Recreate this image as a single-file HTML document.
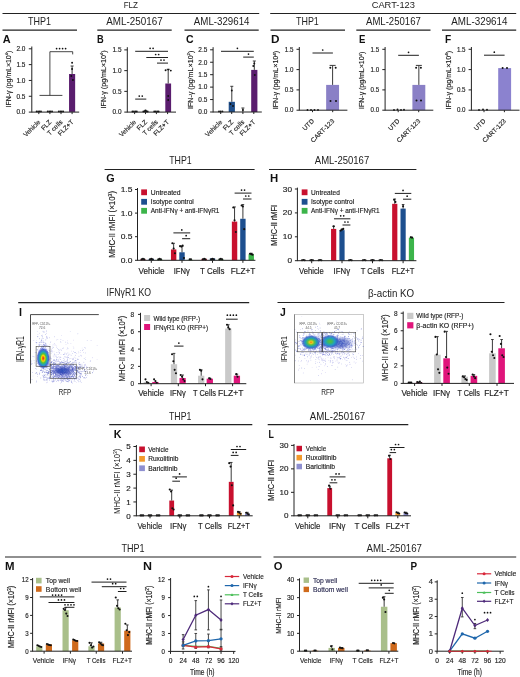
<!DOCTYPE html>
<html><head><meta charset="utf-8"><style>
html,body{margin:0;padding:0;background:#fff;width:520px;height:677px;overflow:hidden}
svg{display:block;will-change:transform}
svg{font-family:"Liberation Sans", sans-serif}
</style></head><body>
<svg width="520" height="677" viewBox="0 0 520 677">
<defs><radialGradient id="hotI" cx="50%" cy="50%" r="50%">
<stop offset="0" stop-color="#e8201a"/><stop offset="0.14" stop-color="#f07a10"/><stop offset="0.26" stop-color="#f5d800"/>
<stop offset="0.42" stop-color="#50c040"/><stop offset="0.6" stop-color="#20a0c0"/><stop offset="0.8" stop-color="#3050c8" stop-opacity="0.85"/>
<stop offset="1" stop-color="#5060d0" stop-opacity="0"/></radialGradient>
<radialGradient id="hotJL" cx="50%" cy="50%" r="50%">
<stop offset="0" stop-color="#f08010"/><stop offset="0.16" stop-color="#e8c820"/><stop offset="0.34" stop-color="#60c040"/>
<stop offset="0.55" stop-color="#20a0b0"/><stop offset="0.78" stop-color="#3060c8" stop-opacity="0.85"/>
<stop offset="1" stop-color="#5060d0" stop-opacity="0"/></radialGradient>
<radialGradient id="hotJR" cx="50%" cy="50%" r="50%">
<stop offset="0" stop-color="#50c040"/><stop offset="0.22" stop-color="#40b860"/>
<stop offset="0.5" stop-color="#20a0c0"/><stop offset="0.78" stop-color="#3060c8" stop-opacity="0.8"/>
<stop offset="1" stop-color="#5060d0" stop-opacity="0"/></radialGradient>
<radialGradient id="blueC" cx="50%" cy="50%" r="50%">
<stop offset="0" stop-color="#2248b8"/><stop offset="0.5" stop-color="#2c44b4" stop-opacity="0.8"/>
<stop offset="1" stop-color="#6070d0" stop-opacity="0"/></radialGradient></defs>
<rect width="520" height="677" fill="#fff"/>
<g fill="#222">
<text x="123.7" y="8" font-size="9.4" textLength="14.3" lengthAdjust="spacingAndGlyphs">FLZ</text>
<line x1="2.5" y1="13.5" x2="259.2" y2="13.5" stroke="#222" stroke-width="1.2"/>
<text x="371.7" y="8" font-size="9.4" textLength="43.3" lengthAdjust="spacingAndGlyphs">CART-123</text>
<line x1="270.2" y1="13.5" x2="516.2" y2="13.5" stroke="#222" stroke-width="1.2"/>
<text x="28" y="25" font-size="10.3" textLength="23" lengthAdjust="spacingAndGlyphs">THP1</text>
<line x1="2.5" y1="30.1" x2="77" y2="30.1" stroke="#222" stroke-width="1.2"/>
<text x="106.3" y="25" font-size="10.3" textLength="56.4" lengthAdjust="spacingAndGlyphs">AML-250167</text>
<line x1="97.3" y1="30.1" x2="171.7" y2="30.1" stroke="#222" stroke-width="1.2"/>
<text x="193.8" y="25" font-size="10.3" textLength="55.7" lengthAdjust="spacingAndGlyphs">AML-329614</text>
<line x1="184.5" y1="30.1" x2="258.7" y2="30.1" stroke="#222" stroke-width="1.2"/>
<text x="296" y="25" font-size="10.3" textLength="22.8" lengthAdjust="spacingAndGlyphs">THP1</text>
<line x1="270.5" y1="30.1" x2="345" y2="30.1" stroke="#222" stroke-width="1.2"/>
<text x="366" y="25" font-size="10.3" textLength="54.8" lengthAdjust="spacingAndGlyphs">AML-250167</text>
<line x1="356.3" y1="30.1" x2="430.5" y2="30.1" stroke="#222" stroke-width="1.2"/>
<text x="451.3" y="25" font-size="10.3" textLength="56.2" lengthAdjust="spacingAndGlyphs">AML-329614</text>
<line x1="442" y1="30.1" x2="516.2" y2="30.1" stroke="#222" stroke-width="1.2"/>
<text x="2.7" y="43.2" font-size="10.5" textLength="7.9" lengthAdjust="spacingAndGlyphs" font-weight="bold" fill="#111">A</text>
<text x="97.1" y="43.2" font-size="10.5" textLength="6.7" lengthAdjust="spacingAndGlyphs" font-weight="bold" fill="#111">B</text>
<text x="186" y="43.2" font-size="10.5" textLength="7.6" lengthAdjust="spacingAndGlyphs" font-weight="bold" fill="#111">C</text>
<text x="271" y="43.2" font-size="10.5" textLength="8.5" lengthAdjust="spacingAndGlyphs" font-weight="bold" fill="#111">D</text>
<text x="358.9" y="43.2" font-size="10.5" textLength="6.4" lengthAdjust="spacingAndGlyphs" font-weight="bold" fill="#111">E</text>
<text x="445" y="43.2" font-size="10.5" textLength="6.2" lengthAdjust="spacingAndGlyphs" font-weight="bold" fill="#111">F</text>
<line x1="31.8" y1="46.5" x2="31.8" y2="112.5" stroke="#222" stroke-width="1"/>
<line x1="28.8" y1="112.1" x2="31.8" y2="112.1" stroke="#222" stroke-width="1"/>
<text x="25.4" y="114.37" font-size="6.3" text-anchor="end" textLength="9" lengthAdjust="spacingAndGlyphs" stroke="#222" stroke-width="0.15">0.0</text>
<line x1="28.8" y1="96.27" x2="31.8" y2="96.27" stroke="#222" stroke-width="1"/>
<text x="25.4" y="98.54" font-size="6.3" text-anchor="end" textLength="9" lengthAdjust="spacingAndGlyphs" stroke="#222" stroke-width="0.15">0.5</text>
<line x1="28.8" y1="80.45" x2="31.8" y2="80.45" stroke="#222" stroke-width="1"/>
<text x="25.4" y="82.72" font-size="6.3" text-anchor="end" textLength="9" lengthAdjust="spacingAndGlyphs" stroke="#222" stroke-width="0.15">1.0</text>
<line x1="28.8" y1="64.62" x2="31.8" y2="64.62" stroke="#222" stroke-width="1"/>
<text x="25.4" y="66.89" font-size="6.3" text-anchor="end" textLength="9" lengthAdjust="spacingAndGlyphs" stroke="#222" stroke-width="0.15">1.5</text>
<line x1="28.8" y1="48.8" x2="31.8" y2="48.8" stroke="#222" stroke-width="1"/>
<text x="25.4" y="51.07" font-size="6.3" text-anchor="end" textLength="9" lengthAdjust="spacingAndGlyphs" stroke="#222" stroke-width="0.15">2.0</text>
<rect x="69.05" y="74" width="6.1" height="37.9" fill="#5a1d6e"/>
<line x1="72.1" y1="66" x2="72.1" y2="74" stroke="#3a3a3a" stroke-width="1"/>
<line x1="70.6" y1="66" x2="73.6" y2="66" stroke="#3a3a3a" stroke-width="1"/>
<circle cx="72.1" cy="62.7" r="0.95" fill="#111"/>
<circle cx="72.1" cy="69" r="0.95" fill="#111"/>
<circle cx="71.3" cy="76" r="0.95" fill="#111"/>
<circle cx="72.9" cy="80" r="0.95" fill="#111"/>
<circle cx="36.6" cy="111.4" r="0.9" fill="#111"/>
<circle cx="38.1" cy="111.4" r="0.9" fill="#111"/>
<circle cx="39.6" cy="111.4" r="0.9" fill="#111"/>
<circle cx="41" cy="111.4" r="0.9" fill="#111"/>
<circle cx="47.7" cy="111.4" r="0.9" fill="#111"/>
<circle cx="49.2" cy="111.4" r="0.9" fill="#111"/>
<circle cx="50.7" cy="111.4" r="0.9" fill="#111"/>
<circle cx="52.1" cy="111.4" r="0.9" fill="#111"/>
<circle cx="58.8" cy="111.4" r="0.9" fill="#111"/>
<circle cx="60.3" cy="111.4" r="0.9" fill="#111"/>
<circle cx="61.8" cy="111.4" r="0.9" fill="#111"/>
<circle cx="63.2" cy="111.4" r="0.9" fill="#111"/>
<line x1="31.8" y1="112.1" x2="79.2" y2="112.1" stroke="#222" stroke-width="1"/>
<line x1="38.8" y1="112.1" x2="38.8" y2="114.1" stroke="#222" stroke-width="1"/>
<line x1="49.9" y1="112.1" x2="49.9" y2="114.1" stroke="#222" stroke-width="1"/>
<line x1="61" y1="112.1" x2="61" y2="114.1" stroke="#222" stroke-width="1"/>
<line x1="72.1" y1="112.1" x2="72.1" y2="114.1" stroke="#222" stroke-width="1"/>
<line x1="39.5" y1="95.4" x2="62.4" y2="95.4" stroke="#262626" stroke-width="0.85"/>
<line x1="49.9" y1="95.4" x2="49.9" y2="51.7" stroke="#262626" stroke-width="0.85"/>
<line x1="49.9" y1="51.7" x2="72.7" y2="51.7" stroke="#262626" stroke-width="0.85"/>
<line x1="72.7" y1="51.7" x2="72.7" y2="54.4" stroke="#262626" stroke-width="0.85"/>
<circle cx="56.6" cy="48.6" r="0.85" fill="#111"/>
<circle cx="59.6" cy="48.6" r="0.85" fill="#111"/>
<circle cx="62.6" cy="48.6" r="0.85" fill="#111"/>
<circle cx="65.6" cy="48.6" r="0.85" fill="#111"/>
<text x="10.6" y="79" font-size="7" text-anchor="middle" textLength="56.7" lengthAdjust="spacingAndGlyphs" stroke="#222" stroke-width="0.15" transform="rotate(-90 10.6 79)">IFN-γ (pg/mL×10<tspan dy="-2.2" font-size="4.2">4</tspan><tspan dy="2.2">)</tspan></text>
<text x="40.8" y="122.5" font-size="6.5" text-anchor="end" stroke="#222" stroke-width="0.15" transform="rotate(-45 40.8 122.5)">Vehicle</text>
<text x="51.9" y="122.5" font-size="6.5" text-anchor="end" stroke="#222" stroke-width="0.15" transform="rotate(-45 51.9 122.5)">FLZ</text>
<text x="63" y="122.5" font-size="6.5" text-anchor="end" stroke="#222" stroke-width="0.15" transform="rotate(-45 63 122.5)">T cells</text>
<text x="74.1" y="122.5" font-size="6.5" text-anchor="end" stroke="#222" stroke-width="0.15" transform="rotate(-45 74.1 122.5)">FLZ+T</text>
<line x1="127.3" y1="47.2" x2="127.3" y2="112.5" stroke="#222" stroke-width="1"/>
<line x1="124.3" y1="112.1" x2="127.3" y2="112.1" stroke="#222" stroke-width="1"/>
<text x="121.5" y="114.37" font-size="6.3" text-anchor="end" textLength="9" lengthAdjust="spacingAndGlyphs" stroke="#222" stroke-width="0.15">0.0</text>
<line x1="124.3" y1="91.37" x2="127.3" y2="91.37" stroke="#222" stroke-width="1"/>
<text x="121.5" y="93.63" font-size="6.3" text-anchor="end" textLength="9" lengthAdjust="spacingAndGlyphs" stroke="#222" stroke-width="0.15">0.5</text>
<line x1="124.3" y1="70.63" x2="127.3" y2="70.63" stroke="#222" stroke-width="1"/>
<text x="121.5" y="72.9" font-size="6.3" text-anchor="end" textLength="9" lengthAdjust="spacingAndGlyphs" stroke="#222" stroke-width="0.15">1.0</text>
<line x1="124.3" y1="49.9" x2="127.3" y2="49.9" stroke="#222" stroke-width="1"/>
<text x="121.5" y="52.17" font-size="6.3" text-anchor="end" textLength="9" lengthAdjust="spacingAndGlyphs" stroke="#222" stroke-width="0.15">1.5</text>
<rect x="165.3" y="83.5" width="5.8" height="28.5" fill="#5a1d6e"/>
<line x1="168.2" y1="69.3" x2="168.2" y2="83.5" stroke="#3a3a3a" stroke-width="1"/>
<line x1="166.7" y1="69.3" x2="169.7" y2="69.3" stroke="#3a3a3a" stroke-width="1"/>
<circle cx="165.6" cy="70.2" r="0.95" fill="#111"/>
<circle cx="168.2" cy="69.6" r="0.95" fill="#111"/>
<circle cx="170.8" cy="70.6" r="0.95" fill="#111"/>
<circle cx="168.2" cy="96" r="0.95" fill="#111"/>
<circle cx="168.2" cy="100" r="0.95" fill="#111"/>
<circle cx="132.4" cy="111.5" r="0.9" fill="#111"/>
<circle cx="133.9" cy="111.5" r="0.9" fill="#111"/>
<circle cx="135.4" cy="111.5" r="0.9" fill="#111"/>
<circle cx="136.8" cy="111.5" r="0.9" fill="#111"/>
<circle cx="143.3" cy="111.5" r="0.9" fill="#111"/>
<circle cx="144.8" cy="111.5" r="0.9" fill="#111"/>
<circle cx="146.3" cy="111.5" r="0.9" fill="#111"/>
<circle cx="147.7" cy="111.5" r="0.9" fill="#111"/>
<circle cx="154.2" cy="111.5" r="0.9" fill="#111"/>
<circle cx="155.7" cy="111.5" r="0.9" fill="#111"/>
<circle cx="157.2" cy="111.5" r="0.9" fill="#111"/>
<circle cx="158.6" cy="111.5" r="0.9" fill="#111"/>
<circle cx="145.5" cy="110.6" r="1.2" fill="#111"/>
<line x1="127.3" y1="112.1" x2="176" y2="112.1" stroke="#222" stroke-width="1"/>
<line x1="134.6" y1="112.1" x2="134.6" y2="114.1" stroke="#222" stroke-width="1"/>
<line x1="145.5" y1="112.1" x2="145.5" y2="114.1" stroke="#222" stroke-width="1"/>
<line x1="156.4" y1="112.1" x2="156.4" y2="114.1" stroke="#222" stroke-width="1"/>
<line x1="167.6" y1="112.1" x2="167.6" y2="114.1" stroke="#222" stroke-width="1"/>
<line x1="135.2" y1="51.3" x2="168" y2="51.3" stroke="#1e1e1e" stroke-width="1"/>
<circle cx="150.1" cy="48.3" r="0.85" fill="#111"/>
<circle cx="153.1" cy="48.3" r="0.85" fill="#111"/>
<line x1="146.3" y1="57.5" x2="168" y2="57.5" stroke="#1e1e1e" stroke-width="1"/>
<circle cx="155.65" cy="54.5" r="0.85" fill="#111"/>
<circle cx="158.65" cy="54.5" r="0.85" fill="#111"/>
<line x1="157" y1="63.1" x2="168" y2="63.1" stroke="#1e1e1e" stroke-width="1"/>
<circle cx="161" cy="60.1" r="0.85" fill="#111"/>
<circle cx="164" cy="60.1" r="0.85" fill="#111"/>
<line x1="135.2" y1="99.1" x2="146.3" y2="99.1" stroke="#1e1e1e" stroke-width="1"/>
<circle cx="139.25" cy="96.1" r="0.85" fill="#111"/>
<circle cx="142.25" cy="96.1" r="0.85" fill="#111"/>
<text x="105.6" y="79.4" font-size="7" text-anchor="middle" textLength="58" lengthAdjust="spacingAndGlyphs" stroke="#222" stroke-width="0.15" transform="rotate(-90 105.6 79.4)">IFN-γ (pg/mL×10<tspan dy="-2.2" font-size="4.2">4</tspan><tspan dy="2.2">)</tspan></text>
<text x="136.6" y="122.5" font-size="6.5" text-anchor="end" stroke="#222" stroke-width="0.15" transform="rotate(-45 136.6 122.5)">Vehicle</text>
<text x="147.5" y="122.5" font-size="6.5" text-anchor="end" stroke="#222" stroke-width="0.15" transform="rotate(-45 147.5 122.5)">FLZ</text>
<text x="158.4" y="122.5" font-size="6.5" text-anchor="end" stroke="#222" stroke-width="0.15" transform="rotate(-45 158.4 122.5)">T cells</text>
<text x="169.6" y="122.5" font-size="6.5" text-anchor="end" stroke="#222" stroke-width="0.15" transform="rotate(-45 169.6 122.5)">FLZ+T</text>
<line x1="213.1" y1="47.2" x2="213.1" y2="112.4" stroke="#222" stroke-width="1"/>
<line x1="210.1" y1="112" x2="213.1" y2="112" stroke="#222" stroke-width="1"/>
<text x="207.3" y="114.27" font-size="6.3" text-anchor="end" textLength="9" lengthAdjust="spacingAndGlyphs" stroke="#222" stroke-width="0.15">0.0</text>
<line x1="210.1" y1="99.56" x2="213.1" y2="99.56" stroke="#222" stroke-width="1"/>
<text x="207.3" y="101.83" font-size="6.3" text-anchor="end" textLength="9" lengthAdjust="spacingAndGlyphs" stroke="#222" stroke-width="0.15">0.5</text>
<line x1="210.1" y1="87.12" x2="213.1" y2="87.12" stroke="#222" stroke-width="1"/>
<text x="207.3" y="89.39" font-size="6.3" text-anchor="end" textLength="9" lengthAdjust="spacingAndGlyphs" stroke="#222" stroke-width="0.15">1.0</text>
<line x1="210.1" y1="74.68" x2="213.1" y2="74.68" stroke="#222" stroke-width="1"/>
<text x="207.3" y="76.95" font-size="6.3" text-anchor="end" textLength="9" lengthAdjust="spacingAndGlyphs" stroke="#222" stroke-width="0.15">1.5</text>
<line x1="210.1" y1="62.24" x2="213.1" y2="62.24" stroke="#222" stroke-width="1"/>
<text x="207.3" y="64.51" font-size="6.3" text-anchor="end" textLength="9" lengthAdjust="spacingAndGlyphs" stroke="#222" stroke-width="0.15">2.0</text>
<line x1="210.1" y1="49.8" x2="213.1" y2="49.8" stroke="#222" stroke-width="1"/>
<text x="207.3" y="52.07" font-size="6.3" text-anchor="end" textLength="9" lengthAdjust="spacingAndGlyphs" stroke="#222" stroke-width="0.15">2.5</text>
<rect x="228.7" y="101.8" width="6.2" height="10.2" fill="#1f4f8c"/>
<line x1="231.8" y1="86.3" x2="231.8" y2="101.8" stroke="#3a3a3a" stroke-width="1"/>
<line x1="230.3" y1="86.3" x2="233.3" y2="86.3" stroke="#3a3a3a" stroke-width="1"/>
<circle cx="231.8" cy="90.5" r="0.95" fill="#111"/>
<circle cx="230.5" cy="104" r="0.95" fill="#111"/>
<circle cx="233" cy="106" r="0.95" fill="#111"/>
<rect x="251.2" y="69.9" width="6.2" height="42.1" fill="#5a1d6e"/>
<line x1="254.3" y1="61" x2="254.3" y2="69.9" stroke="#3a3a3a" stroke-width="1"/>
<line x1="252.8" y1="61" x2="255.8" y2="61" stroke="#3a3a3a" stroke-width="1"/>
<circle cx="254.3" cy="63.5" r="0.95" fill="#111"/>
<circle cx="253.3" cy="66" r="0.95" fill="#111"/>
<circle cx="254.8" cy="75" r="0.95" fill="#111"/>
<line x1="242.9" y1="108" x2="242.9" y2="112" stroke="#3a3a3a" stroke-width="1"/>
<line x1="241.4" y1="108" x2="244.4" y2="108" stroke="#3a3a3a" stroke-width="1"/>
<circle cx="242.9" cy="110" r="0.95" fill="#111"/>
<circle cx="219" cy="111.4" r="0.95" fill="#111"/>
<circle cx="220.7" cy="111.4" r="0.95" fill="#111"/>
<circle cx="222.4" cy="111.4" r="0.95" fill="#111"/>
<line x1="213.1" y1="112" x2="261.8" y2="112" stroke="#222" stroke-width="1"/>
<line x1="220.7" y1="112" x2="220.7" y2="114" stroke="#222" stroke-width="1"/>
<line x1="231.7" y1="112" x2="231.7" y2="114" stroke="#222" stroke-width="1"/>
<line x1="242.9" y1="112" x2="242.9" y2="114" stroke="#222" stroke-width="1"/>
<line x1="253.8" y1="112" x2="253.8" y2="114" stroke="#222" stroke-width="1"/>
<line x1="221" y1="51.3" x2="253.8" y2="51.3" stroke="#1e1e1e" stroke-width="1"/>
<circle cx="237.4" cy="48.3" r="0.85" fill="#111"/>
<line x1="243.2" y1="57.1" x2="253.8" y2="57.1" stroke="#1e1e1e" stroke-width="1"/>
<circle cx="248.5" cy="54.1" r="0.85" fill="#111"/>
<text x="192.6" y="79.85" font-size="7" text-anchor="middle" textLength="58.5" lengthAdjust="spacingAndGlyphs" stroke="#222" stroke-width="0.15" transform="rotate(-90 192.6 79.85)">IFN-γ (pg/mL×10<tspan dy="-2.2" font-size="4.2">2</tspan><tspan dy="2.2">)</tspan></text>
<text x="222.7" y="122.5" font-size="6.5" text-anchor="end" stroke="#222" stroke-width="0.15" transform="rotate(-45 222.7 122.5)">Vehicle</text>
<text x="233.7" y="122.5" font-size="6.5" text-anchor="end" stroke="#222" stroke-width="0.15" transform="rotate(-45 233.7 122.5)">FLZ</text>
<text x="244.9" y="122.5" font-size="6.5" text-anchor="end" stroke="#222" stroke-width="0.15" transform="rotate(-45 244.9 122.5)">T cells</text>
<text x="255.8" y="122.5" font-size="6.5" text-anchor="end" stroke="#222" stroke-width="0.15" transform="rotate(-45 255.8 122.5)">FLZ+T</text>
<line x1="299.3" y1="47" x2="299.3" y2="110.6" stroke="#222" stroke-width="1"/>
<line x1="296.5" y1="110.2" x2="299.3" y2="110.2" stroke="#222" stroke-width="1"/>
<text x="293.4" y="112.47" font-size="6.3" text-anchor="end" textLength="8.62" lengthAdjust="spacingAndGlyphs" stroke="#222" stroke-width="0.15">0.0</text>
<line x1="296.5" y1="89.9" x2="299.3" y2="89.9" stroke="#222" stroke-width="1"/>
<text x="293.4" y="92.17" font-size="6.3" text-anchor="end" textLength="8.62" lengthAdjust="spacingAndGlyphs" stroke="#222" stroke-width="0.15">0.5</text>
<line x1="296.5" y1="69.6" x2="299.3" y2="69.6" stroke="#222" stroke-width="1"/>
<text x="293.4" y="71.87" font-size="6.3" text-anchor="end" textLength="8.62" lengthAdjust="spacingAndGlyphs" stroke="#222" stroke-width="0.15">1.0</text>
<line x1="296.5" y1="49.3" x2="299.3" y2="49.3" stroke="#222" stroke-width="1"/>
<text x="293.4" y="51.57" font-size="6.3" text-anchor="end" textLength="8.62" lengthAdjust="spacingAndGlyphs" stroke="#222" stroke-width="0.15">1.5</text>
<rect x="326.15" y="84.9" width="12.9" height="25.3" fill="#8a80c6"/>
<line x1="332.6" y1="65.4" x2="332.6" y2="84.9" stroke="#3a3a3a" stroke-width="1"/>
<line x1="329.6" y1="65.4" x2="335.6" y2="65.4" stroke="#3a3a3a" stroke-width="1"/>
<circle cx="330.3" cy="67.7" r="1" fill="#111"/>
<circle cx="335.7" cy="67.7" r="1" fill="#111"/>
<circle cx="330.5" cy="100.9" r="1" fill="#111"/>
<circle cx="336" cy="100.9" r="1" fill="#111"/>
<circle cx="307.5" cy="110" r="0.95" fill="#111"/>
<circle cx="311" cy="110" r="0.95" fill="#111"/>
<circle cx="314.5" cy="110" r="0.95" fill="#111"/>
<circle cx="318" cy="110" r="0.95" fill="#111"/>
<line x1="299.3" y1="110.2" x2="347.4" y2="110.2" stroke="#222" stroke-width="1"/>
<line x1="312.5" y1="110.2" x2="312.5" y2="112.2" stroke="#222" stroke-width="1"/>
<line x1="332.7" y1="110.2" x2="332.7" y2="112.2" stroke="#222" stroke-width="1"/>
<line x1="312.5" y1="53" x2="332.9" y2="53" stroke="#1e1e1e" stroke-width="1"/>
<circle cx="322.7" cy="50" r="0.85" fill="#111"/>
<text x="278.5" y="80.1" font-size="6.8" text-anchor="middle" textLength="58.5" lengthAdjust="spacingAndGlyphs" stroke="#222" stroke-width="0.15" transform="rotate(-90 278.5 80.1)">IFN-γ (pg/mL×10<tspan dy="-2.2" font-size="4.2">4</tspan><tspan dy="2.2">)</tspan></text>
<text x="314.5" y="121.5" font-size="6.5" text-anchor="end" stroke="#222" stroke-width="0.15" transform="rotate(-45 314.5 121.5)">UTD</text>
<text x="334.7" y="121.5" font-size="6.5" text-anchor="end" stroke="#222" stroke-width="0.15" transform="rotate(-45 334.7 121.5)">CART-123</text>
<line x1="385.1" y1="47" x2="385.1" y2="110.6" stroke="#222" stroke-width="1"/>
<line x1="382.3" y1="110.2" x2="385.1" y2="110.2" stroke="#222" stroke-width="1"/>
<text x="379.2" y="112.47" font-size="6.3" text-anchor="end" textLength="8.62" lengthAdjust="spacingAndGlyphs" stroke="#222" stroke-width="0.15">0.0</text>
<line x1="382.3" y1="89.9" x2="385.1" y2="89.9" stroke="#222" stroke-width="1"/>
<text x="379.2" y="92.17" font-size="6.3" text-anchor="end" textLength="8.62" lengthAdjust="spacingAndGlyphs" stroke="#222" stroke-width="0.15">0.5</text>
<line x1="382.3" y1="69.6" x2="385.1" y2="69.6" stroke="#222" stroke-width="1"/>
<text x="379.2" y="71.87" font-size="6.3" text-anchor="end" textLength="8.62" lengthAdjust="spacingAndGlyphs" stroke="#222" stroke-width="0.15">1.0</text>
<line x1="382.3" y1="49.3" x2="385.1" y2="49.3" stroke="#222" stroke-width="1"/>
<text x="379.2" y="51.57" font-size="6.3" text-anchor="end" textLength="8.62" lengthAdjust="spacingAndGlyphs" stroke="#222" stroke-width="0.15">1.5</text>
<rect x="412.4" y="84.9" width="12.9" height="25.3" fill="#8a80c6"/>
<line x1="418.85" y1="65.4" x2="418.85" y2="84.9" stroke="#3a3a3a" stroke-width="1"/>
<line x1="415.85" y1="65.4" x2="421.85" y2="65.4" stroke="#3a3a3a" stroke-width="1"/>
<circle cx="416.1" cy="67.7" r="1" fill="#111"/>
<circle cx="420.9" cy="67.7" r="1" fill="#111"/>
<circle cx="416.5" cy="100.5" r="1" fill="#111"/>
<circle cx="421" cy="100.5" r="1" fill="#111"/>
<circle cx="394" cy="110" r="0.95" fill="#111"/>
<circle cx="397.5" cy="109.5" r="0.95" fill="#111"/>
<circle cx="401" cy="110" r="0.95" fill="#111"/>
<circle cx="404" cy="109.8" r="0.95" fill="#111"/>
<line x1="385.1" y1="110.2" x2="433.3" y2="110.2" stroke="#222" stroke-width="1"/>
<line x1="398.2" y1="110.2" x2="398.2" y2="112.2" stroke="#222" stroke-width="1"/>
<line x1="418.7" y1="110.2" x2="418.7" y2="112.2" stroke="#222" stroke-width="1"/>
<line x1="398.2" y1="55.3" x2="418.9" y2="55.3" stroke="#1e1e1e" stroke-width="1"/>
<circle cx="408.55" cy="52.3" r="0.85" fill="#111"/>
<text x="364" y="80.3" font-size="6.8" text-anchor="middle" textLength="57.2" lengthAdjust="spacingAndGlyphs" stroke="#222" stroke-width="0.15" transform="rotate(-90 364 80.3)">IFN-γ (pg/mL×10<tspan dy="-2.2" font-size="4.2">4</tspan><tspan dy="2.2">)</tspan></text>
<text x="400.2" y="121.5" font-size="6.5" text-anchor="end" stroke="#222" stroke-width="0.15" transform="rotate(-45 400.2 121.5)">UTD</text>
<text x="420.7" y="121.5" font-size="6.5" text-anchor="end" stroke="#222" stroke-width="0.15" transform="rotate(-45 420.7 121.5)">CART-123</text>
<line x1="471.4" y1="47" x2="471.4" y2="110.6" stroke="#222" stroke-width="1"/>
<line x1="468.6" y1="110.2" x2="471.4" y2="110.2" stroke="#222" stroke-width="1"/>
<text x="465.5" y="112.47" font-size="6.3" text-anchor="end" textLength="8.62" lengthAdjust="spacingAndGlyphs" stroke="#222" stroke-width="0.15">0.0</text>
<line x1="468.6" y1="89.9" x2="471.4" y2="89.9" stroke="#222" stroke-width="1"/>
<text x="465.5" y="92.17" font-size="6.3" text-anchor="end" textLength="8.62" lengthAdjust="spacingAndGlyphs" stroke="#222" stroke-width="0.15">0.5</text>
<line x1="468.6" y1="69.6" x2="471.4" y2="69.6" stroke="#222" stroke-width="1"/>
<text x="465.5" y="71.87" font-size="6.3" text-anchor="end" textLength="8.62" lengthAdjust="spacingAndGlyphs" stroke="#222" stroke-width="0.15">1.0</text>
<line x1="468.6" y1="49.3" x2="471.4" y2="49.3" stroke="#222" stroke-width="1"/>
<text x="465.5" y="51.57" font-size="6.3" text-anchor="end" textLength="8.62" lengthAdjust="spacingAndGlyphs" stroke="#222" stroke-width="0.15">1.5</text>
<rect x="498.2" y="68.1" width="12.9" height="42.1" fill="#8b82cf"/>
<circle cx="502.6" cy="68" r="1" fill="#111"/>
<circle cx="507" cy="68" r="1" fill="#111"/>
<circle cx="479" cy="110" r="0.95" fill="#111"/>
<circle cx="483" cy="109.4" r="0.95" fill="#111"/>
<circle cx="487" cy="109.8" r="0.95" fill="#111"/>
<line x1="471.4" y1="110.2" x2="519.5" y2="110.2" stroke="#222" stroke-width="1"/>
<line x1="484" y1="110.2" x2="484" y2="112.2" stroke="#222" stroke-width="1"/>
<line x1="504.4" y1="110.2" x2="504.4" y2="112.2" stroke="#222" stroke-width="1"/>
<line x1="484" y1="55.2" x2="504.6" y2="55.2" stroke="#1e1e1e" stroke-width="1"/>
<circle cx="494.3" cy="52.2" r="0.85" fill="#111"/>
<text x="450.6" y="80.15" font-size="6.8" text-anchor="middle" textLength="58.5" lengthAdjust="spacingAndGlyphs" stroke="#222" stroke-width="0.15" transform="rotate(-90 450.6 80.15)">IFN-γ (pg/mL×10<tspan dy="-2.2" font-size="4.2">4</tspan><tspan dy="2.2">)</tspan></text>
<text x="486" y="121.5" font-size="6.5" text-anchor="end" stroke="#222" stroke-width="0.15" transform="rotate(-45 486 121.5)">UTD</text>
<text x="506.4" y="121.5" font-size="6.5" text-anchor="end" stroke="#222" stroke-width="0.15" transform="rotate(-45 506.4 121.5)">CART-123</text>
<text x="169.2" y="164.1" font-size="10.2" textLength="22.5" lengthAdjust="spacingAndGlyphs">THP1</text>
<line x1="104.6" y1="169.5" x2="254.6" y2="169.5" stroke="#222" stroke-width="1.2"/>
<text x="106.2" y="182.3" font-size="10.5" textLength="8.4" lengthAdjust="spacingAndGlyphs" font-weight="bold" fill="#111">G</text>
<line x1="137.5" y1="188" x2="137.5" y2="260.7" stroke="#222" stroke-width="1"/>
<line x1="135" y1="260.3" x2="137.5" y2="260.3" stroke="#222" stroke-width="1"/>
<text x="132.4" y="262.89" font-size="7.2" text-anchor="end" textLength="11.75" lengthAdjust="spacingAndGlyphs" stroke="#222" stroke-width="0.15">0.0</text>
<line x1="135" y1="236.7" x2="137.5" y2="236.7" stroke="#222" stroke-width="1"/>
<text x="132.4" y="239.29" font-size="7.2" text-anchor="end" textLength="11.75" lengthAdjust="spacingAndGlyphs" stroke="#222" stroke-width="0.15">0.5</text>
<line x1="135" y1="213.1" x2="137.5" y2="213.1" stroke="#222" stroke-width="1"/>
<text x="132.4" y="215.69" font-size="7.2" text-anchor="end" textLength="11.75" lengthAdjust="spacingAndGlyphs" stroke="#222" stroke-width="0.15">1.0</text>
<line x1="135" y1="189.5" x2="137.5" y2="189.5" stroke="#222" stroke-width="1"/>
<text x="132.4" y="192.09" font-size="7.2" text-anchor="end" textLength="11.75" lengthAdjust="spacingAndGlyphs" stroke="#222" stroke-width="0.15">1.5</text>
<rect x="140.25" y="259.36" width="5.4" height="0.94" fill="#c8102e"/>
<circle cx="141.65" cy="259.36" r="1.05" fill="#111"/>
<circle cx="142.95" cy="258.88" r="1.05" fill="#111"/>
<circle cx="144.25" cy="259.36" r="1.05" fill="#111"/>
<rect x="148.6" y="258.88" width="5.4" height="1.42" fill="#1d4f8f"/>
<circle cx="150" cy="259.36" r="1.05" fill="#111"/>
<circle cx="151.3" cy="258.88" r="1.05" fill="#111"/>
<circle cx="152.6" cy="259.36" r="1.05" fill="#111"/>
<rect x="156.95" y="259.36" width="5.4" height="0.94" fill="#3cb44a"/>
<circle cx="158.35" cy="259.36" r="1.05" fill="#111"/>
<circle cx="159.65" cy="258.88" r="1.05" fill="#111"/>
<circle cx="160.95" cy="259.36" r="1.05" fill="#111"/>
<rect x="170.95" y="249.44" width="5.4" height="10.86" fill="#c8102e"/>
<line x1="173.65" y1="243.31" x2="173.65" y2="249.44" stroke="#3a3a3a" stroke-width="1"/>
<line x1="172.35" y1="243.31" x2="174.95" y2="243.31" stroke="#3a3a3a" stroke-width="1"/>
<circle cx="172.35" cy="243.31" r="1.05" fill="#111"/>
<circle cx="173.65" cy="248.5" r="1.05" fill="#111"/>
<circle cx="174.95" cy="253.22" r="1.05" fill="#111"/>
<rect x="179.3" y="252.28" width="5.4" height="8.02" fill="#1d4f8f"/>
<line x1="182" y1="246.14" x2="182" y2="252.28" stroke="#3a3a3a" stroke-width="1"/>
<line x1="180.7" y1="246.14" x2="183.3" y2="246.14" stroke="#3a3a3a" stroke-width="1"/>
<circle cx="180.05" cy="246.14" r="1.05" fill="#111"/>
<circle cx="181.35" cy="246.61" r="1.05" fill="#111"/>
<circle cx="182.65" cy="245.67" r="1.05" fill="#111"/>
<circle cx="183.95" cy="257.94" r="1.05" fill="#111"/>
<rect x="187.65" y="259.83" width="5.4" height="0.47" fill="#3cb44a"/>
<circle cx="189.7" cy="259.36" r="1.05" fill="#111"/>
<circle cx="191" cy="259.36" r="1.05" fill="#111"/>
<rect x="201.45" y="258.88" width="5.4" height="1.42" fill="#c8102e"/>
<circle cx="202.85" cy="259.36" r="1.05" fill="#111"/>
<circle cx="204.15" cy="258.88" r="1.05" fill="#111"/>
<circle cx="205.45" cy="259.36" r="1.05" fill="#111"/>
<rect x="209.8" y="258.41" width="5.4" height="1.89" fill="#1d4f8f"/>
<circle cx="211.2" cy="259.36" r="1.05" fill="#111"/>
<circle cx="212.5" cy="258.88" r="1.05" fill="#111"/>
<circle cx="213.8" cy="259.36" r="1.05" fill="#111"/>
<rect x="218.15" y="259.36" width="5.4" height="0.94" fill="#3cb44a"/>
<circle cx="219.55" cy="259.36" r="1.05" fill="#111"/>
<circle cx="220.85" cy="258.88" r="1.05" fill="#111"/>
<circle cx="222.15" cy="259.36" r="1.05" fill="#111"/>
<rect x="231.85" y="221.6" width="5.4" height="38.7" fill="#c8102e"/>
<line x1="234.55" y1="206.96" x2="234.55" y2="221.6" stroke="#3a3a3a" stroke-width="1"/>
<line x1="233.25" y1="206.96" x2="235.85" y2="206.96" stroke="#3a3a3a" stroke-width="1"/>
<circle cx="233.25" cy="207.44" r="1.05" fill="#111"/>
<circle cx="234.55" cy="220.18" r="1.05" fill="#111"/>
<circle cx="235.85" cy="231.98" r="1.05" fill="#111"/>
<rect x="240.2" y="218.76" width="5.4" height="41.54" fill="#1d4f8f"/>
<line x1="242.9" y1="204.6" x2="242.9" y2="218.76" stroke="#3a3a3a" stroke-width="1"/>
<line x1="241.6" y1="204.6" x2="244.2" y2="204.6" stroke="#3a3a3a" stroke-width="1"/>
<circle cx="241.6" cy="205.55" r="1.05" fill="#111"/>
<circle cx="242.9" cy="206.49" r="1.05" fill="#111"/>
<circle cx="244.2" cy="229.15" r="1.05" fill="#111"/>
<rect x="248.55" y="254.16" width="5.4" height="6.14" fill="#3cb44a"/>
<line x1="251.25" y1="253.22" x2="251.25" y2="254.16" stroke="#3a3a3a" stroke-width="1"/>
<line x1="249.95" y1="253.22" x2="252.55" y2="253.22" stroke="#3a3a3a" stroke-width="1"/>
<circle cx="249.95" cy="253.69" r="1.05" fill="#111"/>
<circle cx="251.25" cy="254.16" r="1.05" fill="#111"/>
<circle cx="252.55" cy="254.64" r="1.05" fill="#111"/>
<line x1="137.5" y1="260.3" x2="255.4" y2="260.3" stroke="#222" stroke-width="1"/>
<line x1="151.3" y1="260.3" x2="151.3" y2="262.8" stroke="#222" stroke-width="1"/>
<line x1="182" y1="260.3" x2="182" y2="262.8" stroke="#222" stroke-width="1"/>
<line x1="212.5" y1="260.3" x2="212.5" y2="262.8" stroke="#222" stroke-width="1"/>
<line x1="242.9" y1="260.3" x2="242.9" y2="262.8" stroke="#222" stroke-width="1"/>
<line x1="173.4" y1="232.9" x2="190.2" y2="232.9" stroke="#1e1e1e" stroke-width="1"/>
<circle cx="181.8" cy="229.9" r="0.85" fill="#111"/>
<line x1="182.1" y1="238.7" x2="190.2" y2="238.7" stroke="#1e1e1e" stroke-width="1"/>
<circle cx="186.15" cy="235.7" r="0.85" fill="#111"/>
<line x1="234.6" y1="193.1" x2="251.5" y2="193.1" stroke="#1e1e1e" stroke-width="1"/>
<circle cx="241.55" cy="190.1" r="0.85" fill="#111"/>
<circle cx="244.55" cy="190.1" r="0.85" fill="#111"/>
<line x1="243" y1="199" x2="251.5" y2="199" stroke="#1e1e1e" stroke-width="1"/>
<circle cx="245.75" cy="196" r="0.85" fill="#111"/>
<circle cx="248.75" cy="196" r="0.85" fill="#111"/>
<rect x="141.2" y="189.4" width="5.8" height="5.8" fill="#c8102e"/>
<text x="150.8" y="194.82" font-size="7" textLength="29.8" lengthAdjust="spacingAndGlyphs" stroke="#222" stroke-width="0.15">Untreated</text>
<rect x="141.2" y="198.9" width="5.8" height="5.8" fill="#1d4f8f"/>
<text x="150.8" y="204.32" font-size="7" textLength="43" lengthAdjust="spacingAndGlyphs" stroke="#222" stroke-width="0.15">Isotype control</text>
<rect x="141.2" y="207.9" width="5.8" height="5.8" fill="#3cb44a"/>
<text x="150.8" y="213.32" font-size="7" textLength="68.6" lengthAdjust="spacingAndGlyphs" stroke="#222" stroke-width="0.15">Anti-IFNγ + anti-IFNγR1</text>
<text x="115.2" y="224.4" font-size="8.8" text-anchor="middle" textLength="66.9" lengthAdjust="spacingAndGlyphs" stroke="#222" stroke-width="0.15" transform="rotate(-90 115.2 224.4)">MHC-II rMFI (×10<tspan dy="-3" font-size="5.8">3</tspan><tspan dy="3">)</tspan></text>
<text x="138.5" y="273.8" font-size="8.2" textLength="26.1" lengthAdjust="spacingAndGlyphs" stroke="#222" stroke-width="0.15">Vehicle</text>
<text x="173.7" y="273.8" font-size="8.2" textLength="16.1" lengthAdjust="spacingAndGlyphs" stroke="#222" stroke-width="0.15">IFNγ</text>
<text x="200" y="273.8" font-size="8.2" textLength="24.6" lengthAdjust="spacingAndGlyphs" stroke="#222" stroke-width="0.15">T Cells</text>
<text x="230.8" y="273.8" font-size="8.2" textLength="24.6" lengthAdjust="spacingAndGlyphs" stroke="#222" stroke-width="0.15">FLZ+T</text>
<text x="314.8" y="164.1" font-size="10.2" textLength="54.4" lengthAdjust="spacingAndGlyphs">AML-250167</text>
<line x1="269" y1="169.5" x2="416.4" y2="169.5" stroke="#222" stroke-width="1.2"/>
<text x="270" y="182.3" font-size="10.5" textLength="8.2" lengthAdjust="spacingAndGlyphs" font-weight="bold" fill="#111">H</text>
<line x1="297.4" y1="187.6" x2="297.4" y2="261.1" stroke="#222" stroke-width="1"/>
<line x1="294.9" y1="260.7" x2="297.4" y2="260.7" stroke="#222" stroke-width="1"/>
<text x="292" y="263.29" font-size="7.2" text-anchor="end" textLength="4.6" lengthAdjust="spacingAndGlyphs" stroke="#222" stroke-width="0.15">0</text>
<line x1="294.9" y1="236.8" x2="297.4" y2="236.8" stroke="#222" stroke-width="1"/>
<text x="292" y="239.39" font-size="7.2" text-anchor="end" textLength="9.2" lengthAdjust="spacingAndGlyphs" stroke="#222" stroke-width="0.15">10</text>
<line x1="294.9" y1="212.9" x2="297.4" y2="212.9" stroke="#222" stroke-width="1"/>
<text x="292" y="215.49" font-size="7.2" text-anchor="end" textLength="9.2" lengthAdjust="spacingAndGlyphs" stroke="#222" stroke-width="0.15">20</text>
<line x1="294.9" y1="189" x2="297.4" y2="189" stroke="#222" stroke-width="1"/>
<text x="292" y="191.59" font-size="7.2" text-anchor="end" textLength="9.2" lengthAdjust="spacingAndGlyphs" stroke="#222" stroke-width="0.15">30</text>
<rect x="300.75" y="260.22" width="5.2" height="0.48" fill="#c8102e"/>
<circle cx="302.05" cy="260.22" r="1.05" fill="#111"/>
<circle cx="303.35" cy="259.98" r="1.05" fill="#111"/>
<circle cx="304.65" cy="260.22" r="1.05" fill="#111"/>
<rect x="309.1" y="259.98" width="5.2" height="0.72" fill="#1d4f8f"/>
<circle cx="310.4" cy="260.22" r="1.05" fill="#111"/>
<circle cx="311.7" cy="259.98" r="1.05" fill="#111"/>
<circle cx="313" cy="260.22" r="1.05" fill="#111"/>
<rect x="317.45" y="260.22" width="5.2" height="0.48" fill="#3cb44a"/>
<circle cx="318.75" cy="260.22" r="1.05" fill="#111"/>
<circle cx="320.05" cy="259.98" r="1.05" fill="#111"/>
<circle cx="321.35" cy="260.22" r="1.05" fill="#111"/>
<rect x="331.05" y="228.91" width="5.2" height="31.79" fill="#c8102e"/>
<line x1="333.65" y1="226.28" x2="333.65" y2="228.91" stroke="#3a3a3a" stroke-width="1"/>
<line x1="332.35" y1="226.28" x2="334.95" y2="226.28" stroke="#3a3a3a" stroke-width="1"/>
<circle cx="333.65" cy="226.28" r="1.05" fill="#111"/>
<rect x="339.4" y="230.11" width="5.2" height="30.59" fill="#1d4f8f"/>
<line x1="342" y1="229.15" x2="342" y2="230.11" stroke="#3a3a3a" stroke-width="1"/>
<line x1="340.7" y1="229.15" x2="343.3" y2="229.15" stroke="#3a3a3a" stroke-width="1"/>
<circle cx="340.7" cy="230.59" r="1.05" fill="#111"/>
<circle cx="342" cy="229.63" r="1.05" fill="#111"/>
<circle cx="343.3" cy="228.91" r="1.05" fill="#111"/>
<rect x="347.75" y="260.46" width="5.2" height="0.24" fill="#3cb44a"/>
<circle cx="349.05" cy="260.22" r="1.05" fill="#111"/>
<circle cx="350.35" cy="259.98" r="1.05" fill="#111"/>
<circle cx="351.65" cy="260.22" r="1.05" fill="#111"/>
<rect x="361.55" y="260.22" width="5.2" height="0.48" fill="#c8102e"/>
<circle cx="362.85" cy="260.22" r="1.05" fill="#111"/>
<circle cx="364.15" cy="259.98" r="1.05" fill="#111"/>
<circle cx="365.45" cy="260.22" r="1.05" fill="#111"/>
<rect x="369.9" y="259.98" width="5.2" height="0.72" fill="#1d4f8f"/>
<circle cx="371.2" cy="260.22" r="1.05" fill="#111"/>
<circle cx="372.5" cy="259.98" r="1.05" fill="#111"/>
<circle cx="373.8" cy="260.22" r="1.05" fill="#111"/>
<rect x="378.25" y="260.22" width="5.2" height="0.48" fill="#3cb44a"/>
<circle cx="379.55" cy="260.22" r="1.05" fill="#111"/>
<circle cx="380.85" cy="259.98" r="1.05" fill="#111"/>
<circle cx="382.15" cy="260.22" r="1.05" fill="#111"/>
<rect x="392.15" y="203.82" width="5.2" height="56.88" fill="#c8102e"/>
<line x1="394.75" y1="199.04" x2="394.75" y2="203.82" stroke="#3a3a3a" stroke-width="1"/>
<line x1="393.45" y1="199.04" x2="396.05" y2="199.04" stroke="#3a3a3a" stroke-width="1"/>
<circle cx="394.1" cy="199.75" r="1.05" fill="#111"/>
<circle cx="395.4" cy="201.91" r="1.05" fill="#111"/>
<rect x="400.5" y="208.6" width="5.2" height="52.1" fill="#1d4f8f"/>
<line x1="403.1" y1="204.53" x2="403.1" y2="208.6" stroke="#3a3a3a" stroke-width="1"/>
<line x1="401.8" y1="204.53" x2="404.4" y2="204.53" stroke="#3a3a3a" stroke-width="1"/>
<circle cx="403.1" cy="206.21" r="1.05" fill="#111"/>
<rect x="408.85" y="237.76" width="5.2" height="22.94" fill="#3cb44a"/>
<line x1="411.45" y1="237.04" x2="411.45" y2="237.76" stroke="#3a3a3a" stroke-width="1"/>
<line x1="410.15" y1="237.04" x2="412.75" y2="237.04" stroke="#3a3a3a" stroke-width="1"/>
<circle cx="410.8" cy="237.28" r="1.05" fill="#111"/>
<circle cx="412.1" cy="237.76" r="1.05" fill="#111"/>
<line x1="297.4" y1="260.7" x2="416.4" y2="260.7" stroke="#222" stroke-width="1"/>
<line x1="311.7" y1="260.7" x2="311.7" y2="263.2" stroke="#222" stroke-width="1"/>
<line x1="342" y1="260.7" x2="342" y2="263.2" stroke="#222" stroke-width="1"/>
<line x1="372.5" y1="260.7" x2="372.5" y2="263.2" stroke="#222" stroke-width="1"/>
<line x1="403.1" y1="260.7" x2="403.1" y2="263.2" stroke="#222" stroke-width="1"/>
<line x1="334" y1="218.8" x2="350.4" y2="218.8" stroke="#1e1e1e" stroke-width="1"/>
<circle cx="340.7" cy="215.8" r="0.85" fill="#111"/>
<circle cx="343.7" cy="215.8" r="0.85" fill="#111"/>
<line x1="342.5" y1="225" x2="350.4" y2="225" stroke="#1e1e1e" stroke-width="1"/>
<circle cx="344.95" cy="222" r="0.85" fill="#111"/>
<circle cx="347.95" cy="222" r="0.85" fill="#111"/>
<line x1="394.8" y1="193.4" x2="411.3" y2="193.4" stroke="#1e1e1e" stroke-width="1"/>
<circle cx="403.05" cy="190.4" r="0.85" fill="#111"/>
<line x1="403" y1="199.2" x2="411.3" y2="199.2" stroke="#1e1e1e" stroke-width="1"/>
<circle cx="407.15" cy="196.2" r="0.85" fill="#111"/>
<rect x="301.7" y="189.4" width="5.8" height="5.8" fill="#c8102e"/>
<text x="311" y="194.82" font-size="7" textLength="28.8" lengthAdjust="spacingAndGlyphs" stroke="#222" stroke-width="0.15">Untreated</text>
<rect x="301.7" y="198.9" width="5.8" height="5.8" fill="#1d4f8f"/>
<text x="311" y="204.32" font-size="7" textLength="43.2" lengthAdjust="spacingAndGlyphs" stroke="#222" stroke-width="0.15">Isotype control</text>
<rect x="301.7" y="207.9" width="5.8" height="5.8" fill="#3cb44a"/>
<text x="311" y="213.32" font-size="7" textLength="68.6" lengthAdjust="spacingAndGlyphs" stroke="#222" stroke-width="0.15">Anti-IFNγ + anti-IFNγR1</text>
<text x="277.3" y="225.3" font-size="8.8" text-anchor="middle" textLength="40.8" lengthAdjust="spacingAndGlyphs" stroke="#222" stroke-width="0.15" transform="rotate(-90 277.3 225.3)">MHC-II rMFI</text>
<text x="299" y="273.6" font-size="8.2" textLength="24.8" lengthAdjust="spacingAndGlyphs" stroke="#222" stroke-width="0.15">Vehicle</text>
<text x="333.6" y="273.6" font-size="8.2" textLength="16.5" lengthAdjust="spacingAndGlyphs" stroke="#222" stroke-width="0.15">IFNγ</text>
<text x="360.7" y="273.6" font-size="8.2" textLength="23.7" lengthAdjust="spacingAndGlyphs" stroke="#222" stroke-width="0.15">T Cells</text>
<text x="391.7" y="273.6" font-size="8.2" textLength="22.7" lengthAdjust="spacingAndGlyphs" stroke="#222" stroke-width="0.15">FLZ+T</text>
<text x="106.5" y="296.4" font-size="10.2" textLength="44.5" lengthAdjust="spacingAndGlyphs">IFNγR1 KO</text>
<line x1="18.2" y1="302.7" x2="249.2" y2="302.7" stroke="#222" stroke-width="1.2"/>
<text x="19" y="315.5" font-size="10.5" textLength="3" lengthAdjust="spacingAndGlyphs" font-weight="bold" fill="#111">I</text>
<g opacity="0.8"><circle cx="55.91" cy="365.63" r="0.31" fill="#7a80d8"/><circle cx="45.12" cy="357.65" r="0.44" fill="#7a80d8"/><circle cx="61.49" cy="364.55" r="0.31" fill="#8890dc"/><circle cx="74.16" cy="366.24" r="0.44" fill="#7a80d8"/><circle cx="45.57" cy="349.36" r="0.39" fill="#7a80d8"/><circle cx="90.29" cy="366.28" r="0.36" fill="#b0a8e8"/><circle cx="39.86" cy="356.38" r="0.32" fill="#9a98e0"/><circle cx="50.69" cy="356.93" r="0.38" fill="#7a80d8"/><circle cx="65.18" cy="361.48" r="0.37" fill="#9a98e0"/><circle cx="32.82" cy="356.23" r="0.39" fill="#8890dc"/><circle cx="47.07" cy="362.69" r="0.4" fill="#9a98e0"/><circle cx="60.78" cy="374.37" r="0.43" fill="#8890dc"/><circle cx="58.3" cy="351.01" r="0.32" fill="#7a80d8"/><circle cx="36.57" cy="369.11" r="0.44" fill="#9a98e0"/><circle cx="78.06" cy="366.59" r="0.35" fill="#b0a8e8"/><circle cx="48.96" cy="370.42" r="0.31" fill="#8890dc"/><circle cx="70.56" cy="364.84" r="0.31" fill="#7a80d8"/><circle cx="53.07" cy="344.85" r="0.34" fill="#8890dc"/><circle cx="42.08" cy="370.75" r="0.44" fill="#7a80d8"/><circle cx="46.48" cy="371.92" r="0.31" fill="#8890dc"/><circle cx="60.96" cy="354.25" r="0.36" fill="#9a98e0"/><circle cx="76.24" cy="353.57" r="0.37" fill="#9a98e0"/><circle cx="73.48" cy="340.08" r="0.41" fill="#b0a8e8"/><circle cx="84.16" cy="358.58" r="0.44" fill="#8890dc"/><circle cx="65.81" cy="365.56" r="0.4" fill="#9a98e0"/><circle cx="90.09" cy="361.57" r="0.34" fill="#9a98e0"/><circle cx="76.67" cy="360.29" r="0.39" fill="#b0a8e8"/><circle cx="56.54" cy="365.18" r="0.37" fill="#7a80d8"/><circle cx="87.16" cy="340.36" r="0.36" fill="#8890dc"/><circle cx="45.57" cy="367.78" r="0.31" fill="#8890dc"/><circle cx="69.98" cy="363.09" r="0.32" fill="#9a98e0"/><circle cx="54" cy="356.98" r="0.38" fill="#9a98e0"/><circle cx="80.94" cy="355.22" r="0.43" fill="#7a80d8"/><circle cx="53.16" cy="355.9" r="0.44" fill="#b0a8e8"/><circle cx="45.48" cy="352.53" r="0.43" fill="#7a80d8"/><circle cx="77.91" cy="359.47" r="0.35" fill="#8890dc"/><circle cx="76.44" cy="374.4" r="0.37" fill="#b0a8e8"/><circle cx="53.13" cy="347.61" r="0.44" fill="#9a98e0"/><circle cx="51.13" cy="358.91" r="0.41" fill="#7a80d8"/><circle cx="53.17" cy="375.07" r="0.4" fill="#7a80d8"/><circle cx="58.93" cy="370.49" r="0.35" fill="#9a98e0"/><circle cx="63.4" cy="373.54" r="0.4" fill="#b0a8e8"/><circle cx="38.64" cy="347.34" r="0.42" fill="#9a98e0"/><circle cx="70.93" cy="343.59" r="0.33" fill="#9a98e0"/><circle cx="34.1" cy="360.81" r="0.42" fill="#7a80d8"/><circle cx="49.66" cy="361.25" r="0.37" fill="#b0a8e8"/><circle cx="74.63" cy="357.08" r="0.32" fill="#9a98e0"/><circle cx="45.73" cy="361.87" r="0.39" fill="#8890dc"/><circle cx="84.83" cy="347.65" r="0.44" fill="#8890dc"/><circle cx="47.21" cy="373.12" r="0.44" fill="#7a80d8"/><circle cx="65.37" cy="342.06" r="0.43" fill="#8890dc"/><circle cx="39.19" cy="366.31" r="0.42" fill="#7a80d8"/><circle cx="75.81" cy="358.04" r="0.41" fill="#8890dc"/><circle cx="68.1" cy="363.29" r="0.3" fill="#9a98e0"/><circle cx="44.93" cy="353.35" r="0.39" fill="#9a98e0"/><circle cx="45.05" cy="352.93" r="0.32" fill="#b0a8e8"/><circle cx="56.82" cy="359.32" r="0.38" fill="#7a80d8"/><circle cx="75.6" cy="355.25" r="0.42" fill="#9a98e0"/><circle cx="62.95" cy="368.13" r="0.38" fill="#b0a8e8"/><circle cx="61.22" cy="350.27" r="0.43" fill="#8890dc"/><circle cx="84.36" cy="366.74" r="0.4" fill="#8890dc"/><circle cx="67.67" cy="347.83" r="0.38" fill="#9a98e0"/><circle cx="56.92" cy="359.69" r="0.42" fill="#8890dc"/><circle cx="38.51" cy="348" r="0.33" fill="#9a98e0"/><circle cx="34.64" cy="362.93" r="0.35" fill="#7a80d8"/><circle cx="39.76" cy="358.39" r="0.43" fill="#7a80d8"/><circle cx="69.77" cy="362.51" r="0.42" fill="#7a80d8"/><circle cx="39.47" cy="359.32" r="0.37" fill="#7a80d8"/><circle cx="45.56" cy="351.52" r="0.4" fill="#9a98e0"/><circle cx="41.13" cy="364.01" r="0.38" fill="#8890dc"/><circle cx="60.29" cy="373.39" r="0.44" fill="#b0a8e8"/><circle cx="68.41" cy="355.38" r="0.32" fill="#8890dc"/><circle cx="72.48" cy="368.22" r="0.4" fill="#7a80d8"/><circle cx="50.04" cy="363.31" r="0.42" fill="#b0a8e8"/><circle cx="67.39" cy="356.16" r="0.32" fill="#b0a8e8"/><circle cx="91.04" cy="340.66" r="0.41" fill="#9a98e0"/><circle cx="87.62" cy="372.75" r="0.45" fill="#9a98e0"/><circle cx="64.7" cy="354.33" r="0.45" fill="#8890dc"/><circle cx="46.23" cy="366.54" r="0.35" fill="#b0a8e8"/><circle cx="59.45" cy="357.85" r="0.37" fill="#8890dc"/><circle cx="74.27" cy="361.12" r="0.38" fill="#b0a8e8"/><circle cx="70.2" cy="331.48" r="0.31" fill="#7a80d8"/><circle cx="71.2" cy="376.79" r="0.43" fill="#8890dc"/><circle cx="42.66" cy="336.25" r="0.32" fill="#8890dc"/><circle cx="78.18" cy="353.04" r="0.31" fill="#b0a8e8"/><circle cx="82.85" cy="365.94" r="0.43" fill="#8890dc"/><circle cx="59.65" cy="362.01" r="0.42" fill="#7a80d8"/><circle cx="87.25" cy="370.88" r="0.34" fill="#7a80d8"/><circle cx="61.76" cy="361.16" r="0.44" fill="#8890dc"/><circle cx="59.06" cy="365.75" r="0.44" fill="#9a98e0"/><circle cx="72.24" cy="358.35" r="0.33" fill="#9a98e0"/><circle cx="54.82" cy="368.68" r="0.34" fill="#9a98e0"/><circle cx="49.99" cy="360" r="0.42" fill="#b0a8e8"/><circle cx="64.39" cy="359.9" r="0.41" fill="#7a80d8"/><circle cx="50.16" cy="357.75" r="0.34" fill="#8890dc"/><circle cx="37.84" cy="365.26" r="0.4" fill="#8890dc"/><circle cx="73.49" cy="358.25" r="0.45" fill="#9a98e0"/><circle cx="43.37" cy="377.36" r="0.36" fill="#9a98e0"/><circle cx="56.92" cy="363.01" r="0.3" fill="#9a98e0"/><circle cx="36.77" cy="343.94" r="0.32" fill="#8890dc"/><circle cx="86.47" cy="370.68" r="0.39" fill="#b0a8e8"/><circle cx="58.28" cy="356.87" r="0.32" fill="#9a98e0"/><circle cx="48.21" cy="362.87" r="0.45" fill="#b0a8e8"/><circle cx="48.54" cy="357.6" r="0.33" fill="#b0a8e8"/><circle cx="65.91" cy="369.07" r="0.37" fill="#7a80d8"/><circle cx="49.28" cy="359.87" r="0.31" fill="#7a80d8"/><circle cx="63.65" cy="354.4" r="0.36" fill="#7a80d8"/><circle cx="53.08" cy="374.76" r="0.39" fill="#7a80d8"/><circle cx="33.78" cy="356.66" r="0.41" fill="#8890dc"/><circle cx="56.58" cy="347.37" r="0.41" fill="#b0a8e8"/><circle cx="57.02" cy="357.42" r="0.41" fill="#8890dc"/><circle cx="63.34" cy="354.43" r="0.42" fill="#7a80d8"/><circle cx="49.93" cy="344.57" r="0.31" fill="#9a98e0"/><circle cx="82" cy="364.07" r="0.36" fill="#7a80d8"/><circle cx="55.07" cy="361.07" r="0.39" fill="#7a80d8"/><circle cx="52.17" cy="348.44" r="0.37" fill="#7a80d8"/><circle cx="93.6" cy="370.89" r="0.4" fill="#7a80d8"/><circle cx="83.92" cy="367.25" r="0.42" fill="#b0a8e8"/><circle cx="66.65" cy="353.38" r="0.33" fill="#9a98e0"/><circle cx="49.55" cy="350.12" r="0.31" fill="#8890dc"/><circle cx="71.14" cy="355.17" r="0.39" fill="#7a80d8"/><circle cx="55.99" cy="356.55" r="0.35" fill="#9a98e0"/><circle cx="45.74" cy="346.23" r="0.3" fill="#9a98e0"/><circle cx="71.75" cy="363.24" r="0.4" fill="#7a80d8"/><circle cx="54.03" cy="351.86" r="0.37" fill="#b0a8e8"/><circle cx="52.14" cy="361.16" r="0.35" fill="#9a98e0"/><circle cx="75.54" cy="366.39" r="0.37" fill="#b0a8e8"/><circle cx="77.86" cy="333.86" r="0.45" fill="#8890dc"/><circle cx="32.98" cy="376" r="0.31" fill="#9a98e0"/><circle cx="82.39" cy="369.81" r="0.44" fill="#b0a8e8"/><circle cx="79.93" cy="375.08" r="0.43" fill="#b0a8e8"/><circle cx="56.65" cy="352.36" r="0.36" fill="#8890dc"/><circle cx="81.18" cy="382.65" r="0.36" fill="#8890dc"/><circle cx="57.63" cy="348.7" r="0.35" fill="#8890dc"/><circle cx="60.51" cy="359.45" r="0.43" fill="#b0a8e8"/><circle cx="86.64" cy="377.21" r="0.44" fill="#7a80d8"/><circle cx="56.18" cy="370.28" r="0.36" fill="#8890dc"/><circle cx="64.37" cy="356.8" r="0.41" fill="#8890dc"/><circle cx="67.91" cy="352.92" r="0.43" fill="#7a80d8"/><circle cx="60.05" cy="368.65" r="0.33" fill="#b0a8e8"/><circle cx="32" cy="379.65" r="0.42" fill="#7a80d8"/><circle cx="35.92" cy="342.17" r="0.41" fill="#9a98e0"/><circle cx="84.73" cy="365.46" r="0.39" fill="#8890dc"/><circle cx="80.8" cy="376.98" r="0.31" fill="#8890dc"/><circle cx="67.48" cy="357.45" r="0.36" fill="#8890dc"/><circle cx="57.56" cy="368.29" r="0.36" fill="#b0a8e8"/><circle cx="61.31" cy="372.61" r="0.32" fill="#8890dc"/><circle cx="56.07" cy="356.59" r="0.38" fill="#8890dc"/><circle cx="46.23" cy="362.88" r="0.36" fill="#8890dc"/><circle cx="48.57" cy="357.57" r="0.35" fill="#9a98e0"/><circle cx="69.94" cy="364.4" r="0.42" fill="#b0a8e8"/><circle cx="60.95" cy="362.12" r="0.36" fill="#8890dc"/><circle cx="59.71" cy="352.45" r="0.35" fill="#b0a8e8"/><circle cx="71.93" cy="363.37" r="0.32" fill="#b0a8e8"/><circle cx="37.45" cy="359.67" r="0.31" fill="#9a98e0"/><circle cx="72.56" cy="353.45" r="0.36" fill="#8890dc"/><circle cx="48.85" cy="378.67" r="0.32" fill="#7a80d8"/><circle cx="35.77" cy="368.46" r="0.45" fill="#8890dc"/><circle cx="53.78" cy="360.27" r="0.45" fill="#8890dc"/><circle cx="60.07" cy="365.29" r="0.32" fill="#9a98e0"/><circle cx="67.56" cy="359.07" r="0.31" fill="#8890dc"/><circle cx="60.14" cy="359.43" r="0.33" fill="#9a98e0"/><circle cx="80.19" cy="352.36" r="0.44" fill="#b0a8e8"/><circle cx="46.26" cy="350.38" r="0.4" fill="#8890dc"/><circle cx="64.66" cy="362.72" r="0.36" fill="#9a98e0"/><circle cx="63.58" cy="374.71" r="0.38" fill="#7a80d8"/><circle cx="72.93" cy="359.8" r="0.4" fill="#b0a8e8"/><circle cx="73.54" cy="351.67" r="0.38" fill="#9a98e0"/><circle cx="76.21" cy="362.07" r="0.31" fill="#b0a8e8"/><circle cx="71.44" cy="381.48" r="0.31" fill="#8890dc"/><circle cx="62.33" cy="371.45" r="0.33" fill="#b0a8e8"/><circle cx="74.2" cy="362.12" r="0.35" fill="#8890dc"/><circle cx="58.52" cy="360.78" r="0.41" fill="#b0a8e8"/><circle cx="49.16" cy="359.77" r="0.35" fill="#9a98e0"/><circle cx="64.94" cy="352.79" r="0.34" fill="#9a98e0"/><circle cx="65.9" cy="356.61" r="0.39" fill="#8890dc"/><circle cx="74.67" cy="352.33" r="0.44" fill="#7a80d8"/><circle cx="69.7" cy="368.75" r="0.3" fill="#9a98e0"/><circle cx="46.35" cy="353.53" r="0.33" fill="#7a80d8"/><circle cx="36.01" cy="365.4" r="0.41" fill="#b0a8e8"/><circle cx="97.05" cy="359.6" r="0.33" fill="#b0a8e8"/><circle cx="48.77" cy="349.02" r="0.3" fill="#8890dc"/><circle cx="52.01" cy="350.78" r="0.45" fill="#b0a8e8"/><circle cx="52.81" cy="361.87" r="0.34" fill="#7a80d8"/><circle cx="36.24" cy="382.05" r="0.38" fill="#7a80d8"/><circle cx="60.87" cy="349.26" r="0.42" fill="#b0a8e8"/><circle cx="55.37" cy="361.44" r="0.33" fill="#8890dc"/><circle cx="43.19" cy="356.91" r="0.35" fill="#b0a8e8"/><circle cx="63.17" cy="358.36" r="0.34" fill="#8890dc"/><circle cx="48.51" cy="352.06" r="0.31" fill="#8890dc"/><circle cx="93.22" cy="369.47" r="0.33" fill="#b0a8e8"/><circle cx="80.15" cy="365.77" r="0.34" fill="#b0a8e8"/><circle cx="81.39" cy="356" r="0.41" fill="#b0a8e8"/><circle cx="46.53" cy="336.79" r="0.3" fill="#b0a8e8"/><circle cx="61.27" cy="335.51" r="0.3" fill="#7a80d8"/><circle cx="61.84" cy="372.43" r="0.44" fill="#8890dc"/><circle cx="50.8" cy="365.47" r="0.42" fill="#8890dc"/><circle cx="72.6" cy="369.54" r="0.42" fill="#7a80d8"/><circle cx="57.85" cy="339.59" r="0.39" fill="#9a98e0"/><circle cx="53.41" cy="368.52" r="0.42" fill="#b0a8e8"/><circle cx="44.2" cy="352.55" r="0.41" fill="#8890dc"/><circle cx="60.1" cy="364.02" r="0.37" fill="#7a80d8"/><circle cx="50.9" cy="358.2" r="0.43" fill="#8890dc"/><circle cx="72.52" cy="359.34" r="0.33" fill="#7a80d8"/><circle cx="69.72" cy="358.82" r="0.36" fill="#9a98e0"/><circle cx="42.57" cy="348.7" r="0.42" fill="#7a80d8"/><circle cx="56.47" cy="368.57" r="0.36" fill="#b0a8e8"/><circle cx="59.2" cy="352.69" r="0.33" fill="#9a98e0"/><circle cx="61.18" cy="368.9" r="0.35" fill="#9a98e0"/><circle cx="48.4" cy="359.63" r="0.4" fill="#7a80d8"/><circle cx="67.42" cy="359.71" r="0.43" fill="#8890dc"/><circle cx="62.07" cy="371.91" r="0.31" fill="#b0a8e8"/><circle cx="57.82" cy="365.34" r="0.39" fill="#9a98e0"/><circle cx="64.94" cy="353.62" r="0.36" fill="#7a80d8"/><circle cx="71.65" cy="351.05" r="0.42" fill="#b0a8e8"/><circle cx="59.08" cy="358.93" r="0.33" fill="#b0a8e8"/><circle cx="54.01" cy="364.46" r="0.45" fill="#9a98e0"/><circle cx="85.23" cy="364.25" r="0.42" fill="#9a98e0"/><circle cx="66.88" cy="349.76" r="0.33" fill="#b0a8e8"/><circle cx="55.89" cy="366.86" r="0.38" fill="#8890dc"/><circle cx="66.82" cy="361.97" r="0.4" fill="#8890dc"/><circle cx="71.16" cy="371.22" r="0.36" fill="#9a98e0"/><circle cx="51.78" cy="350.05" r="0.35" fill="#7a80d8"/><circle cx="46.25" cy="355.8" r="0.3" fill="#8890dc"/><circle cx="63.01" cy="340.3" r="0.36" fill="#9a98e0"/><circle cx="51.45" cy="362.58" r="0.42" fill="#7a80d8"/><circle cx="32.45" cy="372.66" r="0.42" fill="#8890dc"/><circle cx="63.57" cy="362.61" r="0.4" fill="#9a98e0"/><circle cx="65.83" cy="357.45" r="0.41" fill="#b0a8e8"/><circle cx="66.99" cy="368.97" r="0.38" fill="#9a98e0"/><circle cx="66.85" cy="357.62" r="0.41" fill="#8890dc"/><circle cx="67.57" cy="340.81" r="0.32" fill="#b0a8e8"/><circle cx="54.73" cy="360.39" r="0.31" fill="#8890dc"/><circle cx="54.27" cy="343.67" r="0.4" fill="#9a98e0"/><circle cx="73.84" cy="347.99" r="0.42" fill="#9a98e0"/><circle cx="64.59" cy="367.04" r="0.44" fill="#8890dc"/><circle cx="68.37" cy="368.64" r="0.34" fill="#9a98e0"/><circle cx="54.64" cy="336.82" r="0.43" fill="#7a80d8"/><circle cx="73.12" cy="346.27" r="0.32" fill="#b0a8e8"/><circle cx="43.6" cy="351.86" r="0.4" fill="#b0a8e8"/><circle cx="55.67" cy="367.78" r="0.4" fill="#8890dc"/><circle cx="43.77" cy="363.88" r="0.3" fill="#7a80d8"/><circle cx="77.83" cy="358.93" r="0.41" fill="#8890dc"/><circle cx="63.32" cy="348.04" r="0.42" fill="#9a98e0"/><circle cx="55.17" cy="362.4" r="0.36" fill="#b0a8e8"/><circle cx="74.49" cy="366.47" r="0.31" fill="#7a80d8"/><circle cx="84.7" cy="378.15" r="0.42" fill="#b0a8e8"/><circle cx="54.67" cy="359.74" r="0.4" fill="#8890dc"/><circle cx="60.78" cy="357.54" r="0.45" fill="#7a80d8"/><circle cx="56.7" cy="339.92" r="0.32" fill="#9a98e0"/><circle cx="69.93" cy="354.04" r="0.4" fill="#9a98e0"/><circle cx="57.96" cy="352.35" r="0.39" fill="#b0a8e8"/><circle cx="59.8" cy="369.73" r="0.44" fill="#b0a8e8"/><circle cx="48.2" cy="362.28" r="0.33" fill="#8890dc"/><circle cx="58.47" cy="373.02" r="0.36" fill="#b0a8e8"/><circle cx="65.13" cy="370.61" r="0.4" fill="#b0a8e8"/><circle cx="67.7" cy="355.91" r="0.32" fill="#b0a8e8"/><circle cx="37.67" cy="357" r="0.44" fill="#b0a8e8"/><circle cx="41.41" cy="363.88" r="0.34" fill="#7a80d8"/><circle cx="58.83" cy="349.43" r="0.45" fill="#8890dc"/><circle cx="46.63" cy="355.14" r="0.37" fill="#7a80d8"/><circle cx="71.72" cy="376.26" r="0.34" fill="#7a80d8"/><circle cx="46.29" cy="359.04" r="0.41" fill="#b0a8e8"/><circle cx="59.8" cy="352.21" r="0.39" fill="#b0a8e8"/><circle cx="42.53" cy="365.45" r="0.32" fill="#7a80d8"/><circle cx="63.32" cy="375.84" r="0.31" fill="#7a80d8"/><circle cx="47.58" cy="356.17" r="0.38" fill="#b0a8e8"/><circle cx="48.42" cy="364.83" r="0.33" fill="#9a98e0"/><circle cx="47.07" cy="351.23" r="0.3" fill="#9a98e0"/><circle cx="67.98" cy="343.65" r="0.31" fill="#8890dc"/><circle cx="39.07" cy="343" r="0.36" fill="#b0a8e8"/><circle cx="59.78" cy="361.67" r="0.39" fill="#b0a8e8"/><circle cx="40.87" cy="352.93" r="0.34" fill="#8890dc"/><circle cx="63.94" cy="358.12" r="0.36" fill="#7a80d8"/><circle cx="60.43" cy="363.8" r="0.3" fill="#7a80d8"/><circle cx="66.69" cy="365.72" r="0.42" fill="#8890dc"/><circle cx="66.28" cy="368.42" r="0.39" fill="#b0a8e8"/><circle cx="85.67" cy="359.34" r="0.41" fill="#8890dc"/><circle cx="90.84" cy="360.85" r="0.31" fill="#8890dc"/><circle cx="54.44" cy="354.34" r="0.34" fill="#7a80d8"/><circle cx="54.93" cy="355.56" r="0.41" fill="#b0a8e8"/><circle cx="57.96" cy="373.9" r="0.4" fill="#8890dc"/><circle cx="97.12" cy="345.4" r="0.4" fill="#b0a8e8"/><circle cx="70.92" cy="358.33" r="0.33" fill="#7a80d8"/><circle cx="85.38" cy="348.1" r="0.44" fill="#9a98e0"/><circle cx="59.66" cy="350.22" r="0.35" fill="#8890dc"/><circle cx="43.25" cy="347.63" r="0.37" fill="#8890dc"/><circle cx="58.22" cy="359.76" r="0.37" fill="#7a80d8"/><circle cx="56.7" cy="345.88" r="0.42" fill="#b0a8e8"/><circle cx="43.51" cy="369.19" r="0.32" fill="#9a98e0"/><circle cx="67.49" cy="360.88" r="0.35" fill="#9a98e0"/><circle cx="62.43" cy="362.07" r="0.32" fill="#7a80d8"/><circle cx="57.07" cy="357.45" r="0.41" fill="#7a80d8"/><circle cx="79.58" cy="365.9" r="0.33" fill="#b0a8e8"/><circle cx="78.97" cy="356.17" r="0.43" fill="#7a80d8"/><circle cx="60.91" cy="342.67" r="0.32" fill="#8890dc"/><circle cx="62.14" cy="365.15" r="0.44" fill="#7a80d8"/><circle cx="82.72" cy="350.24" r="0.42" fill="#7a80d8"/><circle cx="51.08" cy="353.34" r="0.32" fill="#7a80d8"/><circle cx="66.01" cy="344.69" r="0.35" fill="#b0a8e8"/><circle cx="57.08" cy="361.04" r="0.44" fill="#b0a8e8"/><circle cx="85.78" cy="365.56" r="0.42" fill="#b0a8e8"/><circle cx="45.42" cy="352.52" r="0.39" fill="#b0a8e8"/><circle cx="76.2" cy="362.2" r="0.38" fill="#8890dc"/><circle cx="74.68" cy="367.17" r="0.38" fill="#7a80d8"/><circle cx="66.64" cy="381.42" r="0.39" fill="#7a80d8"/><circle cx="56.04" cy="371.46" r="0.34" fill="#9a98e0"/><circle cx="60.02" cy="356.34" r="0.37" fill="#b0a8e8"/><circle cx="31.48" cy="361.05" r="0.45" fill="#9a98e0"/><circle cx="39.08" cy="358.63" r="0.34" fill="#9a98e0"/><circle cx="65.46" cy="376.64" r="0.32" fill="#8890dc"/><circle cx="85.3" cy="352.95" r="0.42" fill="#8890dc"/><circle cx="50.83" cy="341.71" r="0.35" fill="#b0a8e8"/><circle cx="46.96" cy="366.41" r="0.36" fill="#7a80d8"/><circle cx="50.61" cy="351.58" r="0.34" fill="#b0a8e8"/><circle cx="75.35" cy="352.45" r="0.45" fill="#8890dc"/><circle cx="33.84" cy="340.67" r="0.38" fill="#9a98e0"/><circle cx="60.75" cy="341.61" r="0.35" fill="#7a80d8"/><circle cx="55.69" cy="365.66" r="0.4" fill="#8890dc"/><circle cx="59.51" cy="353.3" r="0.4" fill="#8890dc"/><circle cx="59.47" cy="367.97" r="0.37" fill="#b0a8e8"/><circle cx="68.85" cy="354.64" r="0.34" fill="#9a98e0"/><circle cx="60.89" cy="339.42" r="0.41" fill="#9a98e0"/><circle cx="85.32" cy="357.22" r="0.32" fill="#b0a8e8"/><circle cx="55.12" cy="366.29" r="0.32" fill="#7a80d8"/><circle cx="54.23" cy="353.93" r="0.45" fill="#9a98e0"/><circle cx="67.24" cy="342.82" r="0.34" fill="#8890dc"/><circle cx="87.24" cy="375.35" r="0.33" fill="#b0a8e8"/><circle cx="56.79" cy="361.87" r="0.43" fill="#8890dc"/><circle cx="49.54" cy="363.03" r="0.37" fill="#b0a8e8"/><circle cx="73.68" cy="371.64" r="0.3" fill="#8890dc"/><circle cx="61.52" cy="381.51" r="0.43" fill="#8890dc"/><circle cx="48.52" cy="346.09" r="0.4" fill="#9a98e0"/><circle cx="48.91" cy="350.6" r="0.34" fill="#b0a8e8"/><circle cx="49.64" cy="337.77" r="0.42" fill="#9a98e0"/><circle cx="54.83" cy="344.91" r="0.43" fill="#b0a8e8"/><circle cx="56.83" cy="360.24" r="0.38" fill="#8890dc"/><circle cx="42.77" cy="341.05" r="0.42" fill="#b0a8e8"/><circle cx="45.79" cy="368.21" r="0.31" fill="#7a80d8"/><circle cx="50.87" cy="358.25" r="0.38" fill="#9a98e0"/><circle cx="76.84" cy="368.53" r="0.41" fill="#9a98e0"/><circle cx="37.22" cy="358.8" r="0.38" fill="#b0a8e8"/><circle cx="66.03" cy="376.18" r="0.38" fill="#8890dc"/><circle cx="83.58" cy="352.7" r="0.4" fill="#b0a8e8"/><circle cx="59.76" cy="370.79" r="0.3" fill="#7a80d8"/><circle cx="45.43" cy="365.63" r="0.39" fill="#b0a8e8"/><circle cx="70.53" cy="365.93" r="0.44" fill="#8890dc"/><circle cx="48.92" cy="358.69" r="0.37" fill="#8890dc"/><circle cx="78.85" cy="381.76" r="0.42" fill="#7a80d8"/><circle cx="48.03" cy="350.75" r="0.42" fill="#9a98e0"/><circle cx="74.37" cy="372.95" r="0.37" fill="#8890dc"/><circle cx="54.45" cy="373.33" r="0.42" fill="#9a98e0"/><circle cx="32.52" cy="363.68" r="0.34" fill="#9a98e0"/><circle cx="51.29" cy="365.91" r="0.4" fill="#8890dc"/><circle cx="31.24" cy="362.3" r="0.35" fill="#b0a8e8"/><circle cx="52.05" cy="352.03" r="0.36" fill="#8890dc"/><circle cx="44.73" cy="347.74" r="0.32" fill="#b0a8e8"/><circle cx="54.83" cy="370.25" r="0.42" fill="#7a80d8"/><circle cx="83.25" cy="349.26" r="0.38" fill="#9a98e0"/><circle cx="48.1" cy="372.02" r="0.33" fill="#7a80d8"/><circle cx="71.98" cy="364" r="0.39" fill="#7a80d8"/><circle cx="66.24" cy="354.41" r="0.35" fill="#8890dc"/><circle cx="79.89" cy="379.5" r="0.39" fill="#9a98e0"/><circle cx="43.3" cy="332.02" r="0.4" fill="#7a80d8"/><circle cx="82.15" cy="348.02" r="0.33" fill="#b0a8e8"/><circle cx="53.08" cy="347.33" r="0.4" fill="#8890dc"/><circle cx="65.96" cy="363.7" r="0.34" fill="#8890dc"/><circle cx="71.95" cy="369.85" r="0.37" fill="#7a80d8"/><circle cx="80.59" cy="350.44" r="0.37" fill="#9a98e0"/><circle cx="90.65" cy="360.88" r="0.4" fill="#8890dc"/><circle cx="46.57" cy="360.14" r="0.36" fill="#8890dc"/><circle cx="80.27" cy="367.14" r="0.3" fill="#7a80d8"/><circle cx="85.06" cy="365.11" r="0.42" fill="#b0a8e8"/><circle cx="75.29" cy="367.05" r="0.31" fill="#9a98e0"/><circle cx="55.55" cy="344.89" r="0.31" fill="#b0a8e8"/><circle cx="52.09" cy="351.55" r="0.34" fill="#9a98e0"/><circle cx="53.35" cy="367.01" r="0.42" fill="#7a80d8"/><circle cx="52.01" cy="379.89" r="0.35" fill="#8890dc"/><circle cx="92.34" cy="357.8" r="0.45" fill="#b0a8e8"/><circle cx="44" cy="343.91" r="0.33" fill="#b0a8e8"/><circle cx="58.08" cy="354.41" r="0.42" fill="#7a80d8"/><circle cx="84.82" cy="364.39" r="0.38" fill="#8890dc"/><circle cx="72.87" cy="362.86" r="0.31" fill="#7a80d8"/><circle cx="67.94" cy="348.77" r="0.42" fill="#7a80d8"/><circle cx="78.57" cy="351.88" r="0.39" fill="#9a98e0"/><circle cx="52.88" cy="346.02" r="0.33" fill="#7a80d8"/><circle cx="51.18" cy="349.45" r="0.32" fill="#9a98e0"/><circle cx="61.84" cy="362.74" r="0.44" fill="#7a80d8"/><circle cx="51.43" cy="351.24" r="0.42" fill="#9a98e0"/><circle cx="48.57" cy="356.77" r="0.33" fill="#b0a8e8"/><circle cx="63.17" cy="360.48" r="0.37" fill="#7a80d8"/><circle cx="62.49" cy="348.63" r="0.37" fill="#8890dc"/><circle cx="75.77" cy="360.97" r="0.37" fill="#9a98e0"/><circle cx="53.67" cy="362.67" r="0.33" fill="#8890dc"/><circle cx="61.64" cy="361.59" r="0.3" fill="#7a80d8"/><circle cx="37.19" cy="331.74" r="0.33" fill="#7a80d8"/><circle cx="73.08" cy="368.59" r="0.41" fill="#b0a8e8"/><circle cx="61.26" cy="377.87" r="0.44" fill="#9a98e0"/></g>
<g opacity="0.8"><circle cx="39.47" cy="363.14" r="0.45" fill="#5a68d0"/><circle cx="46.89" cy="358.4" r="0.39" fill="#9a98e0"/><circle cx="45.23" cy="349.16" r="0.44" fill="#3a48c0"/><circle cx="43.55" cy="352.11" r="0.38" fill="#3a48c0"/><circle cx="41.34" cy="363.26" r="0.42" fill="#9a98e0"/><circle cx="39.84" cy="372.06" r="0.39" fill="#9a98e0"/><circle cx="47.18" cy="372.29" r="0.37" fill="#3a48c0"/><circle cx="40.23" cy="341.98" r="0.4" fill="#9a98e0"/><circle cx="43.62" cy="342.27" r="0.46" fill="#7a80d8"/><circle cx="40.57" cy="348.95" r="0.42" fill="#3a48c0"/><circle cx="39.64" cy="338.84" r="0.47" fill="#7a80d8"/><circle cx="42.91" cy="350.43" r="0.42" fill="#5a68d0"/><circle cx="41.78" cy="360.88" r="0.38" fill="#5a68d0"/><circle cx="41.27" cy="340.8" r="0.46" fill="#5a68d0"/><circle cx="42.96" cy="352.51" r="0.35" fill="#7a80d8"/><circle cx="46.96" cy="368.92" r="0.36" fill="#3a48c0"/><circle cx="47.27" cy="366.64" r="0.35" fill="#5a68d0"/><circle cx="46.45" cy="338.86" r="0.37" fill="#9a98e0"/><circle cx="46.5" cy="357.82" r="0.34" fill="#9a98e0"/><circle cx="43.01" cy="331.15" r="0.36" fill="#5a68d0"/><circle cx="46" cy="355.2" r="0.49" fill="#5a68d0"/><circle cx="42.62" cy="351.36" r="0.39" fill="#9a98e0"/><circle cx="47.94" cy="360.54" r="0.35" fill="#3a48c0"/><circle cx="37.01" cy="342.8" r="0.4" fill="#7a80d8"/><circle cx="41.25" cy="348.9" r="0.32" fill="#5a68d0"/><circle cx="43.91" cy="345.01" r="0.38" fill="#7a80d8"/><circle cx="41.19" cy="351.45" r="0.48" fill="#3a48c0"/><circle cx="36.59" cy="352.76" r="0.43" fill="#7a80d8"/><circle cx="43.43" cy="346.9" r="0.37" fill="#3a48c0"/><circle cx="42.35" cy="351.78" r="0.34" fill="#3a48c0"/><circle cx="45.84" cy="343.57" r="0.35" fill="#5a68d0"/><circle cx="43.61" cy="342.68" r="0.45" fill="#9a98e0"/><circle cx="46.45" cy="330.98" r="0.47" fill="#7a80d8"/><circle cx="37.52" cy="376.68" r="0.32" fill="#9a98e0"/><circle cx="46.88" cy="355.62" r="0.4" fill="#9a98e0"/><circle cx="46.84" cy="336.24" r="0.48" fill="#9a98e0"/><circle cx="42.62" cy="348.24" r="0.41" fill="#7a80d8"/><circle cx="37.92" cy="334.58" r="0.34" fill="#9a98e0"/><circle cx="44.81" cy="344.98" r="0.5" fill="#5a68d0"/><circle cx="43.16" cy="354.49" r="0.49" fill="#7a80d8"/><circle cx="46.78" cy="356.16" r="0.47" fill="#3a48c0"/><circle cx="48.38" cy="356.61" r="0.31" fill="#9a98e0"/><circle cx="46.29" cy="363.91" r="0.44" fill="#5a68d0"/><circle cx="41.71" cy="363.48" r="0.39" fill="#3a48c0"/><circle cx="40.8" cy="358.46" r="0.4" fill="#7a80d8"/><circle cx="44.16" cy="357.79" r="0.48" fill="#5a68d0"/><circle cx="45.8" cy="345.66" r="0.46" fill="#5a68d0"/><circle cx="46.34" cy="366.2" r="0.49" fill="#3a48c0"/><circle cx="47.49" cy="337.99" r="0.46" fill="#5a68d0"/><circle cx="50.05" cy="346.64" r="0.47" fill="#9a98e0"/><circle cx="40.57" cy="344.87" r="0.36" fill="#7a80d8"/><circle cx="43.16" cy="356.44" r="0.33" fill="#7a80d8"/><circle cx="43.19" cy="355.03" r="0.41" fill="#9a98e0"/><circle cx="46.98" cy="366.36" r="0.38" fill="#7a80d8"/><circle cx="43.01" cy="354.04" r="0.37" fill="#7a80d8"/><circle cx="44.84" cy="361.1" r="0.39" fill="#7a80d8"/><circle cx="41.16" cy="352.57" r="0.43" fill="#3a48c0"/><circle cx="44.71" cy="332.07" r="0.47" fill="#9a98e0"/><circle cx="46.93" cy="362.27" r="0.39" fill="#7a80d8"/><circle cx="42.83" cy="358.63" r="0.32" fill="#5a68d0"/><circle cx="41.33" cy="370.57" r="0.47" fill="#3a48c0"/><circle cx="44.77" cy="351.32" r="0.39" fill="#3a48c0"/><circle cx="39.18" cy="351.47" r="0.3" fill="#9a98e0"/><circle cx="44.93" cy="342.43" r="0.37" fill="#5a68d0"/><circle cx="46.18" cy="354.33" r="0.41" fill="#7a80d8"/><circle cx="44.3" cy="356.33" r="0.44" fill="#5a68d0"/><circle cx="43.43" cy="355.45" r="0.48" fill="#3a48c0"/><circle cx="42.35" cy="336.88" r="0.34" fill="#5a68d0"/><circle cx="39.18" cy="342.84" r="0.42" fill="#5a68d0"/><circle cx="43.35" cy="355.17" r="0.47" fill="#9a98e0"/><circle cx="46.35" cy="346.54" r="0.37" fill="#7a80d8"/><circle cx="46.49" cy="336.92" r="0.32" fill="#9a98e0"/><circle cx="38.42" cy="360.22" r="0.47" fill="#5a68d0"/><circle cx="42.79" cy="357.74" r="0.31" fill="#7a80d8"/><circle cx="41.76" cy="340.75" r="0.37" fill="#3a48c0"/><circle cx="50.67" cy="342.2" r="0.32" fill="#3a48c0"/><circle cx="41.7" cy="335.83" r="0.46" fill="#7a80d8"/><circle cx="45.83" cy="343.31" r="0.36" fill="#3a48c0"/><circle cx="47.04" cy="361.13" r="0.4" fill="#9a98e0"/><circle cx="39.1" cy="349.87" r="0.35" fill="#3a48c0"/><circle cx="46.77" cy="358.61" r="0.32" fill="#5a68d0"/><circle cx="42.98" cy="368.59" r="0.3" fill="#3a48c0"/><circle cx="47.69" cy="345.41" r="0.3" fill="#7a80d8"/><circle cx="39.6" cy="345.1" r="0.44" fill="#5a68d0"/><circle cx="48.16" cy="362.94" r="0.31" fill="#5a68d0"/><circle cx="45.67" cy="359.33" r="0.32" fill="#7a80d8"/><circle cx="47.8" cy="364.93" r="0.47" fill="#5a68d0"/><circle cx="45.51" cy="361.37" r="0.33" fill="#9a98e0"/><circle cx="46.46" cy="333.17" r="0.44" fill="#9a98e0"/><circle cx="39.44" cy="345" r="0.38" fill="#3a48c0"/><circle cx="48.17" cy="346.38" r="0.38" fill="#7a80d8"/><circle cx="45.68" cy="339.88" r="0.46" fill="#7a80d8"/><circle cx="43.61" cy="349.56" r="0.49" fill="#5a68d0"/><circle cx="45.22" cy="349.27" r="0.43" fill="#9a98e0"/><circle cx="44.53" cy="352.31" r="0.31" fill="#5a68d0"/><circle cx="39.54" cy="356.36" r="0.35" fill="#3a48c0"/><circle cx="40.17" cy="356.33" r="0.43" fill="#9a98e0"/><circle cx="45.42" cy="334.59" r="0.31" fill="#3a48c0"/><circle cx="41.42" cy="346.5" r="0.43" fill="#7a80d8"/><circle cx="43.3" cy="349.72" r="0.35" fill="#3a48c0"/><circle cx="39.62" cy="350.78" r="0.36" fill="#3a48c0"/><circle cx="41.42" cy="364.22" r="0.31" fill="#3a48c0"/><circle cx="49.97" cy="346.84" r="0.32" fill="#7a80d8"/><circle cx="36.74" cy="340.79" r="0.32" fill="#9a98e0"/><circle cx="44.81" cy="357.51" r="0.42" fill="#9a98e0"/><circle cx="42.21" cy="366.52" r="0.47" fill="#7a80d8"/><circle cx="39.8" cy="344.55" r="0.34" fill="#9a98e0"/><circle cx="42.12" cy="342.3" r="0.42" fill="#7a80d8"/><circle cx="40.29" cy="353.5" r="0.37" fill="#5a68d0"/><circle cx="44.51" cy="362.48" r="0.3" fill="#9a98e0"/><circle cx="39.17" cy="366.31" r="0.36" fill="#5a68d0"/><circle cx="41.84" cy="358.35" r="0.36" fill="#5a68d0"/><circle cx="43.26" cy="346.76" r="0.42" fill="#3a48c0"/><circle cx="40.29" cy="362.76" r="0.47" fill="#9a98e0"/><circle cx="39.7" cy="364.12" r="0.5" fill="#5a68d0"/><circle cx="39.72" cy="333.15" r="0.37" fill="#9a98e0"/><circle cx="40.12" cy="362.8" r="0.46" fill="#7a80d8"/><circle cx="37.79" cy="350.36" r="0.35" fill="#9a98e0"/><circle cx="39.92" cy="342.69" r="0.38" fill="#5a68d0"/><circle cx="45.62" cy="357.59" r="0.4" fill="#3a48c0"/><circle cx="47.05" cy="349.28" r="0.47" fill="#9a98e0"/><circle cx="42.18" cy="364.33" r="0.38" fill="#3a48c0"/><circle cx="39.62" cy="354.94" r="0.36" fill="#7a80d8"/><circle cx="39.85" cy="359.27" r="0.43" fill="#9a98e0"/><circle cx="48.29" cy="352.63" r="0.38" fill="#9a98e0"/><circle cx="41.77" cy="362.62" r="0.39" fill="#5a68d0"/><circle cx="41.34" cy="356.56" r="0.36" fill="#7a80d8"/><circle cx="46.38" cy="337.7" r="0.34" fill="#7a80d8"/><circle cx="36.71" cy="360.82" r="0.31" fill="#3a48c0"/><circle cx="42.72" cy="371.13" r="0.48" fill="#7a80d8"/><circle cx="43.59" cy="340.93" r="0.4" fill="#9a98e0"/><circle cx="38.16" cy="350.52" r="0.39" fill="#9a98e0"/><circle cx="47.65" cy="355.42" r="0.49" fill="#9a98e0"/><circle cx="41.26" cy="342.17" r="0.38" fill="#3a48c0"/><circle cx="38.37" cy="351.93" r="0.48" fill="#5a68d0"/><circle cx="46.6" cy="349.7" r="0.45" fill="#9a98e0"/><circle cx="46.43" cy="344.91" r="0.33" fill="#3a48c0"/><circle cx="39.32" cy="374.68" r="0.4" fill="#7a80d8"/><circle cx="48.22" cy="364.21" r="0.46" fill="#7a80d8"/><circle cx="49.69" cy="350.85" r="0.43" fill="#9a98e0"/><circle cx="37.18" cy="349.51" r="0.4" fill="#5a68d0"/><circle cx="43.77" cy="357.29" r="0.37" fill="#3a48c0"/><circle cx="47.55" cy="351.5" r="0.44" fill="#3a48c0"/><circle cx="43.24" cy="352.05" r="0.48" fill="#3a48c0"/><circle cx="41.83" cy="354.46" r="0.43" fill="#3a48c0"/><circle cx="44.24" cy="361.98" r="0.47" fill="#7a80d8"/><circle cx="46.05" cy="345.4" r="0.41" fill="#5a68d0"/><circle cx="41.62" cy="354.43" r="0.4" fill="#5a68d0"/><circle cx="42.22" cy="351.87" r="0.33" fill="#3a48c0"/><circle cx="37.1" cy="349.64" r="0.46" fill="#9a98e0"/><circle cx="43.47" cy="352.54" r="0.33" fill="#7a80d8"/><circle cx="43.19" cy="359.21" r="0.35" fill="#3a48c0"/><circle cx="48.62" cy="363.39" r="0.37" fill="#3a48c0"/><circle cx="40" cy="354.75" r="0.34" fill="#3a48c0"/><circle cx="38.68" cy="361.3" r="0.39" fill="#3a48c0"/><circle cx="41.24" cy="347.33" r="0.33" fill="#3a48c0"/><circle cx="41.31" cy="349.11" r="0.48" fill="#3a48c0"/><circle cx="44.1" cy="344.99" r="0.49" fill="#7a80d8"/><circle cx="35.18" cy="352.62" r="0.44" fill="#5a68d0"/><circle cx="41.07" cy="341.37" r="0.36" fill="#9a98e0"/><circle cx="45.61" cy="344.69" r="0.32" fill="#5a68d0"/><circle cx="44.51" cy="359.7" r="0.49" fill="#3a48c0"/><circle cx="41.96" cy="363.18" r="0.37" fill="#3a48c0"/><circle cx="45" cy="346.12" r="0.49" fill="#3a48c0"/><circle cx="36.75" cy="361.33" r="0.38" fill="#5a68d0"/><circle cx="40.12" cy="353.7" r="0.31" fill="#9a98e0"/><circle cx="41.5" cy="344.94" r="0.35" fill="#5a68d0"/><circle cx="44.45" cy="356.33" r="0.41" fill="#5a68d0"/><circle cx="37.43" cy="355.29" r="0.33" fill="#5a68d0"/><circle cx="39.91" cy="363.5" r="0.43" fill="#9a98e0"/><circle cx="40.65" cy="348.33" r="0.4" fill="#9a98e0"/><circle cx="43.5" cy="361.78" r="0.49" fill="#5a68d0"/><circle cx="47.31" cy="351.84" r="0.42" fill="#9a98e0"/><circle cx="41.38" cy="356.99" r="0.33" fill="#5a68d0"/><circle cx="43.02" cy="338.45" r="0.41" fill="#3a48c0"/><circle cx="42.3" cy="367.34" r="0.31" fill="#9a98e0"/><circle cx="42.64" cy="347.06" r="0.38" fill="#3a48c0"/><circle cx="44.71" cy="354.89" r="0.36" fill="#5a68d0"/><circle cx="42.2" cy="348.31" r="0.46" fill="#7a80d8"/><circle cx="43.11" cy="346.12" r="0.32" fill="#7a80d8"/><circle cx="41.59" cy="368.1" r="0.36" fill="#9a98e0"/><circle cx="37.25" cy="363.24" r="0.49" fill="#5a68d0"/><circle cx="44.36" cy="359.7" r="0.48" fill="#7a80d8"/><circle cx="47.93" cy="354.22" r="0.35" fill="#9a98e0"/><circle cx="44.7" cy="345.12" r="0.34" fill="#3a48c0"/><circle cx="48.29" cy="365.16" r="0.44" fill="#5a68d0"/><circle cx="43.88" cy="352.65" r="0.39" fill="#5a68d0"/><circle cx="43.08" cy="346.76" r="0.41" fill="#3a48c0"/><circle cx="37.76" cy="336.42" r="0.41" fill="#5a68d0"/><circle cx="42.49" cy="345.25" r="0.43" fill="#9a98e0"/><circle cx="36.33" cy="342.4" r="0.47" fill="#3a48c0"/><circle cx="43.44" cy="344.71" r="0.48" fill="#3a48c0"/><circle cx="38.75" cy="344.92" r="0.44" fill="#5a68d0"/><circle cx="45.73" cy="353.82" r="0.45" fill="#7a80d8"/><circle cx="47.22" cy="359.14" r="0.5" fill="#9a98e0"/><circle cx="41.31" cy="347.79" r="0.37" fill="#3a48c0"/><circle cx="46.29" cy="348.97" r="0.44" fill="#7a80d8"/><circle cx="42.57" cy="335.1" r="0.4" fill="#9a98e0"/><circle cx="42.03" cy="346.53" r="0.4" fill="#5a68d0"/><circle cx="45.94" cy="372.61" r="0.33" fill="#7a80d8"/><circle cx="45.88" cy="365.43" r="0.41" fill="#5a68d0"/><circle cx="43" cy="355.15" r="0.37" fill="#7a80d8"/><circle cx="46.8" cy="359.03" r="0.33" fill="#5a68d0"/><circle cx="41.73" cy="339.08" r="0.44" fill="#5a68d0"/><circle cx="47.9" cy="352.51" r="0.49" fill="#5a68d0"/><circle cx="41.39" cy="358.1" r="0.42" fill="#5a68d0"/><circle cx="43.26" cy="364.66" r="0.41" fill="#3a48c0"/><circle cx="43.13" cy="346.53" r="0.42" fill="#5a68d0"/><circle cx="37.71" cy="355.71" r="0.32" fill="#5a68d0"/><circle cx="42.26" cy="360.25" r="0.31" fill="#5a68d0"/><circle cx="45.16" cy="347.34" r="0.44" fill="#3a48c0"/><circle cx="41.52" cy="353.41" r="0.39" fill="#7a80d8"/><circle cx="40.6" cy="348.87" r="0.31" fill="#3a48c0"/><circle cx="34.23" cy="356.94" r="0.32" fill="#9a98e0"/><circle cx="41.16" cy="327.33" r="0.32" fill="#7a80d8"/><circle cx="39.59" cy="352.67" r="0.46" fill="#5a68d0"/><circle cx="41.68" cy="359.64" r="0.43" fill="#3a48c0"/><circle cx="37.8" cy="336.86" r="0.43" fill="#7a80d8"/><circle cx="47.68" cy="359.04" r="0.45" fill="#3a48c0"/><circle cx="44.43" cy="345.62" r="0.49" fill="#5a68d0"/></g>
<g opacity="0.8"><circle cx="44.11" cy="369.58" r="0.32" fill="#2838b0"/><circle cx="61.49" cy="367.45" r="0.37" fill="#6a70cc"/><circle cx="69.72" cy="378.19" r="0.35" fill="#3844b8"/><circle cx="76.24" cy="378.13" r="0.35" fill="#3844b8"/><circle cx="74.25" cy="372.39" r="0.48" fill="#5058c0"/><circle cx="72.89" cy="369.34" r="0.45" fill="#5058c0"/><circle cx="75.22" cy="370.84" r="0.33" fill="#2030a8"/><circle cx="63.69" cy="373.27" r="0.32" fill="#5058c0"/><circle cx="72.38" cy="372.12" r="0.34" fill="#2838b0"/><circle cx="61.4" cy="371.77" r="0.47" fill="#6a70cc"/><circle cx="65.18" cy="366.7" r="0.31" fill="#3844b8"/><circle cx="76.33" cy="373.25" r="0.31" fill="#3844b8"/><circle cx="85.46" cy="371.58" r="0.48" fill="#2838b0"/><circle cx="66.86" cy="374.02" r="0.46" fill="#5058c0"/><circle cx="57.73" cy="366.15" r="0.32" fill="#5058c0"/><circle cx="58.53" cy="375.17" r="0.48" fill="#6a70cc"/><circle cx="79.16" cy="362.49" r="0.42" fill="#6a70cc"/><circle cx="64.19" cy="369.63" r="0.42" fill="#3844b8"/><circle cx="59.59" cy="376.23" r="0.4" fill="#3844b8"/><circle cx="58.44" cy="368.17" r="0.41" fill="#3844b8"/><circle cx="51.34" cy="364.93" r="0.44" fill="#2838b0"/><circle cx="59.41" cy="371.58" r="0.37" fill="#6a70cc"/><circle cx="54.84" cy="368.88" r="0.35" fill="#6a70cc"/><circle cx="56.47" cy="372.18" r="0.34" fill="#2838b0"/><circle cx="71.74" cy="367.63" r="0.34" fill="#2030a8"/><circle cx="69.8" cy="365.81" r="0.41" fill="#2838b0"/><circle cx="62.9" cy="375.87" r="0.39" fill="#6a70cc"/><circle cx="49.56" cy="369.34" r="0.48" fill="#6a70cc"/><circle cx="46.95" cy="367.65" r="0.46" fill="#2030a8"/><circle cx="70.08" cy="374.71" r="0.44" fill="#6a70cc"/><circle cx="63.19" cy="368.93" r="0.32" fill="#6a70cc"/><circle cx="67.34" cy="367.33" r="0.49" fill="#2838b0"/><circle cx="66.66" cy="375.45" r="0.33" fill="#2030a8"/><circle cx="63.51" cy="369.57" r="0.31" fill="#2838b0"/><circle cx="76.52" cy="372.69" r="0.39" fill="#2838b0"/><circle cx="66.53" cy="372.56" r="0.42" fill="#2030a8"/><circle cx="71.04" cy="367.11" r="0.33" fill="#3844b8"/><circle cx="62.76" cy="367.16" r="0.47" fill="#2030a8"/><circle cx="69.24" cy="373.83" r="0.49" fill="#6a70cc"/><circle cx="62.53" cy="369.77" r="0.37" fill="#6a70cc"/><circle cx="58.06" cy="373.94" r="0.32" fill="#6a70cc"/><circle cx="75.04" cy="368.15" r="0.37" fill="#3844b8"/><circle cx="62.36" cy="370.18" r="0.39" fill="#6a70cc"/><circle cx="65.66" cy="366.3" r="0.46" fill="#2030a8"/><circle cx="67.53" cy="375.9" r="0.47" fill="#3844b8"/><circle cx="54.71" cy="364.01" r="0.48" fill="#6a70cc"/><circle cx="49.63" cy="369.46" r="0.49" fill="#3844b8"/><circle cx="71.21" cy="371.33" r="0.4" fill="#2838b0"/><circle cx="60.73" cy="371.11" r="0.31" fill="#2030a8"/><circle cx="53.59" cy="366.85" r="0.38" fill="#6a70cc"/><circle cx="57.78" cy="371.37" r="0.38" fill="#5058c0"/><circle cx="71.63" cy="366.87" r="0.37" fill="#2030a8"/><circle cx="55.35" cy="370.36" r="0.42" fill="#2838b0"/><circle cx="68.28" cy="371.69" r="0.45" fill="#3844b8"/><circle cx="58.05" cy="375.12" r="0.36" fill="#3844b8"/><circle cx="57.71" cy="375.15" r="0.3" fill="#2838b0"/><circle cx="37.47" cy="374.11" r="0.43" fill="#2030a8"/><circle cx="62.28" cy="368.69" r="0.35" fill="#5058c0"/><circle cx="55.98" cy="371" r="0.41" fill="#6a70cc"/><circle cx="58.75" cy="369.84" r="0.48" fill="#2030a8"/><circle cx="66.3" cy="369.92" r="0.45" fill="#2838b0"/><circle cx="54.44" cy="366.58" r="0.46" fill="#3844b8"/><circle cx="64.77" cy="368.02" r="0.44" fill="#2838b0"/><circle cx="57.92" cy="377.72" r="0.4" fill="#3844b8"/><circle cx="57.48" cy="368.07" r="0.44" fill="#6a70cc"/><circle cx="55.89" cy="376.65" r="0.48" fill="#3844b8"/><circle cx="65.16" cy="366.13" r="0.46" fill="#2838b0"/><circle cx="68.14" cy="370.95" r="0.3" fill="#2838b0"/><circle cx="69.81" cy="367.66" r="0.38" fill="#5058c0"/><circle cx="65.9" cy="361.42" r="0.31" fill="#6a70cc"/><circle cx="60.54" cy="374.42" r="0.41" fill="#6a70cc"/><circle cx="70.59" cy="369.53" r="0.42" fill="#2838b0"/><circle cx="67.95" cy="372.27" r="0.37" fill="#6a70cc"/><circle cx="39.59" cy="373.24" r="0.44" fill="#5058c0"/><circle cx="78.16" cy="367.22" r="0.48" fill="#3844b8"/><circle cx="61.88" cy="374.2" r="0.45" fill="#2030a8"/><circle cx="58.36" cy="368.8" r="0.34" fill="#2030a8"/><circle cx="58.14" cy="372.66" r="0.36" fill="#6a70cc"/><circle cx="58.88" cy="370.98" r="0.45" fill="#2838b0"/><circle cx="74.87" cy="369.69" r="0.31" fill="#2030a8"/><circle cx="67.77" cy="365.97" r="0.3" fill="#2838b0"/><circle cx="61.33" cy="376.97" r="0.43" fill="#2030a8"/><circle cx="68.5" cy="369.65" r="0.47" fill="#3844b8"/><circle cx="73.24" cy="371.82" r="0.44" fill="#6a70cc"/><circle cx="61.38" cy="372.23" r="0.46" fill="#5058c0"/><circle cx="73.58" cy="374.01" r="0.5" fill="#5058c0"/><circle cx="45.75" cy="376.88" r="0.31" fill="#2030a8"/><circle cx="57.65" cy="376.59" r="0.31" fill="#3844b8"/><circle cx="52.1" cy="366.58" r="0.33" fill="#3844b8"/><circle cx="69.15" cy="371.34" r="0.45" fill="#6a70cc"/><circle cx="76.95" cy="375.12" r="0.37" fill="#5058c0"/><circle cx="55.33" cy="363.38" r="0.43" fill="#2838b0"/><circle cx="56.52" cy="368.76" r="0.35" fill="#6a70cc"/><circle cx="59.33" cy="364.08" r="0.43" fill="#3844b8"/><circle cx="49.59" cy="368.99" r="0.36" fill="#6a70cc"/><circle cx="41.82" cy="369.54" r="0.35" fill="#2838b0"/><circle cx="59.15" cy="370.31" r="0.33" fill="#3844b8"/><circle cx="56.72" cy="367.92" r="0.49" fill="#2030a8"/><circle cx="59.74" cy="369.49" r="0.4" fill="#6a70cc"/><circle cx="57.64" cy="370.09" r="0.37" fill="#6a70cc"/><circle cx="66.33" cy="373.12" r="0.41" fill="#2838b0"/><circle cx="54.62" cy="376.32" r="0.5" fill="#5058c0"/><circle cx="50.2" cy="371.04" r="0.48" fill="#3844b8"/><circle cx="58.24" cy="372.86" r="0.32" fill="#2030a8"/><circle cx="62.65" cy="369.46" r="0.43" fill="#5058c0"/><circle cx="59.17" cy="373.44" r="0.38" fill="#5058c0"/><circle cx="81.93" cy="366.08" r="0.31" fill="#2838b0"/><circle cx="77.03" cy="371.86" r="0.35" fill="#2838b0"/><circle cx="67.4" cy="377.78" r="0.36" fill="#3844b8"/><circle cx="69.28" cy="370.9" r="0.46" fill="#6a70cc"/><circle cx="42.23" cy="372.39" r="0.49" fill="#3844b8"/><circle cx="67.97" cy="373.68" r="0.37" fill="#2030a8"/><circle cx="44.13" cy="371.8" r="0.36" fill="#2838b0"/><circle cx="45.64" cy="364.28" r="0.42" fill="#2838b0"/><circle cx="67.58" cy="369.06" r="0.31" fill="#3844b8"/><circle cx="64.45" cy="366.53" r="0.47" fill="#5058c0"/><circle cx="70.56" cy="370.89" r="0.46" fill="#2030a8"/><circle cx="74.49" cy="378.57" r="0.48" fill="#2838b0"/><circle cx="71.57" cy="376.57" r="0.45" fill="#2030a8"/><circle cx="54.17" cy="371.94" r="0.37" fill="#5058c0"/><circle cx="75.45" cy="367.73" r="0.5" fill="#3844b8"/><circle cx="69.44" cy="371.63" r="0.31" fill="#2030a8"/><circle cx="56.47" cy="370.91" r="0.44" fill="#5058c0"/><circle cx="62.62" cy="369.69" r="0.31" fill="#3844b8"/><circle cx="80.38" cy="377.74" r="0.41" fill="#2838b0"/><circle cx="69.41" cy="371.05" r="0.33" fill="#6a70cc"/><circle cx="62.21" cy="366.06" r="0.41" fill="#2030a8"/><circle cx="75.06" cy="362.08" r="0.37" fill="#2030a8"/><circle cx="68.12" cy="381.73" r="0.45" fill="#2838b0"/><circle cx="62.19" cy="373.6" r="0.35" fill="#3844b8"/><circle cx="68.82" cy="370.42" r="0.38" fill="#2030a8"/><circle cx="54.99" cy="369.61" r="0.37" fill="#2030a8"/><circle cx="72.56" cy="372.19" r="0.41" fill="#3844b8"/><circle cx="53.63" cy="359.9" r="0.38" fill="#3844b8"/><circle cx="59.1" cy="374.98" r="0.38" fill="#2838b0"/><circle cx="56.05" cy="373.84" r="0.48" fill="#2838b0"/><circle cx="58.6" cy="368.67" r="0.49" fill="#6a70cc"/><circle cx="62.64" cy="376.77" r="0.5" fill="#5058c0"/><circle cx="69.07" cy="365.49" r="0.47" fill="#2030a8"/><circle cx="67.17" cy="362.02" r="0.38" fill="#2030a8"/><circle cx="50.24" cy="368.71" r="0.41" fill="#5058c0"/><circle cx="53.37" cy="381.27" r="0.39" fill="#2030a8"/><circle cx="56.9" cy="367.21" r="0.42" fill="#3844b8"/><circle cx="69.57" cy="370.9" r="0.37" fill="#5058c0"/><circle cx="85.6" cy="375.5" r="0.42" fill="#3844b8"/><circle cx="59.5" cy="367.68" r="0.43" fill="#6a70cc"/><circle cx="76.61" cy="367.71" r="0.48" fill="#3844b8"/><circle cx="48.81" cy="372.12" r="0.42" fill="#6a70cc"/><circle cx="31.66" cy="364.04" r="0.49" fill="#2030a8"/><circle cx="52.21" cy="370.08" r="0.33" fill="#6a70cc"/><circle cx="54.04" cy="375.69" r="0.46" fill="#2838b0"/><circle cx="50.52" cy="372.48" r="0.36" fill="#2030a8"/><circle cx="51.4" cy="377.4" r="0.32" fill="#5058c0"/><circle cx="66.89" cy="373.63" r="0.37" fill="#2030a8"/><circle cx="57.31" cy="366.64" r="0.39" fill="#3844b8"/><circle cx="70.69" cy="373.21" r="0.44" fill="#5058c0"/><circle cx="53.25" cy="372.5" r="0.45" fill="#2838b0"/><circle cx="71" cy="376.13" r="0.4" fill="#3844b8"/><circle cx="56.28" cy="366.04" r="0.37" fill="#6a70cc"/><circle cx="61.75" cy="371.54" r="0.3" fill="#2838b0"/><circle cx="62.27" cy="376.6" r="0.44" fill="#3844b8"/><circle cx="61.77" cy="374.67" r="0.35" fill="#2838b0"/><circle cx="52.84" cy="372.94" r="0.47" fill="#5058c0"/><circle cx="65.82" cy="375.2" r="0.42" fill="#3844b8"/><circle cx="61.13" cy="371.91" r="0.38" fill="#5058c0"/><circle cx="77.54" cy="372.82" r="0.39" fill="#5058c0"/><circle cx="57.59" cy="368.98" r="0.38" fill="#2838b0"/><circle cx="44.98" cy="366.47" r="0.5" fill="#2838b0"/><circle cx="70.07" cy="366.56" r="0.43" fill="#2030a8"/><circle cx="61.35" cy="372.41" r="0.38" fill="#5058c0"/><circle cx="52.59" cy="370.21" r="0.32" fill="#2030a8"/><circle cx="43.61" cy="367.19" r="0.38" fill="#5058c0"/><circle cx="44.34" cy="372.46" r="0.38" fill="#5058c0"/><circle cx="72.93" cy="376.28" r="0.43" fill="#2030a8"/><circle cx="62.45" cy="366.75" r="0.49" fill="#2030a8"/><circle cx="60.8" cy="374.62" r="0.45" fill="#5058c0"/><circle cx="67.68" cy="373" r="0.41" fill="#2030a8"/><circle cx="73.5" cy="371.48" r="0.41" fill="#2838b0"/><circle cx="75.8" cy="373.15" r="0.4" fill="#3844b8"/><circle cx="75.98" cy="373.17" r="0.47" fill="#5058c0"/><circle cx="68.85" cy="374.31" r="0.47" fill="#2030a8"/><circle cx="67.96" cy="374" r="0.5" fill="#6a70cc"/><circle cx="67.37" cy="375.81" r="0.35" fill="#6a70cc"/><circle cx="60.34" cy="373.97" r="0.41" fill="#3844b8"/><circle cx="53.63" cy="370.7" r="0.36" fill="#2030a8"/><circle cx="63.08" cy="375.11" r="0.47" fill="#5058c0"/><circle cx="62.73" cy="373.82" r="0.34" fill="#2030a8"/><circle cx="50.96" cy="363.03" r="0.44" fill="#5058c0"/><circle cx="76.12" cy="378.52" r="0.34" fill="#3844b8"/><circle cx="73.03" cy="368.4" r="0.45" fill="#2030a8"/><circle cx="66.36" cy="371.08" r="0.46" fill="#6a70cc"/><circle cx="69.18" cy="371.65" r="0.36" fill="#5058c0"/><circle cx="59.02" cy="363.67" r="0.42" fill="#6a70cc"/><circle cx="50.94" cy="374.77" r="0.48" fill="#2838b0"/><circle cx="71.97" cy="372.59" r="0.31" fill="#2030a8"/><circle cx="65.26" cy="369.77" r="0.4" fill="#6a70cc"/><circle cx="77.33" cy="371.6" r="0.4" fill="#2838b0"/><circle cx="56.79" cy="365.41" r="0.46" fill="#3844b8"/><circle cx="57.83" cy="370.47" r="0.4" fill="#2838b0"/><circle cx="57.1" cy="371.6" r="0.49" fill="#2030a8"/><circle cx="51.65" cy="374.15" r="0.44" fill="#3844b8"/><circle cx="54.15" cy="372.56" r="0.48" fill="#2030a8"/><circle cx="66.56" cy="372.84" r="0.36" fill="#5058c0"/><circle cx="64.29" cy="376.51" r="0.44" fill="#3844b8"/><circle cx="61.52" cy="367.45" r="0.36" fill="#3844b8"/><circle cx="65.8" cy="368.98" r="0.38" fill="#2838b0"/><circle cx="71.61" cy="371.84" r="0.34" fill="#3844b8"/><circle cx="59.17" cy="370.47" r="0.33" fill="#5058c0"/><circle cx="66.27" cy="374.46" r="0.32" fill="#5058c0"/><circle cx="65.17" cy="369.11" r="0.5" fill="#2838b0"/><circle cx="73.22" cy="369.09" r="0.4" fill="#3844b8"/><circle cx="78.6" cy="371.82" r="0.34" fill="#2030a8"/><circle cx="61.57" cy="374.51" r="0.41" fill="#6a70cc"/><circle cx="67.19" cy="372.22" r="0.45" fill="#3844b8"/><circle cx="64.84" cy="361.94" r="0.48" fill="#6a70cc"/><circle cx="74.91" cy="372.15" r="0.37" fill="#2030a8"/><circle cx="75.36" cy="368.9" r="0.33" fill="#2030a8"/><circle cx="56.93" cy="374.89" r="0.45" fill="#3844b8"/><circle cx="69.85" cy="377.67" r="0.46" fill="#3844b8"/><circle cx="61.37" cy="366.44" r="0.32" fill="#6a70cc"/><circle cx="67.76" cy="374.56" r="0.31" fill="#2030a8"/><circle cx="58.94" cy="370.84" r="0.38" fill="#2838b0"/><circle cx="64.87" cy="369.57" r="0.37" fill="#2838b0"/><circle cx="60.96" cy="369.44" r="0.47" fill="#2030a8"/><circle cx="70.21" cy="367.57" r="0.35" fill="#2838b0"/><circle cx="68.21" cy="372.92" r="0.4" fill="#2838b0"/><circle cx="58.61" cy="370.53" r="0.35" fill="#5058c0"/><circle cx="60.6" cy="370.49" r="0.37" fill="#3844b8"/><circle cx="65.95" cy="375.04" r="0.5" fill="#2838b0"/><circle cx="75.16" cy="367.32" r="0.4" fill="#6a70cc"/><circle cx="64.21" cy="370.53" r="0.4" fill="#2030a8"/><circle cx="65.98" cy="365.72" r="0.32" fill="#2838b0"/><circle cx="71.19" cy="378.09" r="0.38" fill="#2030a8"/><circle cx="59.92" cy="369.58" r="0.48" fill="#6a70cc"/><circle cx="73.21" cy="373.79" r="0.35" fill="#2838b0"/><circle cx="64.69" cy="366.02" r="0.46" fill="#2030a8"/><circle cx="70.32" cy="372.69" r="0.31" fill="#2030a8"/><circle cx="52.83" cy="366.64" r="0.37" fill="#3844b8"/><circle cx="66.72" cy="366.66" r="0.3" fill="#2838b0"/><circle cx="71.63" cy="369.41" r="0.31" fill="#5058c0"/><circle cx="64.22" cy="368.69" r="0.44" fill="#6a70cc"/><circle cx="67.81" cy="374.14" r="0.34" fill="#2838b0"/><circle cx="75.2" cy="368.09" r="0.5" fill="#2030a8"/><circle cx="65.66" cy="366.36" r="0.41" fill="#5058c0"/><circle cx="61.36" cy="372.39" r="0.43" fill="#6a70cc"/><circle cx="66.97" cy="376.58" r="0.46" fill="#3844b8"/><circle cx="74.97" cy="374.66" r="0.42" fill="#3844b8"/><circle cx="66.45" cy="366.38" r="0.33" fill="#5058c0"/><circle cx="73.02" cy="362.3" r="0.45" fill="#2030a8"/><circle cx="71.02" cy="364.43" r="0.33" fill="#6a70cc"/><circle cx="53.31" cy="374.95" r="0.36" fill="#6a70cc"/><circle cx="73.75" cy="369.74" r="0.31" fill="#2030a8"/><circle cx="66.35" cy="363.6" r="0.35" fill="#2838b0"/><circle cx="53.15" cy="368.18" r="0.42" fill="#5058c0"/><circle cx="80.25" cy="367.41" r="0.38" fill="#2030a8"/><circle cx="66.37" cy="363.71" r="0.47" fill="#3844b8"/><circle cx="59.81" cy="372" r="0.43" fill="#3844b8"/><circle cx="70.82" cy="368.49" r="0.3" fill="#3844b8"/><circle cx="61.37" cy="371.05" r="0.48" fill="#2030a8"/><circle cx="53.85" cy="371.67" r="0.39" fill="#3844b8"/><circle cx="59.81" cy="373.5" r="0.38" fill="#3844b8"/><circle cx="60.74" cy="371.23" r="0.32" fill="#3844b8"/><circle cx="61.16" cy="377.47" r="0.38" fill="#5058c0"/><circle cx="56.5" cy="370.26" r="0.44" fill="#2838b0"/><circle cx="79.18" cy="373.02" r="0.38" fill="#2838b0"/><circle cx="60.44" cy="373.09" r="0.34" fill="#2838b0"/><circle cx="72.51" cy="367.32" r="0.36" fill="#5058c0"/><circle cx="55.32" cy="378.8" r="0.34" fill="#6a70cc"/><circle cx="65.6" cy="368.81" r="0.3" fill="#6a70cc"/><circle cx="65.55" cy="369.44" r="0.39" fill="#2838b0"/><circle cx="65.49" cy="368.03" r="0.44" fill="#3844b8"/><circle cx="77.59" cy="370.34" r="0.43" fill="#6a70cc"/><circle cx="72.96" cy="376.27" r="0.43" fill="#3844b8"/><circle cx="74.18" cy="373.7" r="0.35" fill="#5058c0"/><circle cx="60.82" cy="374.44" r="0.49" fill="#5058c0"/><circle cx="64.14" cy="369.63" r="0.4" fill="#5058c0"/><circle cx="62.38" cy="370.25" r="0.41" fill="#2030a8"/><circle cx="48.79" cy="373.26" r="0.45" fill="#2838b0"/><circle cx="63" cy="369.88" r="0.4" fill="#3844b8"/><circle cx="84.12" cy="371.44" r="0.33" fill="#3844b8"/><circle cx="52.94" cy="368.12" r="0.5" fill="#2030a8"/><circle cx="68.55" cy="375.97" r="0.43" fill="#3844b8"/><circle cx="63.8" cy="378.22" r="0.38" fill="#2030a8"/><circle cx="75.9" cy="370.17" r="0.4" fill="#5058c0"/><circle cx="71.4" cy="370.37" r="0.36" fill="#3844b8"/><circle cx="68.28" cy="366.75" r="0.46" fill="#2030a8"/><circle cx="60.17" cy="372.89" r="0.46" fill="#6a70cc"/><circle cx="70.15" cy="372.36" r="0.33" fill="#6a70cc"/><circle cx="61.87" cy="372.29" r="0.49" fill="#3844b8"/><circle cx="64.44" cy="367.09" r="0.35" fill="#2838b0"/><circle cx="70.92" cy="367.99" r="0.36" fill="#6a70cc"/><circle cx="59.01" cy="371.76" r="0.37" fill="#3844b8"/><circle cx="56.23" cy="377.76" r="0.35" fill="#5058c0"/><circle cx="68.62" cy="379.81" r="0.4" fill="#5058c0"/><circle cx="58.55" cy="372.35" r="0.31" fill="#3844b8"/><circle cx="60.99" cy="376.12" r="0.47" fill="#6a70cc"/><circle cx="59.95" cy="371.88" r="0.37" fill="#5058c0"/><circle cx="72.6" cy="368.44" r="0.47" fill="#3844b8"/><circle cx="70.12" cy="374.17" r="0.31" fill="#2030a8"/><circle cx="68.39" cy="366.19" r="0.42" fill="#3844b8"/><circle cx="46.93" cy="380.09" r="0.48" fill="#2030a8"/><circle cx="73.05" cy="374.25" r="0.47" fill="#5058c0"/><circle cx="58.06" cy="361.59" r="0.43" fill="#2838b0"/><circle cx="75.49" cy="369.79" r="0.45" fill="#2030a8"/><circle cx="46.15" cy="377.14" r="0.38" fill="#3844b8"/><circle cx="54.84" cy="371" r="0.44" fill="#2838b0"/><circle cx="72.11" cy="376.37" r="0.43" fill="#5058c0"/><circle cx="66.93" cy="369.7" r="0.44" fill="#3844b8"/><circle cx="65.98" cy="370.29" r="0.47" fill="#2030a8"/><circle cx="57.16" cy="366.2" r="0.34" fill="#5058c0"/><circle cx="60.9" cy="363.7" r="0.33" fill="#2838b0"/><circle cx="55.87" cy="364.8" r="0.32" fill="#6a70cc"/><circle cx="62.52" cy="372.07" r="0.48" fill="#5058c0"/><circle cx="72.53" cy="375.81" r="0.42" fill="#5058c0"/><circle cx="62.47" cy="372.55" r="0.42" fill="#6a70cc"/><circle cx="50.71" cy="370.67" r="0.36" fill="#2838b0"/><circle cx="55.57" cy="375.2" r="0.37" fill="#2030a8"/><circle cx="61.91" cy="369.46" r="0.34" fill="#3844b8"/><circle cx="48.24" cy="372.87" r="0.36" fill="#5058c0"/><circle cx="72.11" cy="372.66" r="0.42" fill="#6a70cc"/><circle cx="73.95" cy="372.05" r="0.32" fill="#5058c0"/><circle cx="65.03" cy="376.84" r="0.49" fill="#3844b8"/><circle cx="56.61" cy="370.42" r="0.46" fill="#6a70cc"/><circle cx="67.39" cy="378.77" r="0.41" fill="#6a70cc"/><circle cx="78.33" cy="372.39" r="0.46" fill="#2030a8"/><circle cx="62.01" cy="375.04" r="0.44" fill="#3844b8"/><circle cx="55.17" cy="368.84" r="0.49" fill="#6a70cc"/><circle cx="51.78" cy="374.37" r="0.46" fill="#2030a8"/><circle cx="70.81" cy="370.1" r="0.31" fill="#3844b8"/><circle cx="58.22" cy="371.31" r="0.49" fill="#5058c0"/><circle cx="72.12" cy="367.02" r="0.37" fill="#2838b0"/><circle cx="66.37" cy="374.96" r="0.45" fill="#3844b8"/><circle cx="80.03" cy="375.14" r="0.39" fill="#2030a8"/><circle cx="67.53" cy="377.2" r="0.45" fill="#2838b0"/><circle cx="67.56" cy="377.72" r="0.45" fill="#3844b8"/><circle cx="82.17" cy="367.99" r="0.44" fill="#6a70cc"/><circle cx="68.64" cy="372.09" r="0.47" fill="#2030a8"/><circle cx="53.6" cy="365.59" r="0.35" fill="#6a70cc"/><circle cx="59.69" cy="372.98" r="0.5" fill="#3844b8"/><circle cx="62.07" cy="372.19" r="0.44" fill="#2838b0"/><circle cx="61.07" cy="371.49" r="0.45" fill="#5058c0"/><circle cx="53.19" cy="377.92" r="0.46" fill="#3844b8"/><circle cx="35.96" cy="373.3" r="0.46" fill="#3844b8"/><circle cx="46.47" cy="372.16" r="0.47" fill="#2838b0"/><circle cx="56.26" cy="370.43" r="0.34" fill="#5058c0"/><circle cx="62.98" cy="371.87" r="0.44" fill="#2838b0"/><circle cx="86.79" cy="367.03" r="0.45" fill="#5058c0"/><circle cx="62.19" cy="368.54" r="0.33" fill="#5058c0"/><circle cx="69.23" cy="371.24" r="0.41" fill="#6a70cc"/><circle cx="79.24" cy="372.33" r="0.39" fill="#2030a8"/><circle cx="81.18" cy="373.36" r="0.48" fill="#6a70cc"/><circle cx="68.16" cy="368.04" r="0.48" fill="#6a70cc"/><circle cx="50.21" cy="371.58" r="0.3" fill="#2838b0"/><circle cx="65.38" cy="374.77" r="0.32" fill="#2030a8"/><circle cx="78.57" cy="363.97" r="0.39" fill="#5058c0"/><circle cx="52" cy="367.94" r="0.45" fill="#5058c0"/><circle cx="50.03" cy="368.14" r="0.33" fill="#5058c0"/><circle cx="52.65" cy="364.18" r="0.44" fill="#2838b0"/><circle cx="44.78" cy="372.65" r="0.33" fill="#6a70cc"/><circle cx="73.23" cy="367.93" r="0.44" fill="#2030a8"/><circle cx="68.83" cy="362.62" r="0.38" fill="#2030a8"/><circle cx="66.97" cy="363.4" r="0.35" fill="#2030a8"/><circle cx="68.04" cy="369.47" r="0.31" fill="#2030a8"/><circle cx="69.37" cy="371.94" r="0.46" fill="#2838b0"/><circle cx="74.03" cy="372.47" r="0.48" fill="#6a70cc"/><circle cx="62.58" cy="373.42" r="0.4" fill="#2030a8"/><circle cx="77.63" cy="369.08" r="0.34" fill="#2030a8"/><circle cx="64.88" cy="368.66" r="0.36" fill="#6a70cc"/><circle cx="40.48" cy="370.35" r="0.48" fill="#5058c0"/><circle cx="80.57" cy="371.12" r="0.43" fill="#6a70cc"/><circle cx="72.93" cy="373.76" r="0.42" fill="#6a70cc"/><circle cx="64.11" cy="369.39" r="0.43" fill="#2030a8"/><circle cx="55.54" cy="367.93" r="0.41" fill="#2030a8"/><circle cx="64.49" cy="373.61" r="0.46" fill="#6a70cc"/><circle cx="58.57" cy="371.56" r="0.43" fill="#2838b0"/><circle cx="75.33" cy="370.39" r="0.41" fill="#2030a8"/><circle cx="60.6" cy="372.49" r="0.47" fill="#2838b0"/><circle cx="65.41" cy="369.42" r="0.35" fill="#3844b8"/><circle cx="60.26" cy="374.28" r="0.42" fill="#5058c0"/><circle cx="78.26" cy="370.04" r="0.32" fill="#2030a8"/><circle cx="76.13" cy="372.72" r="0.34" fill="#6a70cc"/><circle cx="43.58" cy="378.95" r="0.41" fill="#6a70cc"/><circle cx="66.7" cy="377.87" r="0.48" fill="#2030a8"/><circle cx="70.44" cy="365.31" r="0.43" fill="#2030a8"/><circle cx="76.09" cy="377.93" r="0.34" fill="#2030a8"/><circle cx="72.1" cy="369.4" r="0.35" fill="#2838b0"/><circle cx="60.4" cy="374.69" r="0.38" fill="#3844b8"/><circle cx="65.82" cy="373.13" r="0.45" fill="#5058c0"/><circle cx="78" cy="359.46" r="0.35" fill="#3844b8"/><circle cx="63.01" cy="375.33" r="0.37" fill="#2030a8"/><circle cx="54.87" cy="369.92" r="0.3" fill="#3844b8"/><circle cx="63.87" cy="367.92" r="0.46" fill="#3844b8"/><circle cx="58.85" cy="370.61" r="0.39" fill="#3844b8"/><circle cx="61.3" cy="372.31" r="0.49" fill="#2030a8"/><circle cx="68.87" cy="375.38" r="0.35" fill="#6a70cc"/><circle cx="81.08" cy="366.17" r="0.44" fill="#6a70cc"/><circle cx="66.82" cy="370.63" r="0.34" fill="#2838b0"/><circle cx="63.6" cy="362.26" r="0.39" fill="#3844b8"/><circle cx="79.09" cy="377.91" r="0.39" fill="#6a70cc"/><circle cx="57.67" cy="365.07" r="0.45" fill="#3844b8"/><circle cx="63.07" cy="374.24" r="0.32" fill="#2030a8"/><circle cx="71.6" cy="366.52" r="0.49" fill="#6a70cc"/><circle cx="55.52" cy="366.6" r="0.42" fill="#2030a8"/><circle cx="60.4" cy="367.64" r="0.45" fill="#2030a8"/><circle cx="59.57" cy="370.64" r="0.33" fill="#2030a8"/><circle cx="70.97" cy="374.19" r="0.44" fill="#6a70cc"/><circle cx="60.74" cy="378.12" r="0.48" fill="#2838b0"/><circle cx="62.72" cy="375.21" r="0.39" fill="#2838b0"/><circle cx="62.45" cy="369.14" r="0.37" fill="#5058c0"/><circle cx="64.11" cy="370.09" r="0.32" fill="#2838b0"/><circle cx="65.14" cy="374.77" r="0.36" fill="#3844b8"/><circle cx="68.83" cy="371.17" r="0.33" fill="#2030a8"/><circle cx="56.54" cy="366.3" r="0.34" fill="#3844b8"/><circle cx="65.52" cy="372.49" r="0.38" fill="#2030a8"/><circle cx="56.26" cy="366.54" r="0.31" fill="#2838b0"/><circle cx="60.98" cy="374.18" r="0.49" fill="#2838b0"/><circle cx="56.08" cy="375.14" r="0.33" fill="#2838b0"/><circle cx="64.62" cy="367.89" r="0.33" fill="#3844b8"/><circle cx="53.52" cy="363.71" r="0.36" fill="#2838b0"/><circle cx="51.79" cy="375.87" r="0.43" fill="#2838b0"/><circle cx="74.55" cy="366.34" r="0.35" fill="#3844b8"/><circle cx="68.5" cy="368.95" r="0.31" fill="#2030a8"/><circle cx="54.16" cy="364.16" r="0.36" fill="#2838b0"/><circle cx="52.75" cy="371.83" r="0.39" fill="#2030a8"/><circle cx="62.04" cy="369.19" r="0.4" fill="#2030a8"/><circle cx="80.48" cy="366.72" r="0.39" fill="#5058c0"/><circle cx="65.48" cy="372.07" r="0.39" fill="#3844b8"/><circle cx="63.56" cy="374.81" r="0.31" fill="#2030a8"/><circle cx="65.56" cy="377.83" r="0.42" fill="#6a70cc"/><circle cx="83.67" cy="370.99" r="0.32" fill="#5058c0"/><circle cx="73.3" cy="369.22" r="0.4" fill="#2838b0"/><circle cx="55.17" cy="370.76" r="0.32" fill="#2030a8"/><circle cx="61.04" cy="380.49" r="0.46" fill="#5058c0"/><circle cx="74.04" cy="376.61" r="0.32" fill="#3844b8"/><circle cx="59.96" cy="378.27" r="0.32" fill="#2030a8"/><circle cx="73.27" cy="370.52" r="0.4" fill="#2838b0"/><circle cx="51.56" cy="365.49" r="0.43" fill="#2030a8"/><circle cx="62.11" cy="370.01" r="0.45" fill="#2838b0"/><circle cx="60.48" cy="369.02" r="0.33" fill="#3844b8"/><circle cx="70.18" cy="361.44" r="0.47" fill="#2030a8"/><circle cx="49.9" cy="377.7" r="0.44" fill="#2838b0"/><circle cx="72.92" cy="371.46" r="0.39" fill="#2030a8"/><circle cx="67.34" cy="368.22" r="0.47" fill="#2838b0"/><circle cx="60.38" cy="374.44" r="0.49" fill="#2838b0"/><circle cx="51.92" cy="374.66" r="0.37" fill="#2030a8"/><circle cx="59.7" cy="371.15" r="0.4" fill="#3844b8"/><circle cx="72.93" cy="369.44" r="0.42" fill="#2838b0"/><circle cx="66.58" cy="378.78" r="0.36" fill="#2838b0"/><circle cx="64.53" cy="367.74" r="0.31" fill="#3844b8"/><circle cx="67.09" cy="374.89" r="0.41" fill="#2030a8"/><circle cx="63.83" cy="367.92" r="0.33" fill="#2030a8"/><circle cx="67.65" cy="365.69" r="0.41" fill="#5058c0"/><circle cx="61.83" cy="368.78" r="0.41" fill="#2838b0"/><circle cx="61.6" cy="375.31" r="0.5" fill="#2838b0"/><circle cx="68.23" cy="373.78" r="0.33" fill="#2030a8"/><circle cx="59.74" cy="371.8" r="0.46" fill="#5058c0"/><circle cx="62.77" cy="376.46" r="0.47" fill="#2838b0"/><circle cx="69.86" cy="370.11" r="0.32" fill="#5058c0"/><circle cx="47.69" cy="374.06" r="0.48" fill="#2030a8"/><circle cx="76.61" cy="374.01" r="0.47" fill="#2838b0"/><circle cx="53.31" cy="373.48" r="0.46" fill="#3844b8"/><circle cx="56.84" cy="366.86" r="0.39" fill="#2030a8"/><circle cx="51.93" cy="371.01" r="0.48" fill="#3844b8"/><circle cx="68.72" cy="370.36" r="0.42" fill="#2030a8"/><circle cx="62.81" cy="375.12" r="0.43" fill="#3844b8"/><circle cx="43.83" cy="376.52" r="0.44" fill="#3844b8"/><circle cx="76.25" cy="374.07" r="0.44" fill="#6a70cc"/><circle cx="64.88" cy="374.64" r="0.39" fill="#2030a8"/><circle cx="54.84" cy="377" r="0.39" fill="#2838b0"/><circle cx="52.21" cy="380.99" r="0.32" fill="#5058c0"/><circle cx="74.07" cy="370.05" r="0.49" fill="#5058c0"/><circle cx="68.3" cy="369.21" r="0.38" fill="#3844b8"/><circle cx="54.43" cy="371.14" r="0.43" fill="#2838b0"/><circle cx="66.19" cy="369.58" r="0.33" fill="#6a70cc"/><circle cx="55.18" cy="373.44" r="0.39" fill="#2030a8"/><circle cx="55.25" cy="372.07" r="0.37" fill="#6a70cc"/><circle cx="60.27" cy="366.68" r="0.46" fill="#2838b0"/><circle cx="58.27" cy="365.09" r="0.38" fill="#2838b0"/><circle cx="72.4" cy="374.97" r="0.47" fill="#3844b8"/><circle cx="54.99" cy="366.36" r="0.49" fill="#6a70cc"/><circle cx="68.08" cy="377.76" r="0.43" fill="#3844b8"/><circle cx="64.7" cy="372.31" r="0.47" fill="#5058c0"/><circle cx="71.49" cy="367.04" r="0.48" fill="#2838b0"/><circle cx="55.34" cy="368.55" r="0.35" fill="#6a70cc"/><circle cx="63.79" cy="371.17" r="0.32" fill="#2838b0"/><circle cx="63.04" cy="373.59" r="0.35" fill="#2838b0"/><circle cx="56.57" cy="358.97" r="0.3" fill="#2030a8"/><circle cx="66.37" cy="371.9" r="0.33" fill="#2838b0"/><circle cx="57.41" cy="375.39" r="0.36" fill="#3844b8"/><circle cx="62.71" cy="362.44" r="0.31" fill="#3844b8"/><circle cx="67.63" cy="372.26" r="0.31" fill="#2030a8"/><circle cx="85.96" cy="374.66" r="0.46" fill="#2838b0"/><circle cx="61.91" cy="367.19" r="0.33" fill="#5058c0"/><circle cx="41.54" cy="363.21" r="0.45" fill="#2030a8"/><circle cx="68" cy="367.27" r="0.44" fill="#3844b8"/><circle cx="65.07" cy="378.44" r="0.32" fill="#5058c0"/><circle cx="57.97" cy="369.59" r="0.46" fill="#5058c0"/><circle cx="64.67" cy="368.06" r="0.46" fill="#2030a8"/><circle cx="53.53" cy="371.79" r="0.34" fill="#2030a8"/><circle cx="59.26" cy="370.01" r="0.35" fill="#5058c0"/><circle cx="62.49" cy="375.4" r="0.37" fill="#6a70cc"/><circle cx="69.07" cy="372.06" r="0.34" fill="#2030a8"/><circle cx="59.74" cy="376.81" r="0.42" fill="#5058c0"/><circle cx="67.97" cy="369.36" r="0.5" fill="#3844b8"/><circle cx="66.84" cy="369.67" r="0.35" fill="#2030a8"/><circle cx="65.25" cy="363.2" r="0.38" fill="#3844b8"/><circle cx="55.38" cy="370.48" r="0.36" fill="#6a70cc"/><circle cx="60.85" cy="374.59" r="0.33" fill="#2838b0"/><circle cx="79.76" cy="367.42" r="0.31" fill="#5058c0"/><circle cx="56.23" cy="377.65" r="0.47" fill="#6a70cc"/><circle cx="58.98" cy="366.61" r="0.46" fill="#3844b8"/><circle cx="65.69" cy="371.99" r="0.39" fill="#5058c0"/><circle cx="77.83" cy="374.08" r="0.34" fill="#6a70cc"/><circle cx="58.74" cy="375.35" r="0.45" fill="#5058c0"/><circle cx="56.22" cy="374.3" r="0.42" fill="#3844b8"/><circle cx="70.85" cy="373.84" r="0.33" fill="#3844b8"/><circle cx="76.56" cy="363.17" r="0.33" fill="#6a70cc"/><circle cx="50.78" cy="372.24" r="0.43" fill="#3844b8"/><circle cx="70.94" cy="366.06" r="0.39" fill="#3844b8"/><circle cx="70.73" cy="373.16" r="0.44" fill="#2030a8"/><circle cx="62.8" cy="369.93" r="0.41" fill="#2838b0"/><circle cx="60.58" cy="367.52" r="0.42" fill="#6a70cc"/><circle cx="57.46" cy="372.73" r="0.45" fill="#5058c0"/><circle cx="55.7" cy="372.72" r="0.48" fill="#2030a8"/><circle cx="51.99" cy="372.39" r="0.35" fill="#2030a8"/><circle cx="61.89" cy="362.16" r="0.39" fill="#5058c0"/><circle cx="74.79" cy="369.45" r="0.45" fill="#3844b8"/><circle cx="58.27" cy="372.75" r="0.45" fill="#2838b0"/><circle cx="72.02" cy="368.53" r="0.37" fill="#6a70cc"/><circle cx="63.09" cy="374.22" r="0.46" fill="#5058c0"/><circle cx="54.71" cy="360.19" r="0.36" fill="#6a70cc"/><circle cx="69.93" cy="377.14" r="0.44" fill="#3844b8"/><circle cx="61.35" cy="369.79" r="0.47" fill="#2030a8"/><circle cx="61.84" cy="370.72" r="0.42" fill="#3844b8"/><circle cx="80.9" cy="364.88" r="0.35" fill="#3844b8"/><circle cx="55.33" cy="378.89" r="0.36" fill="#3844b8"/><circle cx="56.35" cy="368.16" r="0.32" fill="#3844b8"/><circle cx="65.82" cy="380.11" r="0.45" fill="#5058c0"/><circle cx="64.44" cy="365.61" r="0.46" fill="#2838b0"/><circle cx="61.18" cy="369.92" r="0.45" fill="#2838b0"/><circle cx="65.65" cy="368.04" r="0.38" fill="#3844b8"/><circle cx="65.57" cy="369.1" r="0.44" fill="#6a70cc"/><circle cx="61.56" cy="369.76" r="0.47" fill="#2838b0"/><circle cx="66.57" cy="369.41" r="0.43" fill="#6a70cc"/><circle cx="80.36" cy="373.52" r="0.5" fill="#6a70cc"/><circle cx="72.57" cy="369.43" r="0.46" fill="#5058c0"/><circle cx="67.27" cy="368.87" r="0.37" fill="#3844b8"/><circle cx="67.16" cy="371.83" r="0.48" fill="#2030a8"/><circle cx="71.54" cy="371.65" r="0.31" fill="#6a70cc"/><circle cx="62.67" cy="368.21" r="0.43" fill="#5058c0"/><circle cx="59.16" cy="375.43" r="0.36" fill="#5058c0"/><circle cx="50.13" cy="364.42" r="0.36" fill="#5058c0"/><circle cx="53.34" cy="377.64" r="0.41" fill="#3844b8"/><circle cx="72.42" cy="374.45" r="0.31" fill="#6a70cc"/><circle cx="61.69" cy="371.21" r="0.34" fill="#2838b0"/><circle cx="57.45" cy="374.04" r="0.43" fill="#2030a8"/><circle cx="53.9" cy="369.05" r="0.39" fill="#6a70cc"/><circle cx="61.07" cy="366.64" r="0.34" fill="#2030a8"/><circle cx="60.24" cy="375.89" r="0.32" fill="#3844b8"/><circle cx="66.34" cy="365.5" r="0.34" fill="#2030a8"/><circle cx="83.88" cy="362.2" r="0.33" fill="#5058c0"/><circle cx="60.65" cy="369.73" r="0.34" fill="#5058c0"/><circle cx="60.43" cy="374.56" r="0.4" fill="#2838b0"/><circle cx="63.02" cy="370.38" r="0.42" fill="#2838b0"/><circle cx="50.76" cy="376.5" r="0.34" fill="#2838b0"/><circle cx="72.63" cy="368.16" r="0.47" fill="#2030a8"/><circle cx="49.81" cy="378.28" r="0.4" fill="#2838b0"/><circle cx="77.3" cy="366.24" r="0.4" fill="#2838b0"/><circle cx="73.51" cy="368.79" r="0.33" fill="#2838b0"/><circle cx="60.93" cy="371.39" r="0.42" fill="#2838b0"/><circle cx="62.58" cy="374.37" r="0.34" fill="#5058c0"/><circle cx="60.92" cy="369.99" r="0.46" fill="#2030a8"/><circle cx="67.44" cy="369.56" r="0.41" fill="#2838b0"/><circle cx="64.88" cy="378.75" r="0.42" fill="#2838b0"/><circle cx="67.98" cy="369.4" r="0.44" fill="#6a70cc"/><circle cx="70.73" cy="373.98" r="0.44" fill="#6a70cc"/><circle cx="60.57" cy="378.94" r="0.31" fill="#6a70cc"/><circle cx="72.14" cy="369.44" r="0.47" fill="#2030a8"/><circle cx="72.22" cy="367.78" r="0.33" fill="#5058c0"/><circle cx="50.56" cy="372.49" r="0.37" fill="#6a70cc"/><circle cx="63.7" cy="367.87" r="0.35" fill="#2838b0"/><circle cx="68.76" cy="368.11" r="0.36" fill="#5058c0"/><circle cx="66.32" cy="373.51" r="0.33" fill="#2030a8"/><circle cx="59.08" cy="369.84" r="0.34" fill="#3844b8"/><circle cx="53.39" cy="371.57" r="0.4" fill="#6a70cc"/><circle cx="72.56" cy="369.39" r="0.39" fill="#2838b0"/><circle cx="52.42" cy="370.72" r="0.31" fill="#2838b0"/><circle cx="55.92" cy="360.54" r="0.32" fill="#5058c0"/><circle cx="62.19" cy="367.22" r="0.43" fill="#5058c0"/><circle cx="46.33" cy="372.72" r="0.3" fill="#6a70cc"/><circle cx="71.5" cy="365.5" r="0.4" fill="#3844b8"/><circle cx="59.82" cy="364.85" r="0.42" fill="#5058c0"/><circle cx="70.25" cy="376.08" r="0.49" fill="#2030a8"/><circle cx="68.25" cy="374.17" r="0.46" fill="#5058c0"/><circle cx="51.57" cy="367.61" r="0.46" fill="#3844b8"/><circle cx="69.33" cy="375.43" r="0.36" fill="#2838b0"/><circle cx="75.81" cy="377.86" r="0.42" fill="#2030a8"/><circle cx="66.38" cy="366.75" r="0.37" fill="#3844b8"/><circle cx="69.6" cy="368.61" r="0.46" fill="#6a70cc"/><circle cx="53.35" cy="379.82" r="0.37" fill="#2030a8"/><circle cx="53.64" cy="374.75" r="0.3" fill="#3844b8"/><circle cx="64.04" cy="369.51" r="0.3" fill="#6a70cc"/><circle cx="68.75" cy="368.81" r="0.33" fill="#5058c0"/><circle cx="62.3" cy="370.18" r="0.34" fill="#2838b0"/><circle cx="62.59" cy="368.7" r="0.35" fill="#3844b8"/><circle cx="69.59" cy="372.16" r="0.49" fill="#2030a8"/><circle cx="43.7" cy="368.02" r="0.45" fill="#2030a8"/><circle cx="73.21" cy="377.44" r="0.45" fill="#2030a8"/><circle cx="68.6" cy="367.78" r="0.43" fill="#2030a8"/><circle cx="61.55" cy="368.45" r="0.5" fill="#2838b0"/><circle cx="65.97" cy="371.34" r="0.31" fill="#2030a8"/><circle cx="56.49" cy="376.71" r="0.32" fill="#2838b0"/><circle cx="65.99" cy="373.26" r="0.37" fill="#6a70cc"/><circle cx="68.58" cy="369.99" r="0.5" fill="#2030a8"/><circle cx="54.79" cy="372.67" r="0.39" fill="#3844b8"/><circle cx="61.01" cy="371.1" r="0.33" fill="#2838b0"/><circle cx="75.5" cy="366.35" r="0.39" fill="#2030a8"/><circle cx="48.94" cy="364.66" r="0.41" fill="#5058c0"/><circle cx="64.12" cy="370.53" r="0.48" fill="#5058c0"/><circle cx="56.43" cy="368.74" r="0.4" fill="#5058c0"/><circle cx="64.7" cy="372.05" r="0.4" fill="#6a70cc"/><circle cx="49.26" cy="371.13" r="0.44" fill="#2838b0"/><circle cx="79.19" cy="371.22" r="0.49" fill="#6a70cc"/><circle cx="67.77" cy="367.7" r="0.41" fill="#2838b0"/><circle cx="61.75" cy="366.73" r="0.49" fill="#5058c0"/><circle cx="74.22" cy="368.49" r="0.48" fill="#3844b8"/><circle cx="66.23" cy="377.02" r="0.46" fill="#6a70cc"/><circle cx="76.71" cy="370.63" r="0.43" fill="#3844b8"/><circle cx="47.96" cy="368.23" r="0.33" fill="#3844b8"/><circle cx="69.53" cy="367.21" r="0.47" fill="#3844b8"/><circle cx="73.45" cy="370.66" r="0.33" fill="#2030a8"/><circle cx="63.81" cy="365.53" r="0.42" fill="#3844b8"/><circle cx="44.2" cy="375.31" r="0.42" fill="#2030a8"/><circle cx="68.84" cy="374.04" r="0.42" fill="#2030a8"/><circle cx="45.89" cy="374.43" r="0.32" fill="#3844b8"/><circle cx="54.81" cy="372.27" r="0.4" fill="#2030a8"/><circle cx="61.9" cy="368.13" r="0.36" fill="#3844b8"/><circle cx="49.11" cy="377.86" r="0.5" fill="#6a70cc"/><circle cx="52.5" cy="373.43" r="0.39" fill="#3844b8"/><circle cx="68.97" cy="367.78" r="0.49" fill="#5058c0"/><circle cx="79.4" cy="373.29" r="0.31" fill="#3844b8"/><circle cx="74.2" cy="370.61" r="0.37" fill="#2838b0"/><circle cx="73.57" cy="364.33" r="0.46" fill="#3844b8"/><circle cx="73.04" cy="371.99" r="0.32" fill="#2030a8"/><circle cx="67.76" cy="362.58" r="0.39" fill="#2838b0"/><circle cx="48.94" cy="372.29" r="0.37" fill="#3844b8"/><circle cx="68.26" cy="369.9" r="0.43" fill="#2838b0"/><circle cx="63.64" cy="364.96" r="0.35" fill="#6a70cc"/><circle cx="73.05" cy="378.85" r="0.39" fill="#2838b0"/><circle cx="64.53" cy="367.89" r="0.34" fill="#2030a8"/><circle cx="73.32" cy="367.79" r="0.43" fill="#2030a8"/><circle cx="45.7" cy="369.3" r="0.34" fill="#5058c0"/><circle cx="54.23" cy="373.37" r="0.44" fill="#3844b8"/><circle cx="62.78" cy="367.95" r="0.4" fill="#5058c0"/><circle cx="57.16" cy="370.48" r="0.33" fill="#3844b8"/><circle cx="58.38" cy="366.12" r="0.48" fill="#5058c0"/><circle cx="79.58" cy="366.42" r="0.4" fill="#5058c0"/><circle cx="62.04" cy="375" r="0.4" fill="#6a70cc"/><circle cx="70.93" cy="370.39" r="0.48" fill="#3844b8"/><circle cx="47.63" cy="378.87" r="0.4" fill="#2838b0"/><circle cx="61.36" cy="374.68" r="0.41" fill="#6a70cc"/><circle cx="62.15" cy="371.93" r="0.39" fill="#2838b0"/><circle cx="72.56" cy="369.76" r="0.41" fill="#3844b8"/><circle cx="75.97" cy="368.96" r="0.4" fill="#3844b8"/><circle cx="68.4" cy="369.81" r="0.37" fill="#2838b0"/><circle cx="56.98" cy="368.83" r="0.44" fill="#2838b0"/><circle cx="54.96" cy="368.73" r="0.41" fill="#2838b0"/><circle cx="65.94" cy="375.81" r="0.45" fill="#2030a8"/><circle cx="63.35" cy="373.02" r="0.49" fill="#3844b8"/><circle cx="76.54" cy="370.69" r="0.35" fill="#2030a8"/><circle cx="66.8" cy="370.72" r="0.36" fill="#3844b8"/><circle cx="61.91" cy="370.77" r="0.37" fill="#5058c0"/><circle cx="60.25" cy="365.98" r="0.3" fill="#2838b0"/><circle cx="64.66" cy="373.52" r="0.32" fill="#2838b0"/><circle cx="69.46" cy="369.63" r="0.49" fill="#6a70cc"/><circle cx="58.97" cy="367.32" r="0.31" fill="#2030a8"/><circle cx="75.28" cy="360.64" r="0.47" fill="#2030a8"/><circle cx="71.44" cy="367.84" r="0.37" fill="#5058c0"/><circle cx="51.27" cy="362.15" r="0.5" fill="#2030a8"/><circle cx="53.64" cy="366.72" r="0.37" fill="#2838b0"/><circle cx="59.8" cy="372.68" r="0.35" fill="#3844b8"/><circle cx="66.32" cy="372.92" r="0.32" fill="#2838b0"/><circle cx="64.35" cy="368.92" r="0.4" fill="#3844b8"/><circle cx="52.7" cy="368.57" r="0.39" fill="#5058c0"/><circle cx="63" cy="364.23" r="0.38" fill="#2838b0"/><circle cx="64.26" cy="378.04" r="0.48" fill="#2838b0"/><circle cx="53.31" cy="376.65" r="0.42" fill="#5058c0"/><circle cx="53.75" cy="373.05" r="0.34" fill="#2030a8"/><circle cx="54.77" cy="364.02" r="0.5" fill="#5058c0"/><circle cx="63.17" cy="372.16" r="0.34" fill="#2838b0"/><circle cx="62.04" cy="378.23" r="0.37" fill="#2030a8"/><circle cx="76.27" cy="374.35" r="0.4" fill="#2030a8"/><circle cx="69.21" cy="369.78" r="0.33" fill="#2838b0"/><circle cx="44.04" cy="375.03" r="0.44" fill="#2030a8"/><circle cx="58.11" cy="372.09" r="0.4" fill="#2030a8"/><circle cx="77.64" cy="370.56" r="0.46" fill="#2838b0"/><circle cx="64.84" cy="367.67" r="0.37" fill="#2030a8"/><circle cx="74.86" cy="375.15" r="0.4" fill="#2838b0"/><circle cx="69.59" cy="376.44" r="0.35" fill="#5058c0"/><circle cx="56.61" cy="371.89" r="0.3" fill="#5058c0"/><circle cx="64.55" cy="375.17" r="0.38" fill="#2838b0"/><circle cx="55.78" cy="370.22" r="0.37" fill="#3844b8"/><circle cx="61.64" cy="377.23" r="0.31" fill="#2838b0"/><circle cx="47.97" cy="375.06" r="0.33" fill="#2030a8"/><circle cx="73.18" cy="373.25" r="0.48" fill="#3844b8"/><circle cx="71.61" cy="373.91" r="0.35" fill="#5058c0"/><circle cx="79.63" cy="376.58" r="0.46" fill="#6a70cc"/><circle cx="57.54" cy="380.45" r="0.33" fill="#5058c0"/><circle cx="71.81" cy="372.84" r="0.44" fill="#2030a8"/><circle cx="41.29" cy="365.58" r="0.46" fill="#2030a8"/><circle cx="63.89" cy="369.4" r="0.35" fill="#3844b8"/><circle cx="66.97" cy="381.06" r="0.37" fill="#3844b8"/><circle cx="60.11" cy="367.22" r="0.33" fill="#3844b8"/><circle cx="57.76" cy="372.01" r="0.32" fill="#2838b0"/><circle cx="60.31" cy="362.69" r="0.43" fill="#2838b0"/><circle cx="62.7" cy="373.09" r="0.32" fill="#5058c0"/><circle cx="63.94" cy="373.38" r="0.32" fill="#3844b8"/><circle cx="58.85" cy="376.27" r="0.47" fill="#6a70cc"/><circle cx="42.8" cy="365.16" r="0.41" fill="#6a70cc"/><circle cx="60.72" cy="373.63" r="0.33" fill="#3844b8"/><circle cx="55.96" cy="375.25" r="0.42" fill="#2838b0"/><circle cx="60.46" cy="369.14" r="0.38" fill="#2030a8"/><circle cx="60.04" cy="368.69" r="0.36" fill="#6a70cc"/><circle cx="72.29" cy="375.02" r="0.46" fill="#5058c0"/><circle cx="56.23" cy="370.65" r="0.41" fill="#6a70cc"/><circle cx="55.79" cy="370.04" r="0.46" fill="#2030a8"/><circle cx="48.5" cy="371.74" r="0.45" fill="#2838b0"/><circle cx="72.16" cy="365.97" r="0.37" fill="#5058c0"/><circle cx="63.43" cy="364.17" r="0.47" fill="#2838b0"/><circle cx="72.52" cy="370.53" r="0.43" fill="#3844b8"/><circle cx="60.5" cy="367.86" r="0.37" fill="#2030a8"/><circle cx="54.86" cy="373.42" r="0.4" fill="#6a70cc"/><circle cx="51.73" cy="361.4" r="0.37" fill="#2838b0"/><circle cx="48.86" cy="372.16" r="0.4" fill="#2838b0"/><circle cx="58.14" cy="373.44" r="0.31" fill="#5058c0"/><circle cx="68.56" cy="373.8" r="0.47" fill="#5058c0"/><circle cx="54.27" cy="372.64" r="0.33" fill="#3844b8"/><circle cx="54.03" cy="365.85" r="0.36" fill="#3844b8"/><circle cx="78.55" cy="367.13" r="0.31" fill="#3844b8"/><circle cx="64.39" cy="372.24" r="0.34" fill="#5058c0"/><circle cx="64.24" cy="366.97" r="0.32" fill="#2030a8"/><circle cx="61.54" cy="375.97" r="0.5" fill="#6a70cc"/><circle cx="71.95" cy="370.65" r="0.38" fill="#2838b0"/><circle cx="71.66" cy="371.28" r="0.37" fill="#3844b8"/><circle cx="57.61" cy="365.69" r="0.34" fill="#2838b0"/><circle cx="52.69" cy="368.38" r="0.36" fill="#2838b0"/><circle cx="68.45" cy="378.86" r="0.35" fill="#2838b0"/><circle cx="52.91" cy="368.18" r="0.32" fill="#3844b8"/><circle cx="53.24" cy="368.8" r="0.32" fill="#6a70cc"/><circle cx="56.58" cy="371.76" r="0.36" fill="#5058c0"/><circle cx="55.6" cy="373" r="0.32" fill="#2838b0"/><circle cx="69.65" cy="370.73" r="0.35" fill="#5058c0"/><circle cx="55.52" cy="368.87" r="0.4" fill="#2030a8"/><circle cx="55.72" cy="369.89" r="0.46" fill="#5058c0"/><circle cx="36.7" cy="372.62" r="0.43" fill="#2030a8"/><circle cx="51.18" cy="372.34" r="0.46" fill="#2838b0"/><circle cx="69.21" cy="366.57" r="0.33" fill="#5058c0"/><circle cx="87.06" cy="367.83" r="0.49" fill="#5058c0"/><circle cx="68.59" cy="368.49" r="0.44" fill="#2838b0"/><circle cx="80.8" cy="374.75" r="0.37" fill="#2838b0"/><circle cx="53.23" cy="373.06" r="0.48" fill="#3844b8"/><circle cx="58.02" cy="374.29" r="0.32" fill="#2838b0"/><circle cx="58.64" cy="370.64" r="0.47" fill="#3844b8"/><circle cx="67.64" cy="379.33" r="0.47" fill="#3844b8"/><circle cx="53.76" cy="367.79" r="0.36" fill="#3844b8"/><circle cx="82.35" cy="376.3" r="0.47" fill="#3844b8"/><circle cx="45.73" cy="380.02" r="0.33" fill="#3844b8"/><circle cx="60.97" cy="369.17" r="0.38" fill="#2838b0"/><circle cx="71.21" cy="369.94" r="0.3" fill="#5058c0"/><circle cx="68.97" cy="370.97" r="0.39" fill="#6a70cc"/><circle cx="57.56" cy="372.7" r="0.33" fill="#5058c0"/><circle cx="77.33" cy="367.15" r="0.31" fill="#2030a8"/><circle cx="67.33" cy="381.49" r="0.44" fill="#5058c0"/><circle cx="52.82" cy="371.09" r="0.41" fill="#2838b0"/><circle cx="68.08" cy="372.07" r="0.35" fill="#2838b0"/><circle cx="60" cy="369.21" r="0.45" fill="#6a70cc"/><circle cx="53.14" cy="363.88" r="0.41" fill="#3844b8"/><circle cx="69.89" cy="374.6" r="0.32" fill="#6a70cc"/><circle cx="61.87" cy="374.52" r="0.41" fill="#2838b0"/><circle cx="51.36" cy="366.11" r="0.47" fill="#6a70cc"/><circle cx="56.01" cy="364.89" r="0.41" fill="#3844b8"/><circle cx="63.17" cy="367" r="0.41" fill="#5058c0"/><circle cx="64.62" cy="372.26" r="0.32" fill="#2030a8"/><circle cx="54.46" cy="367.03" r="0.45" fill="#6a70cc"/><circle cx="61.08" cy="379.07" r="0.48" fill="#2838b0"/><circle cx="64.86" cy="370.72" r="0.48" fill="#6a70cc"/><circle cx="47.24" cy="373.91" r="0.41" fill="#5058c0"/><circle cx="66.94" cy="368.85" r="0.42" fill="#3844b8"/><circle cx="68.88" cy="373.99" r="0.3" fill="#2030a8"/><circle cx="62.45" cy="369.67" r="0.43" fill="#3844b8"/><circle cx="58.41" cy="377.5" r="0.47" fill="#2030a8"/><circle cx="72.67" cy="370.71" r="0.41" fill="#3844b8"/><circle cx="66.13" cy="371.05" r="0.35" fill="#3844b8"/><circle cx="80.2" cy="376.2" r="0.4" fill="#6a70cc"/><circle cx="47.95" cy="365.85" r="0.44" fill="#5058c0"/><circle cx="47.6" cy="372.65" r="0.47" fill="#5058c0"/><circle cx="68.9" cy="369.9" r="0.45" fill="#3844b8"/><circle cx="66.32" cy="368.23" r="0.38" fill="#3844b8"/><circle cx="64.02" cy="373.9" r="0.39" fill="#3844b8"/><circle cx="57.02" cy="374.95" r="0.45" fill="#6a70cc"/><circle cx="62.44" cy="362.42" r="0.38" fill="#3844b8"/><circle cx="68.65" cy="375.15" r="0.33" fill="#5058c0"/><circle cx="63.85" cy="366.6" r="0.39" fill="#2838b0"/><circle cx="47.19" cy="370.68" r="0.43" fill="#2838b0"/><circle cx="63.09" cy="376.46" r="0.35" fill="#2030a8"/><circle cx="60.34" cy="372.74" r="0.38" fill="#3844b8"/><circle cx="57.45" cy="369.6" r="0.46" fill="#5058c0"/><circle cx="68.31" cy="368.44" r="0.41" fill="#2838b0"/><circle cx="52.86" cy="367.49" r="0.44" fill="#2838b0"/><circle cx="69.48" cy="376.5" r="0.46" fill="#2030a8"/><circle cx="55.79" cy="364.06" r="0.47" fill="#5058c0"/><circle cx="60.8" cy="366.62" r="0.33" fill="#2030a8"/><circle cx="72" cy="378.91" r="0.34" fill="#3844b8"/><circle cx="68.96" cy="367.91" r="0.32" fill="#2838b0"/><circle cx="59.97" cy="363.07" r="0.4" fill="#2838b0"/><circle cx="53.58" cy="369.94" r="0.4" fill="#6a70cc"/><circle cx="83.49" cy="377.87" r="0.39" fill="#2838b0"/><circle cx="72.97" cy="367.13" r="0.41" fill="#2030a8"/><circle cx="66.17" cy="378.17" r="0.43" fill="#3844b8"/><circle cx="45.33" cy="365.43" r="0.43" fill="#2838b0"/><circle cx="55.88" cy="374.47" r="0.5" fill="#2030a8"/><circle cx="67.23" cy="374.01" r="0.41" fill="#3844b8"/><circle cx="62.56" cy="369.07" r="0.47" fill="#6a70cc"/><circle cx="69.46" cy="371.99" r="0.35" fill="#2030a8"/><circle cx="66.52" cy="368.16" r="0.35" fill="#2838b0"/><circle cx="59.9" cy="375.44" r="0.35" fill="#3844b8"/><circle cx="69.71" cy="368" r="0.47" fill="#2838b0"/><circle cx="74.27" cy="375.6" r="0.44" fill="#5058c0"/><circle cx="68.64" cy="357.36" r="0.37" fill="#2838b0"/><circle cx="59.54" cy="374.84" r="0.38" fill="#6a70cc"/><circle cx="61.66" cy="372.51" r="0.45" fill="#6a70cc"/><circle cx="57.7" cy="366.01" r="0.47" fill="#6a70cc"/><circle cx="57.43" cy="371.4" r="0.48" fill="#5058c0"/><circle cx="65.67" cy="368.39" r="0.41" fill="#2030a8"/><circle cx="51.57" cy="372.32" r="0.5" fill="#2838b0"/><circle cx="58.49" cy="370.89" r="0.48" fill="#3844b8"/><circle cx="61.91" cy="371.24" r="0.43" fill="#3844b8"/><circle cx="51.31" cy="365.04" r="0.46" fill="#5058c0"/><circle cx="69.78" cy="367.83" r="0.33" fill="#2838b0"/><circle cx="62.5" cy="371.19" r="0.3" fill="#3844b8"/><circle cx="55.55" cy="372.34" r="0.35" fill="#6a70cc"/><circle cx="65.58" cy="371.55" r="0.36" fill="#2030a8"/><circle cx="64.94" cy="367.53" r="0.44" fill="#6a70cc"/><circle cx="65.06" cy="372.57" r="0.5" fill="#2030a8"/><circle cx="58.26" cy="377.96" r="0.44" fill="#3844b8"/><circle cx="53.46" cy="367.01" r="0.48" fill="#5058c0"/><circle cx="70.42" cy="374.16" r="0.49" fill="#5058c0"/><circle cx="55.86" cy="374.01" r="0.38" fill="#2838b0"/><circle cx="66.19" cy="375.57" r="0.38" fill="#5058c0"/><circle cx="63.24" cy="367.61" r="0.42" fill="#2030a8"/><circle cx="58.93" cy="368.33" r="0.33" fill="#2838b0"/><circle cx="53.5" cy="374.68" r="0.33" fill="#3844b8"/><circle cx="53.6" cy="370.47" r="0.48" fill="#3844b8"/><circle cx="63.87" cy="376.37" r="0.32" fill="#5058c0"/><circle cx="52.98" cy="366.93" r="0.48" fill="#3844b8"/><circle cx="48.81" cy="373.63" r="0.48" fill="#2030a8"/><circle cx="68.9" cy="373.25" r="0.46" fill="#2030a8"/><circle cx="52.42" cy="376.67" r="0.3" fill="#2030a8"/><circle cx="66.72" cy="373.42" r="0.46" fill="#2030a8"/><circle cx="51.41" cy="369.14" r="0.33" fill="#2030a8"/><circle cx="67.04" cy="367.07" r="0.42" fill="#3844b8"/><circle cx="54.07" cy="381.01" r="0.45" fill="#6a70cc"/><circle cx="80.7" cy="376.81" r="0.36" fill="#5058c0"/><circle cx="67.09" cy="371.73" r="0.31" fill="#5058c0"/><circle cx="58.84" cy="365.76" r="0.44" fill="#3844b8"/><circle cx="60.12" cy="376.32" r="0.36" fill="#2030a8"/><circle cx="56.49" cy="369.18" r="0.43" fill="#3844b8"/><circle cx="59" cy="370.89" r="0.4" fill="#6a70cc"/><circle cx="63.59" cy="373.06" r="0.47" fill="#6a70cc"/><circle cx="61.02" cy="374.48" r="0.38" fill="#2838b0"/><circle cx="68.62" cy="368.9" r="0.48" fill="#6a70cc"/><circle cx="84.52" cy="370.38" r="0.49" fill="#3844b8"/><circle cx="73.03" cy="365.07" r="0.5" fill="#2838b0"/><circle cx="53.17" cy="364.88" r="0.3" fill="#6a70cc"/><circle cx="62.35" cy="377.54" r="0.35" fill="#3844b8"/><circle cx="58.6" cy="369.16" r="0.33" fill="#5058c0"/><circle cx="58.55" cy="368.12" r="0.34" fill="#2030a8"/><circle cx="56.07" cy="366.99" r="0.31" fill="#5058c0"/><circle cx="71.26" cy="380.94" r="0.44" fill="#5058c0"/><circle cx="67.46" cy="376.87" r="0.45" fill="#6a70cc"/><circle cx="57.64" cy="367.55" r="0.38" fill="#6a70cc"/><circle cx="55.9" cy="373.55" r="0.49" fill="#2838b0"/><circle cx="67.83" cy="358.04" r="0.31" fill="#5058c0"/><circle cx="74.89" cy="374.12" r="0.44" fill="#2030a8"/><circle cx="78.79" cy="368.01" r="0.48" fill="#3844b8"/><circle cx="55.17" cy="371.96" r="0.37" fill="#6a70cc"/><circle cx="68.23" cy="363.3" r="0.43" fill="#6a70cc"/><circle cx="65.51" cy="373.14" r="0.41" fill="#6a70cc"/><circle cx="45.16" cy="372.14" r="0.33" fill="#6a70cc"/><circle cx="61.68" cy="368.08" r="0.49" fill="#3844b8"/><circle cx="62.11" cy="372.69" r="0.38" fill="#2838b0"/><circle cx="72.6" cy="371.34" r="0.39" fill="#5058c0"/><circle cx="51.16" cy="373.16" r="0.32" fill="#2030a8"/><circle cx="71.61" cy="369.56" r="0.3" fill="#2838b0"/><circle cx="74.48" cy="374.87" r="0.43" fill="#6a70cc"/><circle cx="71.28" cy="373.46" r="0.49" fill="#2838b0"/><circle cx="44.14" cy="380.11" r="0.45" fill="#2030a8"/><circle cx="52.34" cy="367.8" r="0.46" fill="#6a70cc"/><circle cx="59.18" cy="366" r="0.33" fill="#5058c0"/><circle cx="56.14" cy="370.18" r="0.33" fill="#5058c0"/><circle cx="84.82" cy="377.46" r="0.42" fill="#3844b8"/><circle cx="77.52" cy="367.38" r="0.44" fill="#6a70cc"/><circle cx="73.14" cy="372.45" r="0.32" fill="#6a70cc"/><circle cx="55.96" cy="376.7" r="0.43" fill="#3844b8"/><circle cx="77.42" cy="368.2" r="0.39" fill="#5058c0"/><circle cx="51.61" cy="372.12" r="0.44" fill="#2030a8"/><circle cx="65" cy="372.84" r="0.34" fill="#2838b0"/><circle cx="66.4" cy="377.03" r="0.49" fill="#2838b0"/><circle cx="72.77" cy="370.91" r="0.43" fill="#2030a8"/><circle cx="74.13" cy="380.95" r="0.39" fill="#2838b0"/><circle cx="65.06" cy="371.43" r="0.45" fill="#5058c0"/><circle cx="59.18" cy="370.95" r="0.47" fill="#2838b0"/><circle cx="65.22" cy="365.52" r="0.37" fill="#2838b0"/><circle cx="56.63" cy="367.82" r="0.43" fill="#2030a8"/><circle cx="55.05" cy="370.88" r="0.46" fill="#6a70cc"/><circle cx="57.22" cy="372.25" r="0.31" fill="#2030a8"/><circle cx="72.66" cy="364.12" r="0.44" fill="#5058c0"/><circle cx="79.75" cy="369.31" r="0.38" fill="#6a70cc"/><circle cx="53.9" cy="380.71" r="0.38" fill="#3844b8"/><circle cx="73.24" cy="369.73" r="0.38" fill="#6a70cc"/><circle cx="53.85" cy="371.22" r="0.4" fill="#2030a8"/><circle cx="53.28" cy="373.06" r="0.32" fill="#2030a8"/><circle cx="48.21" cy="366.04" r="0.31" fill="#3844b8"/><circle cx="72.62" cy="366.71" r="0.43" fill="#3844b8"/><circle cx="73.21" cy="371.08" r="0.37" fill="#2838b0"/><circle cx="58.87" cy="371.39" r="0.42" fill="#6a70cc"/><circle cx="57.46" cy="375.58" r="0.38" fill="#6a70cc"/><circle cx="75.23" cy="366.1" r="0.39" fill="#2030a8"/><circle cx="72.46" cy="367" r="0.49" fill="#6a70cc"/><circle cx="55.67" cy="367.65" r="0.31" fill="#6a70cc"/><circle cx="59.72" cy="377.03" r="0.36" fill="#2838b0"/><circle cx="65.25" cy="369.97" r="0.31" fill="#2838b0"/><circle cx="53.36" cy="364.95" r="0.45" fill="#2838b0"/><circle cx="70.76" cy="365.07" r="0.5" fill="#6a70cc"/><circle cx="64.53" cy="365.24" r="0.49" fill="#2838b0"/><circle cx="67.04" cy="360.83" r="0.39" fill="#2838b0"/><circle cx="79.74" cy="364.23" r="0.46" fill="#2838b0"/><circle cx="68.23" cy="375.79" r="0.49" fill="#3844b8"/><circle cx="70.1" cy="371.39" r="0.31" fill="#5058c0"/><circle cx="75.36" cy="376.57" r="0.38" fill="#2030a8"/><circle cx="43.28" cy="368.15" r="0.37" fill="#2030a8"/><circle cx="70.93" cy="372.77" r="0.41" fill="#3844b8"/><circle cx="80.87" cy="373.17" r="0.4" fill="#5058c0"/><circle cx="73.37" cy="377.09" r="0.34" fill="#2030a8"/><circle cx="78.24" cy="368.16" r="0.48" fill="#2838b0"/><circle cx="81.73" cy="374.1" r="0.32" fill="#3844b8"/><circle cx="64.6" cy="363.8" r="0.47" fill="#6a70cc"/><circle cx="70.98" cy="370.64" r="0.48" fill="#2838b0"/><circle cx="57.69" cy="376.87" r="0.47" fill="#2838b0"/><circle cx="56.4" cy="369.62" r="0.42" fill="#3844b8"/><circle cx="68.05" cy="376.3" r="0.48" fill="#3844b8"/><circle cx="63.67" cy="377.48" r="0.34" fill="#2030a8"/><circle cx="62.65" cy="371.44" r="0.32" fill="#3844b8"/><circle cx="59.93" cy="378.07" r="0.46" fill="#5058c0"/><circle cx="53.58" cy="369.86" r="0.37" fill="#2030a8"/><circle cx="66.9" cy="369.29" r="0.49" fill="#2030a8"/><circle cx="82.68" cy="371.39" r="0.32" fill="#5058c0"/><circle cx="63.26" cy="377.2" r="0.43" fill="#5058c0"/><circle cx="69.72" cy="373.83" r="0.35" fill="#2838b0"/><circle cx="66.43" cy="364.55" r="0.41" fill="#5058c0"/><circle cx="61.53" cy="368.92" r="0.31" fill="#5058c0"/><circle cx="56.48" cy="372.71" r="0.34" fill="#2030a8"/><circle cx="59.66" cy="374.05" r="0.36" fill="#5058c0"/><circle cx="60.2" cy="369.73" r="0.39" fill="#2030a8"/><circle cx="46.63" cy="367.59" r="0.4" fill="#3844b8"/><circle cx="57.84" cy="372.87" r="0.4" fill="#2838b0"/><circle cx="63.36" cy="371.43" r="0.47" fill="#5058c0"/><circle cx="71.04" cy="370.14" r="0.41" fill="#2030a8"/><circle cx="62.37" cy="369.26" r="0.43" fill="#5058c0"/><circle cx="59.16" cy="375.72" r="0.36" fill="#3844b8"/><circle cx="66.59" cy="367.97" r="0.4" fill="#6a70cc"/><circle cx="67.8" cy="370.49" r="0.43" fill="#3844b8"/><circle cx="69.47" cy="367.88" r="0.35" fill="#2030a8"/><circle cx="52.72" cy="369.89" r="0.39" fill="#2838b0"/><circle cx="92.41" cy="372.75" r="0.44" fill="#2838b0"/><circle cx="61.36" cy="369.31" r="0.36" fill="#2838b0"/><circle cx="65.54" cy="374.87" r="0.43" fill="#5058c0"/><circle cx="60.15" cy="372.5" r="0.36" fill="#2030a8"/><circle cx="74.24" cy="375.62" r="0.43" fill="#5058c0"/><circle cx="51.49" cy="368.46" r="0.49" fill="#2838b0"/><circle cx="53.53" cy="368.16" r="0.37" fill="#5058c0"/><circle cx="36.72" cy="381.74" r="0.31" fill="#5058c0"/><circle cx="52.23" cy="371.01" r="0.46" fill="#2030a8"/><circle cx="70.1" cy="372.22" r="0.48" fill="#2030a8"/><circle cx="64.34" cy="378.29" r="0.48" fill="#5058c0"/><circle cx="59.97" cy="371.91" r="0.33" fill="#2030a8"/><circle cx="64.05" cy="372.78" r="0.48" fill="#2838b0"/><circle cx="66.25" cy="367.78" r="0.33" fill="#2030a8"/><circle cx="58.7" cy="374.96" r="0.31" fill="#2030a8"/><circle cx="60.63" cy="371.09" r="0.43" fill="#5058c0"/><circle cx="61.22" cy="375.49" r="0.35" fill="#2838b0"/><circle cx="57.81" cy="371.5" r="0.49" fill="#5058c0"/><circle cx="75.34" cy="366.87" r="0.42" fill="#2838b0"/><circle cx="57.9" cy="367.54" r="0.31" fill="#6a70cc"/><circle cx="60.17" cy="374.76" r="0.41" fill="#3844b8"/><circle cx="60.34" cy="369.52" r="0.38" fill="#3844b8"/><circle cx="57.23" cy="368.49" r="0.39" fill="#2030a8"/><circle cx="73.66" cy="365.61" r="0.36" fill="#3844b8"/><circle cx="64.56" cy="377.52" r="0.34" fill="#3844b8"/><circle cx="55.29" cy="366.99" r="0.41" fill="#5058c0"/><circle cx="73.48" cy="359.78" r="0.32" fill="#5058c0"/><circle cx="70.81" cy="366.89" r="0.42" fill="#2030a8"/><circle cx="58.51" cy="365.46" r="0.4" fill="#3844b8"/><circle cx="51.04" cy="373.4" r="0.45" fill="#6a70cc"/><circle cx="60.55" cy="371.08" r="0.37" fill="#2838b0"/><circle cx="65.38" cy="364.62" r="0.43" fill="#3844b8"/><circle cx="64.14" cy="365.05" r="0.46" fill="#5058c0"/><circle cx="50.62" cy="365.29" r="0.41" fill="#3844b8"/><circle cx="51.12" cy="367.09" r="0.5" fill="#2838b0"/><circle cx="61.46" cy="371.53" r="0.37" fill="#3844b8"/><circle cx="61.49" cy="365.53" r="0.38" fill="#2838b0"/><circle cx="61.08" cy="374.96" r="0.33" fill="#6a70cc"/><circle cx="68.63" cy="372.82" r="0.38" fill="#6a70cc"/><circle cx="56.8" cy="367.39" r="0.45" fill="#3844b8"/><circle cx="54.22" cy="362.48" r="0.35" fill="#3844b8"/><circle cx="84.41" cy="367.72" r="0.34" fill="#2030a8"/><circle cx="65.02" cy="378.24" r="0.35" fill="#5058c0"/><circle cx="55.03" cy="376.68" r="0.36" fill="#3844b8"/><circle cx="40.75" cy="370.16" r="0.34" fill="#2838b0"/><circle cx="69.4" cy="373.69" r="0.4" fill="#2030a8"/><circle cx="59.56" cy="371.79" r="0.4" fill="#5058c0"/><circle cx="55.76" cy="374.78" r="0.37" fill="#2030a8"/><circle cx="76.86" cy="367.34" r="0.34" fill="#6a70cc"/><circle cx="43.15" cy="371.07" r="0.48" fill="#2838b0"/><circle cx="59.81" cy="369.8" r="0.48" fill="#2838b0"/><circle cx="76.67" cy="372.37" r="0.33" fill="#2838b0"/><circle cx="58.57" cy="366.55" r="0.37" fill="#5058c0"/><circle cx="75.44" cy="373.21" r="0.39" fill="#2838b0"/><circle cx="68.77" cy="370.7" r="0.31" fill="#3844b8"/><circle cx="62.32" cy="373.08" r="0.4" fill="#2838b0"/><circle cx="80" cy="364.26" r="0.4" fill="#2030a8"/><circle cx="68.2" cy="374.28" r="0.34" fill="#3844b8"/><circle cx="63.95" cy="366.29" r="0.37" fill="#5058c0"/><circle cx="44.87" cy="377.31" r="0.3" fill="#3844b8"/><circle cx="52.6" cy="371.26" r="0.41" fill="#2838b0"/><circle cx="67.19" cy="370.24" r="0.45" fill="#5058c0"/><circle cx="62.95" cy="365.31" r="0.37" fill="#2030a8"/><circle cx="66.45" cy="373.2" r="0.44" fill="#6a70cc"/><circle cx="57.38" cy="376.82" r="0.32" fill="#5058c0"/><circle cx="55.69" cy="370.11" r="0.46" fill="#5058c0"/><circle cx="56.05" cy="371.77" r="0.36" fill="#3844b8"/><circle cx="61.05" cy="370.73" r="0.34" fill="#5058c0"/><circle cx="65.34" cy="374.7" r="0.39" fill="#6a70cc"/><circle cx="84.51" cy="369.36" r="0.41" fill="#2030a8"/><circle cx="64.53" cy="369.96" r="0.3" fill="#2838b0"/><circle cx="71.58" cy="368.92" r="0.43" fill="#6a70cc"/><circle cx="62.61" cy="380.35" r="0.48" fill="#5058c0"/><circle cx="62.66" cy="372.21" r="0.39" fill="#2838b0"/><circle cx="67.76" cy="379.06" r="0.33" fill="#2838b0"/><circle cx="73.65" cy="367.28" r="0.35" fill="#6a70cc"/><circle cx="54.5" cy="371.33" r="0.39" fill="#2030a8"/><circle cx="59.53" cy="366.28" r="0.4" fill="#2030a8"/><circle cx="47.93" cy="366.87" r="0.38" fill="#2030a8"/><circle cx="73.15" cy="376.44" r="0.33" fill="#2838b0"/><circle cx="46.85" cy="370.42" r="0.4" fill="#2838b0"/><circle cx="69.6" cy="369.58" r="0.35" fill="#2030a8"/><circle cx="50.42" cy="372.52" r="0.32" fill="#6a70cc"/><circle cx="69.6" cy="366.81" r="0.5" fill="#2838b0"/><circle cx="63.36" cy="371.75" r="0.35" fill="#3844b8"/><circle cx="63.38" cy="372.29" r="0.31" fill="#2838b0"/><circle cx="72.1" cy="368.69" r="0.45" fill="#2838b0"/><circle cx="58.36" cy="377.43" r="0.33" fill="#2838b0"/><circle cx="58.8" cy="366.74" r="0.33" fill="#5058c0"/><circle cx="53.65" cy="377.5" r="0.5" fill="#3844b8"/><circle cx="67.55" cy="372.95" r="0.32" fill="#2030a8"/><circle cx="62.88" cy="367.21" r="0.46" fill="#6a70cc"/><circle cx="51.49" cy="370.46" r="0.43" fill="#2030a8"/><circle cx="54.09" cy="368.41" r="0.41" fill="#5058c0"/><circle cx="69.53" cy="374.21" r="0.31" fill="#5058c0"/><circle cx="63.67" cy="376.07" r="0.38" fill="#6a70cc"/><circle cx="55.23" cy="372.8" r="0.32" fill="#6a70cc"/><circle cx="77.31" cy="371.71" r="0.4" fill="#5058c0"/><circle cx="65.07" cy="372.89" r="0.35" fill="#2030a8"/><circle cx="81.23" cy="371.82" r="0.47" fill="#3844b8"/><circle cx="53.88" cy="362.83" r="0.47" fill="#2838b0"/><circle cx="63.39" cy="374.22" r="0.39" fill="#5058c0"/><circle cx="67.29" cy="372.8" r="0.32" fill="#3844b8"/><circle cx="41.28" cy="364.23" r="0.48" fill="#5058c0"/><circle cx="72.27" cy="370.12" r="0.31" fill="#2838b0"/><circle cx="67.82" cy="365.2" r="0.46" fill="#5058c0"/><circle cx="77.11" cy="368.23" r="0.32" fill="#2838b0"/><circle cx="55.01" cy="368.68" r="0.4" fill="#2838b0"/><circle cx="56.02" cy="354.96" r="0.35" fill="#6a70cc"/><circle cx="56.55" cy="375.58" r="0.32" fill="#3844b8"/><circle cx="49.74" cy="365.75" r="0.37" fill="#6a70cc"/><circle cx="83.83" cy="367.47" r="0.47" fill="#3844b8"/><circle cx="69.79" cy="371.38" r="0.34" fill="#6a70cc"/><circle cx="45.68" cy="370.99" r="0.32" fill="#5058c0"/><circle cx="57.88" cy="370.05" r="0.41" fill="#3844b8"/><circle cx="77.98" cy="380.47" r="0.35" fill="#3844b8"/><circle cx="56.8" cy="369.27" r="0.36" fill="#2838b0"/><circle cx="61.12" cy="368.23" r="0.33" fill="#6a70cc"/><circle cx="64.69" cy="373.09" r="0.45" fill="#2838b0"/><circle cx="70.7" cy="377.88" r="0.38" fill="#3844b8"/><circle cx="54.07" cy="371.66" r="0.48" fill="#3844b8"/><circle cx="44.89" cy="375.27" r="0.34" fill="#3844b8"/><circle cx="70.01" cy="369.1" r="0.38" fill="#2838b0"/><circle cx="62.35" cy="373.24" r="0.5" fill="#3844b8"/><circle cx="67.53" cy="366.43" r="0.34" fill="#6a70cc"/></g>
<g opacity="0.8"><circle cx="66" cy="381.44" r="0.3" fill="#b0a8e8"/><circle cx="59.4" cy="375.9" r="0.49" fill="#7a80d8"/><circle cx="66.03" cy="379.78" r="0.41" fill="#b0a8e8"/><circle cx="58.49" cy="381.01" r="0.46" fill="#b0a8e8"/><circle cx="65.49" cy="374.61" r="0.44" fill="#7a80d8"/><circle cx="72.92" cy="376.11" r="0.41" fill="#7a80d8"/><circle cx="74.79" cy="379.55" r="0.46" fill="#7a80d8"/><circle cx="52.9" cy="377.37" r="0.4" fill="#9a98e0"/><circle cx="44.57" cy="377.51" r="0.31" fill="#8890dc"/><circle cx="69.64" cy="378.74" r="0.38" fill="#7a80d8"/><circle cx="65.25" cy="373.85" r="0.44" fill="#b0a8e8"/><circle cx="61.45" cy="371.61" r="0.36" fill="#b0a8e8"/><circle cx="61.4" cy="380.27" r="0.32" fill="#7a80d8"/><circle cx="52.37" cy="381.65" r="0.37" fill="#8890dc"/><circle cx="60.32" cy="383.17" r="0.34" fill="#b0a8e8"/><circle cx="65.41" cy="377.97" r="0.31" fill="#9a98e0"/><circle cx="53.9" cy="381.66" r="0.41" fill="#9a98e0"/><circle cx="58.95" cy="372.71" r="0.33" fill="#8890dc"/><circle cx="59.05" cy="379.92" r="0.47" fill="#b0a8e8"/><circle cx="65.47" cy="379.17" r="0.33" fill="#9a98e0"/><circle cx="60.21" cy="377.67" r="0.46" fill="#9a98e0"/><circle cx="57.12" cy="379.95" r="0.36" fill="#b0a8e8"/><circle cx="66" cy="380.34" r="0.34" fill="#8890dc"/><circle cx="60.24" cy="380.53" r="0.41" fill="#b0a8e8"/><circle cx="47.24" cy="382.06" r="0.41" fill="#7a80d8"/><circle cx="53.32" cy="376.95" r="0.45" fill="#7a80d8"/><circle cx="44.84" cy="377.82" r="0.41" fill="#7a80d8"/><circle cx="57.56" cy="377.91" r="0.36" fill="#b0a8e8"/><circle cx="51.61" cy="381.05" r="0.34" fill="#7a80d8"/><circle cx="71.66" cy="377.79" r="0.36" fill="#b0a8e8"/><circle cx="72.34" cy="383.02" r="0.37" fill="#7a80d8"/><circle cx="58.8" cy="380.44" r="0.39" fill="#8890dc"/><circle cx="65.46" cy="376.47" r="0.44" fill="#b0a8e8"/><circle cx="68.99" cy="380.55" r="0.37" fill="#7a80d8"/><circle cx="58.46" cy="376.14" r="0.45" fill="#b0a8e8"/><circle cx="53.08" cy="378.03" r="0.33" fill="#b0a8e8"/><circle cx="80.19" cy="381.58" r="0.44" fill="#7a80d8"/><circle cx="56.14" cy="376.35" r="0.46" fill="#7a80d8"/><circle cx="49.5" cy="378.31" r="0.38" fill="#9a98e0"/><circle cx="57.94" cy="378.54" r="0.32" fill="#9a98e0"/><circle cx="71.61" cy="382.43" r="0.49" fill="#7a80d8"/><circle cx="63.39" cy="379.14" r="0.45" fill="#9a98e0"/><circle cx="70.77" cy="377.73" r="0.33" fill="#9a98e0"/><circle cx="40.82" cy="377.89" r="0.49" fill="#8890dc"/><circle cx="62.35" cy="378.73" r="0.44" fill="#9a98e0"/><circle cx="44.17" cy="379.45" r="0.39" fill="#b0a8e8"/><circle cx="71.8" cy="381.99" r="0.41" fill="#9a98e0"/><circle cx="66.15" cy="375.53" r="0.44" fill="#7a80d8"/><circle cx="77.36" cy="378.13" r="0.3" fill="#9a98e0"/><circle cx="43.41" cy="379.77" r="0.37" fill="#8890dc"/><circle cx="76.45" cy="378.84" r="0.48" fill="#7a80d8"/><circle cx="57.78" cy="379.25" r="0.36" fill="#8890dc"/><circle cx="61.24" cy="382.26" r="0.39" fill="#7a80d8"/><circle cx="43.27" cy="377.59" r="0.42" fill="#8890dc"/><circle cx="49.77" cy="378.29" r="0.5" fill="#8890dc"/><circle cx="77.5" cy="377.69" r="0.32" fill="#8890dc"/><circle cx="68.57" cy="380.94" r="0.41" fill="#9a98e0"/><circle cx="74.96" cy="376.85" r="0.49" fill="#9a98e0"/><circle cx="63.26" cy="381.09" r="0.38" fill="#7a80d8"/><circle cx="61.6" cy="379.51" r="0.36" fill="#8890dc"/><circle cx="56.09" cy="375.58" r="0.45" fill="#b0a8e8"/><circle cx="49.37" cy="377.1" r="0.39" fill="#9a98e0"/><circle cx="54" cy="379.55" r="0.32" fill="#7a80d8"/><circle cx="70.35" cy="378.14" r="0.47" fill="#7a80d8"/><circle cx="66.67" cy="375.82" r="0.35" fill="#9a98e0"/><circle cx="52.64" cy="382.02" r="0.37" fill="#7a80d8"/><circle cx="42.68" cy="375.72" r="0.42" fill="#8890dc"/><circle cx="76.67" cy="382.75" r="0.37" fill="#b0a8e8"/><circle cx="58.28" cy="373.59" r="0.34" fill="#9a98e0"/><circle cx="75.03" cy="378.14" r="0.39" fill="#7a80d8"/><circle cx="70.63" cy="378.72" r="0.49" fill="#9a98e0"/><circle cx="69.68" cy="380.76" r="0.41" fill="#8890dc"/><circle cx="69.37" cy="378.39" r="0.32" fill="#7a80d8"/><circle cx="46.9" cy="378.04" r="0.31" fill="#b0a8e8"/><circle cx="47.22" cy="377.38" r="0.48" fill="#8890dc"/><circle cx="72.31" cy="379.36" r="0.35" fill="#b0a8e8"/><circle cx="53.13" cy="381.93" r="0.41" fill="#9a98e0"/><circle cx="51.11" cy="378.4" r="0.31" fill="#b0a8e8"/><circle cx="58.95" cy="376.38" r="0.49" fill="#9a98e0"/><circle cx="61.14" cy="373.76" r="0.39" fill="#8890dc"/><circle cx="62.55" cy="380.87" r="0.49" fill="#b0a8e8"/><circle cx="44.82" cy="379.84" r="0.38" fill="#b0a8e8"/><circle cx="43.88" cy="376.89" r="0.32" fill="#9a98e0"/><circle cx="74.4" cy="378.52" r="0.33" fill="#7a80d8"/><circle cx="71.49" cy="377.48" r="0.38" fill="#9a98e0"/><circle cx="66.78" cy="376.94" r="0.3" fill="#9a98e0"/><circle cx="75.22" cy="381.6" r="0.33" fill="#9a98e0"/><circle cx="49.46" cy="380.41" r="0.44" fill="#9a98e0"/><circle cx="64.34" cy="378.93" r="0.36" fill="#b0a8e8"/><circle cx="69.27" cy="379.87" r="0.42" fill="#9a98e0"/><circle cx="68.8" cy="378.75" r="0.43" fill="#7a80d8"/><circle cx="62.93" cy="381.15" r="0.39" fill="#7a80d8"/><circle cx="70.82" cy="378.77" r="0.5" fill="#b0a8e8"/><circle cx="78.32" cy="376.86" r="0.44" fill="#8890dc"/><circle cx="63.85" cy="380.27" r="0.39" fill="#7a80d8"/><circle cx="66.1" cy="378.3" r="0.43" fill="#9a98e0"/><circle cx="58.4" cy="380.14" r="0.39" fill="#8890dc"/><circle cx="47.01" cy="379.78" r="0.4" fill="#8890dc"/><circle cx="69.45" cy="377.94" r="0.48" fill="#7a80d8"/><circle cx="74.75" cy="378.88" r="0.37" fill="#b0a8e8"/><circle cx="46.88" cy="375.87" r="0.35" fill="#9a98e0"/><circle cx="48.15" cy="368.44" r="0.4" fill="#8890dc"/><circle cx="49.56" cy="379.13" r="0.34" fill="#9a98e0"/><circle cx="69.84" cy="380.02" r="0.34" fill="#8890dc"/><circle cx="36.54" cy="380.84" r="0.3" fill="#8890dc"/><circle cx="64.46" cy="379.35" r="0.34" fill="#8890dc"/><circle cx="85.57" cy="378.3" r="0.34" fill="#9a98e0"/><circle cx="68.39" cy="376.56" r="0.37" fill="#9a98e0"/><circle cx="52.89" cy="376.43" r="0.34" fill="#b0a8e8"/><circle cx="81.5" cy="374.9" r="0.45" fill="#b0a8e8"/><circle cx="63.95" cy="378.14" r="0.3" fill="#b0a8e8"/><circle cx="55.49" cy="371.9" r="0.46" fill="#7a80d8"/><circle cx="52.58" cy="381.32" r="0.45" fill="#8890dc"/><circle cx="76.12" cy="379.44" r="0.33" fill="#8890dc"/><circle cx="80.39" cy="380.24" r="0.36" fill="#8890dc"/><circle cx="60.04" cy="378.88" r="0.48" fill="#b0a8e8"/><circle cx="79.06" cy="379.58" r="0.48" fill="#7a80d8"/><circle cx="62.36" cy="378.75" r="0.47" fill="#8890dc"/><circle cx="64.77" cy="375.67" r="0.46" fill="#7a80d8"/><circle cx="63.19" cy="379.34" r="0.48" fill="#7a80d8"/><circle cx="48.19" cy="378.17" r="0.38" fill="#9a98e0"/><circle cx="50.09" cy="376.13" r="0.44" fill="#8890dc"/><circle cx="74.68" cy="378.2" r="0.5" fill="#9a98e0"/><circle cx="65.51" cy="372.22" r="0.32" fill="#7a80d8"/><circle cx="62.03" cy="376.85" r="0.5" fill="#b0a8e8"/><circle cx="46.6" cy="382.75" r="0.39" fill="#b0a8e8"/><circle cx="46.45" cy="379.11" r="0.45" fill="#7a80d8"/><circle cx="56.65" cy="381.65" r="0.44" fill="#8890dc"/><circle cx="68.55" cy="377.33" r="0.45" fill="#b0a8e8"/><circle cx="52.82" cy="377.64" r="0.32" fill="#8890dc"/><circle cx="69.08" cy="380.48" r="0.4" fill="#7a80d8"/><circle cx="64.81" cy="378.03" r="0.34" fill="#7a80d8"/><circle cx="58.73" cy="373.48" r="0.42" fill="#9a98e0"/><circle cx="55.5" cy="380.06" r="0.33" fill="#b0a8e8"/><circle cx="71.34" cy="375.81" r="0.39" fill="#9a98e0"/><circle cx="72.9" cy="378.21" r="0.34" fill="#b0a8e8"/><circle cx="63.2" cy="381.52" r="0.43" fill="#b0a8e8"/><circle cx="60.73" cy="375.27" r="0.31" fill="#9a98e0"/><circle cx="78.27" cy="378.77" r="0.47" fill="#9a98e0"/><circle cx="65.14" cy="380.5" r="0.37" fill="#b0a8e8"/></g>
<ellipse cx="62.5" cy="370.8" rx="10.5" ry="5" fill="url(#blueC)" opacity="0.85"/>
<ellipse cx="43.2" cy="358.3" rx="6.8" ry="11" fill="url(#hotI)"/>
<line x1="30.5" y1="314.6" x2="30.5" y2="383.5" stroke="#333" stroke-width="0.9"/>
<line x1="30.5" y1="314.6" x2="98.8" y2="314.6" stroke="#333" stroke-width="0.9"/>
<rect x="36.1" y="346.3" width="13.9" height="20.2" fill="none" stroke="#444" stroke-width="0.6"/>
<rect x="50.2" y="364.2" width="26.3" height="14.2" fill="none" stroke="#444" stroke-width="0.6"/>
<text x="32.2" y="325.4" font-size="2.6" textLength="18.2" lengthAdjust="spacingAndGlyphs" fill="#555">RFP- CD119+</text>
<text x="38.9" y="329.3" font-size="2.6" textLength="6.4" lengthAdjust="spacingAndGlyphs" fill="#555">72.6</text>
<text x="78" y="369.8" font-size="2.6" textLength="19.3" lengthAdjust="spacingAndGlyphs" fill="#555">RFP+ CD119+</text>
<text x="84.5" y="373.9" font-size="2.6" textLength="6.4" lengthAdjust="spacingAndGlyphs" fill="#555">21.6</text>
<text x="23.9" y="349.1" font-size="10.4" text-anchor="middle" textLength="26" lengthAdjust="spacingAndGlyphs" transform="rotate(-90 23.9 349.1)">IFN-γR1</text>
<text x="58.7" y="394.7" font-size="9.4" textLength="12.5" lengthAdjust="spacingAndGlyphs">RFP</text>
<line x1="140.5" y1="312.8" x2="140.5" y2="384.1" stroke="#222" stroke-width="1"/>
<line x1="138" y1="383.7" x2="140.5" y2="383.7" stroke="#222" stroke-width="1"/>
<text x="134.1" y="386.29" font-size="7.2" text-anchor="end" textLength="3.6" lengthAdjust="spacingAndGlyphs" stroke="#222" stroke-width="0.15">0</text>
<line x1="138" y1="366.38" x2="140.5" y2="366.38" stroke="#222" stroke-width="1"/>
<text x="134.1" y="368.97" font-size="7.2" text-anchor="end" textLength="3.6" lengthAdjust="spacingAndGlyphs" stroke="#222" stroke-width="0.15">2</text>
<line x1="138" y1="349.05" x2="140.5" y2="349.05" stroke="#222" stroke-width="1"/>
<text x="134.1" y="351.64" font-size="7.2" text-anchor="end" textLength="3.6" lengthAdjust="spacingAndGlyphs" stroke="#222" stroke-width="0.15">4</text>
<line x1="138" y1="331.72" x2="140.5" y2="331.72" stroke="#222" stroke-width="1"/>
<text x="134.1" y="334.32" font-size="7.2" text-anchor="end" textLength="3.6" lengthAdjust="spacingAndGlyphs" stroke="#222" stroke-width="0.15">6</text>
<line x1="138" y1="314.4" x2="140.5" y2="314.4" stroke="#222" stroke-width="1"/>
<text x="134.1" y="316.99" font-size="7.2" text-anchor="end" textLength="3.6" lengthAdjust="spacingAndGlyphs" stroke="#222" stroke-width="0.15">8</text>
<rect x="143.65" y="381.97" width="6.3" height="1.73" fill="#c9c9c9"/>
<circle cx="145.5" cy="379.37" r="1.05" fill="#111"/>
<circle cx="146.8" cy="381.97" r="1.05" fill="#111"/>
<circle cx="148.1" cy="382.83" r="1.05" fill="#111"/>
<rect x="152.25" y="381.97" width="6.3" height="1.73" fill="#e0157b"/>
<circle cx="154.1" cy="379.37" r="1.05" fill="#111"/>
<circle cx="155.4" cy="381.1" r="1.05" fill="#111"/>
<circle cx="156.7" cy="382.83" r="1.05" fill="#111"/>
<rect x="170.85" y="364.21" width="6.3" height="19.49" fill="#c9c9c9"/>
<line x1="174" y1="353.38" x2="174" y2="364.21" stroke="#3a3a3a" stroke-width="1"/>
<line x1="172.7" y1="353.38" x2="175.3" y2="353.38" stroke="#3a3a3a" stroke-width="1"/>
<circle cx="172.05" cy="354.25" r="1.05" fill="#111"/>
<circle cx="173.35" cy="361.18" r="1.05" fill="#111"/>
<circle cx="174.65" cy="369.84" r="1.05" fill="#111"/>
<circle cx="175.95" cy="373.31" r="1.05" fill="#111"/>
<rect x="179.45" y="378.07" width="6.3" height="5.63" fill="#e0157b"/>
<line x1="182.6" y1="375.04" x2="182.6" y2="378.07" stroke="#3a3a3a" stroke-width="1"/>
<line x1="181.3" y1="375.04" x2="183.9" y2="375.04" stroke="#3a3a3a" stroke-width="1"/>
<circle cx="180.65" cy="375.04" r="1.05" fill="#111"/>
<circle cx="181.95" cy="376.77" r="1.05" fill="#111"/>
<circle cx="183.25" cy="379.37" r="1.05" fill="#111"/>
<circle cx="184.55" cy="381.1" r="1.05" fill="#111"/>
<rect x="198.05" y="375.73" width="6.3" height="7.97" fill="#c9c9c9"/>
<line x1="201.2" y1="369.84" x2="201.2" y2="375.73" stroke="#3a3a3a" stroke-width="1"/>
<line x1="199.9" y1="369.84" x2="202.5" y2="369.84" stroke="#3a3a3a" stroke-width="1"/>
<circle cx="199.9" cy="369.84" r="1.05" fill="#111"/>
<circle cx="201.2" cy="370.71" r="1.05" fill="#111"/>
<circle cx="202.5" cy="379.37" r="1.05" fill="#111"/>
<rect x="206.65" y="378.68" width="6.3" height="5.02" fill="#e0157b"/>
<line x1="209.8" y1="378.07" x2="209.8" y2="378.68" stroke="#3a3a3a" stroke-width="1"/>
<line x1="208.5" y1="378.07" x2="211.1" y2="378.07" stroke="#3a3a3a" stroke-width="1"/>
<circle cx="209.15" cy="378.33" r="1.05" fill="#111"/>
<circle cx="210.45" cy="378.94" r="1.05" fill="#111"/>
<rect x="225.15" y="328.52" width="6.3" height="55.18" fill="#c9c9c9"/>
<line x1="228.3" y1="324.79" x2="228.3" y2="328.52" stroke="#3a3a3a" stroke-width="1"/>
<line x1="227" y1="324.79" x2="229.6" y2="324.79" stroke="#3a3a3a" stroke-width="1"/>
<circle cx="227" cy="324.79" r="1.05" fill="#111"/>
<circle cx="228.3" cy="327.39" r="1.05" fill="#111"/>
<circle cx="229.6" cy="329.13" r="1.05" fill="#111"/>
<rect x="233.75" y="375.73" width="6.3" height="7.97" fill="#e0157b"/>
<line x1="236.9" y1="374.17" x2="236.9" y2="375.73" stroke="#3a3a3a" stroke-width="1"/>
<line x1="235.6" y1="374.17" x2="238.2" y2="374.17" stroke="#3a3a3a" stroke-width="1"/>
<circle cx="236.25" cy="374.17" r="1.05" fill="#111"/>
<circle cx="237.55" cy="376.77" r="1.05" fill="#111"/>
<line x1="140.5" y1="383.7" x2="246.3" y2="383.7" stroke="#222" stroke-width="1"/>
<line x1="151.1" y1="383.7" x2="151.1" y2="386.2" stroke="#222" stroke-width="1"/>
<line x1="178.3" y1="383.7" x2="178.3" y2="386.2" stroke="#222" stroke-width="1"/>
<line x1="205.5" y1="383.7" x2="205.5" y2="386.2" stroke="#222" stroke-width="1"/>
<line x1="232.6" y1="383.7" x2="232.6" y2="386.2" stroke="#222" stroke-width="1"/>
<line x1="174.2" y1="346.1" x2="183.5" y2="346.1" stroke="#1e1e1e" stroke-width="1"/>
<circle cx="178.85" cy="343.1" r="0.85" fill="#111"/>
<line x1="226" y1="319.2" x2="237.7" y2="319.2" stroke="#1e1e1e" stroke-width="1"/>
<circle cx="227.35" cy="315.2" r="0.85" fill="#111"/>
<circle cx="230.35" cy="315.2" r="0.85" fill="#111"/>
<circle cx="233.35" cy="315.2" r="0.85" fill="#111"/>
<circle cx="236.35" cy="315.2" r="0.85" fill="#111"/>
<rect x="144.1" y="315" width="6" height="6" fill="#c9c9c9"/>
<text x="153.5" y="320.52" font-size="7" textLength="46.7" lengthAdjust="spacingAndGlyphs" stroke="#222" stroke-width="0.15">Wild type (RFP-)</text>
<rect x="144.1" y="324" width="6" height="6" fill="#e0157b"/>
<text x="153.5" y="329.52" font-size="7" textLength="54.5" lengthAdjust="spacingAndGlyphs" stroke="#222" stroke-width="0.15">IFNγR1 KO (RFP+)</text>
<text x="124.8" y="348.6" font-size="8.8" text-anchor="middle" textLength="65.8" lengthAdjust="spacingAndGlyphs" stroke="#222" stroke-width="0.15" transform="rotate(-90 124.8 348.6)">MHC-II rMFI (×10<tspan dy="-3" font-size="5.8">2</tspan><tspan dy="3">)</tspan></text>
<text x="138.2" y="396.4" font-size="8.2" textLength="25.9" lengthAdjust="spacingAndGlyphs" stroke="#222" stroke-width="0.15">Vehicle</text>
<text x="169.9" y="396.4" font-size="8.2" textLength="15.9" lengthAdjust="spacingAndGlyphs" stroke="#222" stroke-width="0.15">IFNγ</text>
<text x="193" y="396.4" font-size="8.2" textLength="23" lengthAdjust="spacingAndGlyphs" stroke="#222" stroke-width="0.15">T Cells</text>
<text x="218" y="396.4" font-size="8.2" textLength="25.4" lengthAdjust="spacingAndGlyphs" stroke="#222" stroke-width="0.15">FLZ+T</text>
<text x="368" y="297.2" font-size="10.2" textLength="46.2" lengthAdjust="spacingAndGlyphs">β-actin KO</text>
<line x1="277.5" y1="302.5" x2="504.5" y2="302.5" stroke="#222" stroke-width="1.2"/>
<text x="280" y="315.5" font-size="10.5" textLength="5.8" lengthAdjust="spacingAndGlyphs" font-weight="bold" fill="#111">J</text>
<rect x="294.5" y="314.6" width="68.9" height="68.4" fill="none" stroke="#aaa" stroke-width="0.6"/>
<g opacity="0.8"><circle cx="336.72" cy="340.62" r="0.4" fill="#b0a8e8"/><circle cx="334" cy="346.2" r="0.35" fill="#b0a8e8"/><circle cx="326.41" cy="351.58" r="0.41" fill="#b0a8e8"/><circle cx="326.65" cy="350.03" r="0.31" fill="#9a98e0"/><circle cx="302.08" cy="352.32" r="0.43" fill="#8890dc"/><circle cx="343.27" cy="357.37" r="0.3" fill="#7a80d8"/><circle cx="337.03" cy="360.29" r="0.39" fill="#9a98e0"/><circle cx="315.23" cy="343.99" r="0.4" fill="#7a80d8"/><circle cx="335.87" cy="361.08" r="0.31" fill="#b0a8e8"/><circle cx="329.34" cy="344.51" r="0.32" fill="#b0a8e8"/><circle cx="325.89" cy="355.87" r="0.39" fill="#8890dc"/><circle cx="321.92" cy="344.18" r="0.36" fill="#8890dc"/><circle cx="308.3" cy="355.04" r="0.32" fill="#9a98e0"/><circle cx="323.5" cy="362.67" r="0.38" fill="#9a98e0"/><circle cx="346.22" cy="338.03" r="0.37" fill="#9a98e0"/><circle cx="339.72" cy="348.21" r="0.32" fill="#9a98e0"/><circle cx="342.8" cy="353.89" r="0.4" fill="#b0a8e8"/><circle cx="338.78" cy="353.31" r="0.3" fill="#7a80d8"/><circle cx="347.32" cy="356.47" r="0.32" fill="#7a80d8"/><circle cx="299.19" cy="365.35" r="0.38" fill="#8890dc"/><circle cx="304.66" cy="368.38" r="0.38" fill="#8890dc"/><circle cx="324.25" cy="344.98" r="0.45" fill="#7a80d8"/><circle cx="328.79" cy="343.73" r="0.37" fill="#8890dc"/><circle cx="331.69" cy="365.59" r="0.41" fill="#9a98e0"/><circle cx="356.43" cy="356.92" r="0.41" fill="#8890dc"/><circle cx="319.43" cy="323.12" r="0.42" fill="#8890dc"/><circle cx="325.67" cy="363.34" r="0.4" fill="#8890dc"/><circle cx="348.35" cy="352.82" r="0.4" fill="#7a80d8"/><circle cx="345.59" cy="364.62" r="0.32" fill="#b0a8e8"/><circle cx="321.15" cy="350.35" r="0.37" fill="#9a98e0"/><circle cx="348.17" cy="348.1" r="0.38" fill="#b0a8e8"/><circle cx="320.63" cy="353.11" r="0.39" fill="#7a80d8"/><circle cx="342.75" cy="354.43" r="0.35" fill="#9a98e0"/><circle cx="315.47" cy="363.44" r="0.39" fill="#8890dc"/><circle cx="332.38" cy="345.38" r="0.44" fill="#9a98e0"/><circle cx="330.54" cy="357.97" r="0.44" fill="#9a98e0"/><circle cx="306.13" cy="354.39" r="0.4" fill="#7a80d8"/><circle cx="300.02" cy="340.53" r="0.4" fill="#b0a8e8"/><circle cx="326.15" cy="345.09" r="0.44" fill="#7a80d8"/><circle cx="321.3" cy="358.72" r="0.34" fill="#8890dc"/><circle cx="343.04" cy="345.75" r="0.38" fill="#b0a8e8"/><circle cx="330.27" cy="360.3" r="0.37" fill="#9a98e0"/><circle cx="336.86" cy="349.46" r="0.37" fill="#9a98e0"/><circle cx="300.47" cy="349.52" r="0.42" fill="#b0a8e8"/><circle cx="356" cy="362.7" r="0.37" fill="#b0a8e8"/><circle cx="329.17" cy="353.59" r="0.36" fill="#8890dc"/><circle cx="351.73" cy="334.08" r="0.31" fill="#9a98e0"/><circle cx="346.87" cy="365.73" r="0.43" fill="#8890dc"/><circle cx="340.02" cy="358.36" r="0.3" fill="#8890dc"/><circle cx="304.94" cy="358.65" r="0.38" fill="#9a98e0"/><circle cx="300.38" cy="338.65" r="0.39" fill="#b0a8e8"/><circle cx="362.68" cy="355.67" r="0.44" fill="#9a98e0"/><circle cx="312.67" cy="340.18" r="0.32" fill="#8890dc"/><circle cx="340.32" cy="350.37" r="0.35" fill="#b0a8e8"/><circle cx="349.35" cy="331.58" r="0.45" fill="#b0a8e8"/><circle cx="344.21" cy="353.75" r="0.32" fill="#8890dc"/><circle cx="334.76" cy="332.01" r="0.32" fill="#7a80d8"/><circle cx="343.08" cy="343.66" r="0.35" fill="#7a80d8"/><circle cx="320.14" cy="357.85" r="0.33" fill="#9a98e0"/><circle cx="318.42" cy="375.57" r="0.42" fill="#7a80d8"/><circle cx="321.43" cy="350.35" r="0.36" fill="#7a80d8"/><circle cx="339.42" cy="347.11" r="0.33" fill="#7a80d8"/><circle cx="335.3" cy="351.13" r="0.42" fill="#7a80d8"/><circle cx="349.31" cy="347.61" r="0.41" fill="#7a80d8"/><circle cx="349.18" cy="352.32" r="0.37" fill="#7a80d8"/><circle cx="327.21" cy="332.88" r="0.42" fill="#7a80d8"/><circle cx="324.72" cy="345.75" r="0.35" fill="#7a80d8"/><circle cx="330.22" cy="362.05" r="0.45" fill="#7a80d8"/><circle cx="334.11" cy="346.51" r="0.44" fill="#8890dc"/><circle cx="328.87" cy="360.42" r="0.33" fill="#9a98e0"/><circle cx="344.96" cy="358.99" r="0.44" fill="#7a80d8"/><circle cx="337.89" cy="352.61" r="0.33" fill="#b0a8e8"/><circle cx="334.93" cy="348.01" r="0.43" fill="#b0a8e8"/><circle cx="305.21" cy="345.3" r="0.33" fill="#7a80d8"/><circle cx="334.32" cy="358.87" r="0.32" fill="#7a80d8"/><circle cx="332.49" cy="362.9" r="0.41" fill="#7a80d8"/><circle cx="320.96" cy="364.18" r="0.38" fill="#8890dc"/><circle cx="299.14" cy="368.15" r="0.31" fill="#9a98e0"/><circle cx="322.07" cy="350.94" r="0.37" fill="#8890dc"/><circle cx="310.08" cy="358.32" r="0.33" fill="#8890dc"/><circle cx="314.21" cy="346.09" r="0.3" fill="#8890dc"/><circle cx="349.27" cy="364.71" r="0.35" fill="#b0a8e8"/><circle cx="300.88" cy="340.27" r="0.44" fill="#8890dc"/><circle cx="335.41" cy="352.44" r="0.38" fill="#9a98e0"/><circle cx="315.47" cy="348.7" r="0.34" fill="#8890dc"/><circle cx="323.33" cy="354.28" r="0.44" fill="#b0a8e8"/><circle cx="340.58" cy="347.43" r="0.39" fill="#7a80d8"/><circle cx="325.03" cy="348.56" r="0.35" fill="#b0a8e8"/><circle cx="302.55" cy="354.91" r="0.36" fill="#9a98e0"/><circle cx="328.99" cy="353.86" r="0.39" fill="#8890dc"/><circle cx="338.04" cy="353.8" r="0.43" fill="#b0a8e8"/><circle cx="319.58" cy="362.28" r="0.44" fill="#8890dc"/><circle cx="306.68" cy="352.11" r="0.3" fill="#b0a8e8"/><circle cx="315.58" cy="354.93" r="0.31" fill="#9a98e0"/><circle cx="350.49" cy="351.38" r="0.44" fill="#b0a8e8"/><circle cx="328.6" cy="346.17" r="0.36" fill="#7a80d8"/><circle cx="321.88" cy="352.84" r="0.31" fill="#7a80d8"/><circle cx="295.37" cy="355.11" r="0.31" fill="#9a98e0"/><circle cx="355.7" cy="363.75" r="0.33" fill="#9a98e0"/><circle cx="342.05" cy="348.83" r="0.35" fill="#8890dc"/><circle cx="350.31" cy="364.17" r="0.3" fill="#b0a8e8"/><circle cx="349.17" cy="354.47" r="0.43" fill="#8890dc"/><circle cx="346.62" cy="357.24" r="0.41" fill="#9a98e0"/><circle cx="361.01" cy="340.04" r="0.43" fill="#7a80d8"/><circle cx="335.37" cy="344.92" r="0.42" fill="#9a98e0"/><circle cx="360.27" cy="358.29" r="0.44" fill="#8890dc"/><circle cx="320.6" cy="350.19" r="0.42" fill="#9a98e0"/><circle cx="342.68" cy="337.41" r="0.37" fill="#9a98e0"/><circle cx="315.74" cy="361.76" r="0.37" fill="#9a98e0"/><circle cx="324.99" cy="359.28" r="0.32" fill="#9a98e0"/><circle cx="323.08" cy="358.19" r="0.31" fill="#8890dc"/><circle cx="321.54" cy="373.8" r="0.43" fill="#b0a8e8"/><circle cx="322.42" cy="346.77" r="0.37" fill="#7a80d8"/><circle cx="349.28" cy="338.6" r="0.45" fill="#7a80d8"/><circle cx="346.11" cy="347.07" r="0.38" fill="#9a98e0"/><circle cx="339.34" cy="362.67" r="0.4" fill="#9a98e0"/><circle cx="325.64" cy="354.29" r="0.37" fill="#8890dc"/><circle cx="310.98" cy="357.6" r="0.4" fill="#7a80d8"/><circle cx="317.74" cy="354.66" r="0.4" fill="#7a80d8"/><circle cx="347.29" cy="364.83" r="0.37" fill="#b0a8e8"/><circle cx="335.98" cy="353.47" r="0.34" fill="#b0a8e8"/><circle cx="341.06" cy="334.24" r="0.34" fill="#9a98e0"/><circle cx="313.56" cy="354.54" r="0.41" fill="#7a80d8"/><circle cx="315.23" cy="346.92" r="0.38" fill="#8890dc"/><circle cx="332.99" cy="347.65" r="0.31" fill="#b0a8e8"/><circle cx="331.9" cy="352.55" r="0.43" fill="#b0a8e8"/><circle cx="330.08" cy="346.98" r="0.44" fill="#7a80d8"/><circle cx="324.4" cy="360.67" r="0.31" fill="#7a80d8"/><circle cx="322.33" cy="360.86" r="0.44" fill="#7a80d8"/><circle cx="329.34" cy="341.47" r="0.43" fill="#b0a8e8"/><circle cx="347.11" cy="339.28" r="0.31" fill="#9a98e0"/><circle cx="352.73" cy="346.07" r="0.45" fill="#8890dc"/><circle cx="321.6" cy="358.03" r="0.43" fill="#b0a8e8"/><circle cx="326.9" cy="351.06" r="0.37" fill="#7a80d8"/><circle cx="338.84" cy="363.3" r="0.45" fill="#8890dc"/><circle cx="351.51" cy="351.05" r="0.31" fill="#9a98e0"/><circle cx="300.66" cy="344.47" r="0.32" fill="#9a98e0"/><circle cx="339.53" cy="343.55" r="0.44" fill="#9a98e0"/><circle cx="323.29" cy="338.91" r="0.43" fill="#9a98e0"/><circle cx="346.72" cy="354.33" r="0.34" fill="#9a98e0"/><circle cx="334.28" cy="349.88" r="0.37" fill="#7a80d8"/><circle cx="324.83" cy="338.28" r="0.35" fill="#9a98e0"/><circle cx="301" cy="361.42" r="0.39" fill="#9a98e0"/><circle cx="309.42" cy="353.68" r="0.4" fill="#b0a8e8"/><circle cx="301.86" cy="316.71" r="0.32" fill="#9a98e0"/><circle cx="295.8" cy="349.32" r="0.31" fill="#8890dc"/><circle cx="295.26" cy="360.7" r="0.45" fill="#7a80d8"/><circle cx="319.37" cy="349.93" r="0.37" fill="#8890dc"/><circle cx="312.09" cy="354.48" r="0.31" fill="#b0a8e8"/><circle cx="300.03" cy="348.8" r="0.33" fill="#b0a8e8"/><circle cx="318.47" cy="356.8" r="0.33" fill="#b0a8e8"/><circle cx="332.9" cy="360.89" r="0.34" fill="#7a80d8"/><circle cx="319.03" cy="341.89" r="0.34" fill="#b0a8e8"/><circle cx="305.88" cy="353.1" r="0.36" fill="#8890dc"/><circle cx="322.14" cy="359.89" r="0.33" fill="#b0a8e8"/><circle cx="338.77" cy="362.11" r="0.34" fill="#b0a8e8"/><circle cx="345.58" cy="336.47" r="0.37" fill="#9a98e0"/><circle cx="318.9" cy="335.81" r="0.31" fill="#b0a8e8"/><circle cx="346.8" cy="354.66" r="0.41" fill="#8890dc"/><circle cx="339.89" cy="341.68" r="0.32" fill="#b0a8e8"/><circle cx="344.24" cy="354.09" r="0.43" fill="#7a80d8"/><circle cx="315.87" cy="356.21" r="0.3" fill="#b0a8e8"/><circle cx="332.28" cy="347.51" r="0.44" fill="#9a98e0"/><circle cx="360.29" cy="344.14" r="0.43" fill="#7a80d8"/><circle cx="334.22" cy="358.15" r="0.39" fill="#b0a8e8"/><circle cx="313.92" cy="343.42" r="0.39" fill="#8890dc"/><circle cx="317.62" cy="340.88" r="0.32" fill="#9a98e0"/><circle cx="344.15" cy="341.44" r="0.42" fill="#b0a8e8"/><circle cx="324.96" cy="347.86" r="0.33" fill="#7a80d8"/><circle cx="314.27" cy="340.83" r="0.31" fill="#b0a8e8"/><circle cx="351.37" cy="367.43" r="0.36" fill="#9a98e0"/><circle cx="316.22" cy="349.54" r="0.33" fill="#7a80d8"/><circle cx="324.94" cy="348.29" r="0.45" fill="#7a80d8"/><circle cx="311.64" cy="347.75" r="0.35" fill="#8890dc"/><circle cx="355.86" cy="348.29" r="0.36" fill="#7a80d8"/><circle cx="322.65" cy="349.91" r="0.31" fill="#b0a8e8"/><circle cx="356.8" cy="344.29" r="0.44" fill="#8890dc"/><circle cx="353.18" cy="354.44" r="0.32" fill="#7a80d8"/><circle cx="361.68" cy="328.81" r="0.36" fill="#7a80d8"/><circle cx="334.37" cy="344.46" r="0.45" fill="#7a80d8"/><circle cx="316.29" cy="340.76" r="0.36" fill="#7a80d8"/><circle cx="337.02" cy="332.4" r="0.33" fill="#7a80d8"/><circle cx="335.06" cy="348.76" r="0.36" fill="#7a80d8"/><circle cx="349.14" cy="355.4" r="0.31" fill="#9a98e0"/><circle cx="310.79" cy="352.48" r="0.39" fill="#8890dc"/><circle cx="317.5" cy="328.57" r="0.37" fill="#b0a8e8"/><circle cx="344.63" cy="352.34" r="0.34" fill="#9a98e0"/><circle cx="343.55" cy="347.47" r="0.4" fill="#7a80d8"/><circle cx="345.32" cy="336.31" r="0.44" fill="#8890dc"/><circle cx="323.05" cy="359.25" r="0.3" fill="#9a98e0"/><circle cx="348.05" cy="350.85" r="0.38" fill="#7a80d8"/><circle cx="331.43" cy="351.77" r="0.31" fill="#9a98e0"/><circle cx="306.57" cy="360.84" r="0.42" fill="#8890dc"/><circle cx="344.79" cy="351.37" r="0.38" fill="#7a80d8"/><circle cx="309.98" cy="352.19" r="0.42" fill="#7a80d8"/><circle cx="304.33" cy="354.44" r="0.38" fill="#7a80d8"/><circle cx="323.06" cy="353.25" r="0.38" fill="#7a80d8"/><circle cx="328.73" cy="336.17" r="0.35" fill="#9a98e0"/><circle cx="316.17" cy="351.25" r="0.43" fill="#9a98e0"/><circle cx="334.3" cy="357.5" r="0.37" fill="#9a98e0"/><circle cx="316.36" cy="367.11" r="0.3" fill="#8890dc"/><circle cx="298.3" cy="360.91" r="0.41" fill="#8890dc"/><circle cx="310.87" cy="360.12" r="0.42" fill="#8890dc"/><circle cx="331.75" cy="358.12" r="0.44" fill="#b0a8e8"/><circle cx="329.76" cy="353.15" r="0.35" fill="#9a98e0"/><circle cx="335" cy="348.24" r="0.31" fill="#9a98e0"/><circle cx="325.08" cy="360.67" r="0.4" fill="#9a98e0"/><circle cx="352.48" cy="379.87" r="0.43" fill="#9a98e0"/><circle cx="348.34" cy="358.47" r="0.4" fill="#7a80d8"/><circle cx="347.26" cy="356" r="0.38" fill="#b0a8e8"/><circle cx="336.84" cy="346.41" r="0.36" fill="#9a98e0"/><circle cx="353.54" cy="357.57" r="0.31" fill="#9a98e0"/><circle cx="315.28" cy="353.66" r="0.41" fill="#8890dc"/><circle cx="349.87" cy="351.46" r="0.39" fill="#7a80d8"/><circle cx="313.55" cy="357.21" r="0.33" fill="#9a98e0"/><circle cx="333.62" cy="345.47" r="0.41" fill="#b0a8e8"/><circle cx="323.61" cy="337.42" r="0.42" fill="#7a80d8"/><circle cx="332.85" cy="352.55" r="0.32" fill="#7a80d8"/><circle cx="328.03" cy="348.93" r="0.33" fill="#7a80d8"/><circle cx="319.66" cy="359.83" r="0.35" fill="#9a98e0"/><circle cx="326.49" cy="339.54" r="0.33" fill="#7a80d8"/><circle cx="361.16" cy="340.52" r="0.33" fill="#9a98e0"/><circle cx="322.53" cy="355.73" r="0.35" fill="#9a98e0"/><circle cx="334.67" cy="350.51" r="0.39" fill="#b0a8e8"/><circle cx="331.59" cy="346.59" r="0.38" fill="#b0a8e8"/><circle cx="319.04" cy="345.1" r="0.39" fill="#8890dc"/><circle cx="341.49" cy="348.08" r="0.35" fill="#9a98e0"/><circle cx="328.04" cy="348.39" r="0.41" fill="#b0a8e8"/><circle cx="318.24" cy="359.01" r="0.38" fill="#8890dc"/><circle cx="336.72" cy="321.06" r="0.34" fill="#9a98e0"/><circle cx="316.19" cy="346.29" r="0.32" fill="#9a98e0"/><circle cx="303.56" cy="352.63" r="0.41" fill="#7a80d8"/><circle cx="325.29" cy="361.36" r="0.45" fill="#7a80d8"/><circle cx="323.75" cy="332.97" r="0.37" fill="#8890dc"/><circle cx="329.55" cy="339.31" r="0.31" fill="#8890dc"/><circle cx="343.66" cy="333.02" r="0.34" fill="#b0a8e8"/><circle cx="341.92" cy="355.84" r="0.31" fill="#7a80d8"/><circle cx="335.06" cy="344.19" r="0.37" fill="#9a98e0"/><circle cx="354.49" cy="340.62" r="0.39" fill="#b0a8e8"/><circle cx="325.46" cy="336.65" r="0.39" fill="#8890dc"/><circle cx="305.76" cy="348.75" r="0.37" fill="#b0a8e8"/><circle cx="336.94" cy="356.88" r="0.4" fill="#b0a8e8"/><circle cx="304.56" cy="349.26" r="0.44" fill="#7a80d8"/><circle cx="322.5" cy="359.24" r="0.37" fill="#b0a8e8"/><circle cx="340.2" cy="353.23" r="0.3" fill="#9a98e0"/><circle cx="337.72" cy="334.65" r="0.34" fill="#9a98e0"/><circle cx="343.77" cy="346.38" r="0.4" fill="#8890dc"/><circle cx="344.48" cy="349.07" r="0.32" fill="#7a80d8"/><circle cx="342.11" cy="350.21" r="0.31" fill="#7a80d8"/><circle cx="336.24" cy="339.24" r="0.41" fill="#9a98e0"/><circle cx="319.79" cy="333.43" r="0.41" fill="#7a80d8"/><circle cx="335.35" cy="350.98" r="0.4" fill="#9a98e0"/><circle cx="322.96" cy="353.97" r="0.42" fill="#b0a8e8"/><circle cx="317.58" cy="352.12" r="0.34" fill="#7a80d8"/><circle cx="324.97" cy="350.24" r="0.32" fill="#7a80d8"/><circle cx="320.96" cy="343.86" r="0.35" fill="#9a98e0"/><circle cx="326.23" cy="332.35" r="0.39" fill="#7a80d8"/><circle cx="325.28" cy="372.4" r="0.4" fill="#b0a8e8"/><circle cx="357.07" cy="330.82" r="0.33" fill="#7a80d8"/><circle cx="356.78" cy="349.12" r="0.34" fill="#7a80d8"/><circle cx="308.32" cy="360.6" r="0.4" fill="#b0a8e8"/><circle cx="346.97" cy="353.93" r="0.39" fill="#b0a8e8"/><circle cx="343.43" cy="347.89" r="0.38" fill="#9a98e0"/><circle cx="295.83" cy="340.03" r="0.34" fill="#b0a8e8"/><circle cx="348.63" cy="342.42" r="0.44" fill="#7a80d8"/><circle cx="339.96" cy="356.05" r="0.45" fill="#b0a8e8"/><circle cx="325.79" cy="353.15" r="0.33" fill="#9a98e0"/><circle cx="352.31" cy="349.04" r="0.38" fill="#8890dc"/><circle cx="330.61" cy="333.3" r="0.44" fill="#b0a8e8"/><circle cx="346.14" cy="360.59" r="0.39" fill="#7a80d8"/><circle cx="314.78" cy="350.31" r="0.32" fill="#b0a8e8"/><circle cx="311.47" cy="355.92" r="0.44" fill="#7a80d8"/><circle cx="335.17" cy="369.67" r="0.39" fill="#7a80d8"/><circle cx="299.58" cy="357.34" r="0.4" fill="#b0a8e8"/><circle cx="330.38" cy="360.17" r="0.36" fill="#9a98e0"/><circle cx="354.13" cy="349.22" r="0.31" fill="#9a98e0"/><circle cx="351.62" cy="339.73" r="0.39" fill="#9a98e0"/><circle cx="297.83" cy="350.73" r="0.34" fill="#b0a8e8"/><circle cx="315.58" cy="349.36" r="0.36" fill="#7a80d8"/><circle cx="310.84" cy="335.72" r="0.33" fill="#9a98e0"/><circle cx="304.21" cy="349.38" r="0.37" fill="#7a80d8"/><circle cx="300.56" cy="349.19" r="0.38" fill="#7a80d8"/><circle cx="333.78" cy="336.72" r="0.41" fill="#7a80d8"/><circle cx="315.5" cy="353.95" r="0.37" fill="#9a98e0"/><circle cx="310.59" cy="380.31" r="0.36" fill="#b0a8e8"/><circle cx="315.35" cy="330.54" r="0.42" fill="#9a98e0"/><circle cx="319.05" cy="366.38" r="0.42" fill="#7a80d8"/><circle cx="323.72" cy="354.55" r="0.37" fill="#8890dc"/><circle cx="308.27" cy="361.59" r="0.43" fill="#8890dc"/><circle cx="354.57" cy="342.32" r="0.43" fill="#9a98e0"/><circle cx="331.91" cy="352.36" r="0.35" fill="#b0a8e8"/><circle cx="337.03" cy="359.18" r="0.41" fill="#9a98e0"/><circle cx="320.97" cy="344.61" r="0.4" fill="#b0a8e8"/><circle cx="326.14" cy="351.75" r="0.41" fill="#9a98e0"/><circle cx="338.83" cy="344.8" r="0.34" fill="#b0a8e8"/><circle cx="327.14" cy="350.29" r="0.38" fill="#7a80d8"/><circle cx="341.93" cy="352.34" r="0.4" fill="#8890dc"/><circle cx="325.86" cy="337.55" r="0.42" fill="#7a80d8"/><circle cx="332.36" cy="365.68" r="0.33" fill="#9a98e0"/><circle cx="328.28" cy="352.54" r="0.33" fill="#7a80d8"/><circle cx="331" cy="347.99" r="0.34" fill="#7a80d8"/><circle cx="338.43" cy="349.03" r="0.31" fill="#9a98e0"/><circle cx="316.98" cy="344.72" r="0.38" fill="#7a80d8"/><circle cx="332.89" cy="342.22" r="0.31" fill="#7a80d8"/><circle cx="319.11" cy="348.55" r="0.36" fill="#9a98e0"/><circle cx="315.85" cy="334.97" r="0.32" fill="#7a80d8"/><circle cx="327.23" cy="347.5" r="0.41" fill="#8890dc"/><circle cx="340.15" cy="359.4" r="0.33" fill="#7a80d8"/><circle cx="352.8" cy="353.42" r="0.3" fill="#8890dc"/><circle cx="348.26" cy="333.69" r="0.43" fill="#b0a8e8"/><circle cx="340.87" cy="356.78" r="0.42" fill="#8890dc"/><circle cx="323.36" cy="350.15" r="0.36" fill="#8890dc"/><circle cx="318.81" cy="357.75" r="0.43" fill="#9a98e0"/><circle cx="331.72" cy="344.01" r="0.33" fill="#8890dc"/><circle cx="320.4" cy="349.67" r="0.41" fill="#9a98e0"/><circle cx="331.46" cy="341.26" r="0.44" fill="#9a98e0"/><circle cx="322.08" cy="339.86" r="0.35" fill="#7a80d8"/><circle cx="345.74" cy="357.63" r="0.43" fill="#8890dc"/><circle cx="324.63" cy="354.77" r="0.42" fill="#9a98e0"/><circle cx="342.39" cy="359.25" r="0.33" fill="#9a98e0"/><circle cx="351.65" cy="357.62" r="0.44" fill="#b0a8e8"/><circle cx="343.33" cy="349.98" r="0.44" fill="#8890dc"/><circle cx="354.32" cy="358.27" r="0.44" fill="#7a80d8"/><circle cx="312.11" cy="367.76" r="0.36" fill="#b0a8e8"/><circle cx="310.17" cy="334.26" r="0.43" fill="#7a80d8"/><circle cx="295.11" cy="339.29" r="0.38" fill="#b0a8e8"/><circle cx="331.82" cy="344.71" r="0.32" fill="#8890dc"/><circle cx="298.66" cy="370.02" r="0.44" fill="#9a98e0"/><circle cx="304.38" cy="355.84" r="0.31" fill="#7a80d8"/><circle cx="336.28" cy="351.67" r="0.32" fill="#9a98e0"/><circle cx="321.24" cy="360.46" r="0.3" fill="#9a98e0"/><circle cx="348.79" cy="358.65" r="0.31" fill="#8890dc"/><circle cx="302.97" cy="343.21" r="0.39" fill="#7a80d8"/><circle cx="349.16" cy="355.68" r="0.42" fill="#7a80d8"/><circle cx="345.09" cy="357.26" r="0.44" fill="#b0a8e8"/><circle cx="327.95" cy="352.01" r="0.34" fill="#8890dc"/><circle cx="307.71" cy="354.27" r="0.31" fill="#8890dc"/><circle cx="301.54" cy="360.41" r="0.45" fill="#9a98e0"/><circle cx="310.77" cy="356.33" r="0.42" fill="#b0a8e8"/><circle cx="326.5" cy="341.21" r="0.34" fill="#9a98e0"/><circle cx="330.78" cy="361.56" r="0.35" fill="#9a98e0"/><circle cx="336.17" cy="348.05" r="0.31" fill="#7a80d8"/><circle cx="301.76" cy="367.94" r="0.44" fill="#7a80d8"/><circle cx="358.62" cy="353.4" r="0.42" fill="#b0a8e8"/><circle cx="332.44" cy="353.03" r="0.39" fill="#8890dc"/><circle cx="323.66" cy="344.78" r="0.45" fill="#b0a8e8"/><circle cx="327.36" cy="366.66" r="0.44" fill="#8890dc"/><circle cx="351.89" cy="346.08" r="0.31" fill="#9a98e0"/><circle cx="325.94" cy="355.46" r="0.35" fill="#8890dc"/><circle cx="344.43" cy="341.83" r="0.37" fill="#8890dc"/><circle cx="337.8" cy="367.04" r="0.4" fill="#8890dc"/><circle cx="318.03" cy="357.96" r="0.45" fill="#9a98e0"/><circle cx="344.91" cy="349.65" r="0.38" fill="#9a98e0"/><circle cx="317" cy="347.68" r="0.35" fill="#8890dc"/><circle cx="328.55" cy="340.71" r="0.4" fill="#b0a8e8"/><circle cx="318.91" cy="348.56" r="0.4" fill="#8890dc"/><circle cx="362.66" cy="361.12" r="0.41" fill="#8890dc"/><circle cx="338.33" cy="343.21" r="0.33" fill="#b0a8e8"/><circle cx="333.2" cy="362.54" r="0.38" fill="#7a80d8"/><circle cx="330.62" cy="345.97" r="0.35" fill="#8890dc"/><circle cx="322.18" cy="341.27" r="0.35" fill="#8890dc"/><circle cx="344.4" cy="349.69" r="0.42" fill="#9a98e0"/><circle cx="333.78" cy="339.93" r="0.45" fill="#8890dc"/><circle cx="342.78" cy="344.24" r="0.4" fill="#7a80d8"/><circle cx="347.08" cy="358.54" r="0.38" fill="#8890dc"/><circle cx="353.01" cy="356.08" r="0.38" fill="#b0a8e8"/><circle cx="346.19" cy="366.02" r="0.37" fill="#7a80d8"/><circle cx="325.51" cy="358.52" r="0.32" fill="#9a98e0"/><circle cx="324.7" cy="365.84" r="0.39" fill="#b0a8e8"/><circle cx="303.24" cy="372.88" r="0.35" fill="#7a80d8"/><circle cx="332.83" cy="346.59" r="0.42" fill="#9a98e0"/><circle cx="347.64" cy="353.23" r="0.33" fill="#9a98e0"/><circle cx="310.4" cy="353.26" r="0.31" fill="#9a98e0"/><circle cx="347.18" cy="360.75" r="0.3" fill="#8890dc"/><circle cx="339.34" cy="358.01" r="0.45" fill="#b0a8e8"/><circle cx="321.39" cy="359.53" r="0.38" fill="#9a98e0"/><circle cx="317.42" cy="362.29" r="0.31" fill="#7a80d8"/><circle cx="318.17" cy="350.43" r="0.36" fill="#9a98e0"/><circle cx="342.19" cy="338.64" r="0.39" fill="#9a98e0"/><circle cx="333.35" cy="342.28" r="0.34" fill="#7a80d8"/><circle cx="315.85" cy="359.38" r="0.4" fill="#7a80d8"/><circle cx="351.35" cy="346.11" r="0.39" fill="#7a80d8"/><circle cx="329.26" cy="353.59" r="0.37" fill="#b0a8e8"/><circle cx="344.32" cy="358.13" r="0.37" fill="#b0a8e8"/><circle cx="318.87" cy="357.14" r="0.34" fill="#8890dc"/><circle cx="324.8" cy="343.69" r="0.42" fill="#b0a8e8"/><circle cx="339.32" cy="344.97" r="0.33" fill="#9a98e0"/><circle cx="334.63" cy="356.42" r="0.35" fill="#9a98e0"/><circle cx="356.67" cy="349.55" r="0.4" fill="#b0a8e8"/><circle cx="320.1" cy="327.95" r="0.44" fill="#8890dc"/><circle cx="314.8" cy="352.89" r="0.4" fill="#8890dc"/><circle cx="340.69" cy="358.87" r="0.31" fill="#7a80d8"/><circle cx="308.52" cy="339.51" r="0.36" fill="#7a80d8"/><circle cx="330.11" cy="348.69" r="0.44" fill="#9a98e0"/><circle cx="328.01" cy="357.16" r="0.33" fill="#9a98e0"/><circle cx="326.49" cy="349.88" r="0.37" fill="#7a80d8"/><circle cx="303.44" cy="340.03" r="0.4" fill="#8890dc"/><circle cx="305.65" cy="349.43" r="0.4" fill="#9a98e0"/><circle cx="335.71" cy="347.73" r="0.35" fill="#7a80d8"/><circle cx="356.01" cy="342.39" r="0.31" fill="#8890dc"/><circle cx="332.5" cy="362.55" r="0.38" fill="#b0a8e8"/><circle cx="301.94" cy="344.06" r="0.39" fill="#b0a8e8"/><circle cx="323.68" cy="342.44" r="0.4" fill="#b0a8e8"/><circle cx="342.2" cy="345.07" r="0.36" fill="#8890dc"/><circle cx="331.86" cy="335.09" r="0.36" fill="#8890dc"/><circle cx="321.99" cy="345.74" r="0.38" fill="#9a98e0"/><circle cx="325.73" cy="340.79" r="0.34" fill="#7a80d8"/><circle cx="306.3" cy="337.43" r="0.45" fill="#b0a8e8"/><circle cx="310.96" cy="344.81" r="0.31" fill="#7a80d8"/><circle cx="311.68" cy="330.12" r="0.33" fill="#9a98e0"/><circle cx="313.76" cy="350.67" r="0.4" fill="#b0a8e8"/><circle cx="298.21" cy="348.32" r="0.36" fill="#7a80d8"/><circle cx="322.01" cy="339.23" r="0.44" fill="#b0a8e8"/><circle cx="307.11" cy="364.08" r="0.37" fill="#9a98e0"/><circle cx="312.09" cy="343.09" r="0.37" fill="#9a98e0"/><circle cx="307.73" cy="352.97" r="0.32" fill="#b0a8e8"/><circle cx="315.87" cy="351.45" r="0.31" fill="#b0a8e8"/><circle cx="322.65" cy="370.68" r="0.37" fill="#b0a8e8"/><circle cx="332.96" cy="351.18" r="0.45" fill="#9a98e0"/><circle cx="336.85" cy="354.66" r="0.38" fill="#9a98e0"/><circle cx="340.79" cy="339.93" r="0.4" fill="#7a80d8"/><circle cx="347.12" cy="351.15" r="0.32" fill="#8890dc"/><circle cx="312.44" cy="353.55" r="0.36" fill="#7a80d8"/><circle cx="322.04" cy="346.25" r="0.43" fill="#9a98e0"/><circle cx="335.42" cy="346.73" r="0.32" fill="#9a98e0"/><circle cx="333.25" cy="349.97" r="0.41" fill="#7a80d8"/><circle cx="325.6" cy="354.12" r="0.42" fill="#b0a8e8"/><circle cx="327.4" cy="350.61" r="0.45" fill="#7a80d8"/><circle cx="315.51" cy="344.1" r="0.33" fill="#b0a8e8"/><circle cx="334.48" cy="341.61" r="0.33" fill="#9a98e0"/><circle cx="322.91" cy="338.22" r="0.35" fill="#8890dc"/><circle cx="319.93" cy="324.72" r="0.33" fill="#8890dc"/><circle cx="339.63" cy="353.95" r="0.41" fill="#b0a8e8"/><circle cx="318.54" cy="333.81" r="0.33" fill="#8890dc"/><circle cx="319.49" cy="356.48" r="0.32" fill="#7a80d8"/><circle cx="347.35" cy="352.31" r="0.3" fill="#b0a8e8"/><circle cx="307.95" cy="362.15" r="0.37" fill="#b0a8e8"/><circle cx="356.52" cy="359.22" r="0.41" fill="#8890dc"/><circle cx="338.1" cy="358" r="0.37" fill="#b0a8e8"/><circle cx="298.76" cy="351.42" r="0.35" fill="#8890dc"/><circle cx="330.88" cy="341.38" r="0.3" fill="#8890dc"/><circle cx="317.98" cy="336.02" r="0.36" fill="#7a80d8"/><circle cx="316.6" cy="357.71" r="0.41" fill="#7a80d8"/><circle cx="323.41" cy="360.63" r="0.45" fill="#9a98e0"/><circle cx="323.15" cy="335.87" r="0.36" fill="#8890dc"/><circle cx="354.09" cy="361.93" r="0.41" fill="#9a98e0"/><circle cx="332.28" cy="360.37" r="0.42" fill="#b0a8e8"/><circle cx="334.42" cy="341.03" r="0.39" fill="#8890dc"/><circle cx="341.62" cy="363.88" r="0.39" fill="#8890dc"/><circle cx="330.29" cy="337.01" r="0.35" fill="#b0a8e8"/><circle cx="320.43" cy="342.23" r="0.39" fill="#8890dc"/><circle cx="327.68" cy="345.76" r="0.3" fill="#9a98e0"/><circle cx="345.4" cy="343.3" r="0.42" fill="#9a98e0"/><circle cx="341.73" cy="344.35" r="0.36" fill="#8890dc"/><circle cx="323.05" cy="333.19" r="0.42" fill="#b0a8e8"/><circle cx="318.22" cy="369.72" r="0.36" fill="#9a98e0"/><circle cx="331.67" cy="347.4" r="0.42" fill="#7a80d8"/><circle cx="303.97" cy="345.29" r="0.44" fill="#b0a8e8"/><circle cx="349.68" cy="362.28" r="0.42" fill="#8890dc"/><circle cx="328.82" cy="345.38" r="0.41" fill="#8890dc"/><circle cx="300.44" cy="329.34" r="0.41" fill="#b0a8e8"/><circle cx="326.91" cy="352.77" r="0.35" fill="#7a80d8"/><circle cx="325.68" cy="364.73" r="0.44" fill="#b0a8e8"/><circle cx="337.5" cy="362.02" r="0.3" fill="#9a98e0"/><circle cx="340.56" cy="340.49" r="0.4" fill="#8890dc"/><circle cx="314.29" cy="343.86" r="0.43" fill="#9a98e0"/><circle cx="325.94" cy="349.29" r="0.36" fill="#9a98e0"/><circle cx="297.68" cy="342.41" r="0.37" fill="#9a98e0"/><circle cx="330.66" cy="355.78" r="0.31" fill="#7a80d8"/><circle cx="339.14" cy="354.41" r="0.37" fill="#9a98e0"/><circle cx="334.56" cy="351.39" r="0.35" fill="#b0a8e8"/><circle cx="323.04" cy="345.5" r="0.36" fill="#7a80d8"/><circle cx="319.52" cy="350.05" r="0.35" fill="#7a80d8"/><circle cx="320.62" cy="356.19" r="0.4" fill="#9a98e0"/><circle cx="337.86" cy="357.81" r="0.44" fill="#7a80d8"/><circle cx="353.25" cy="336.55" r="0.44" fill="#7a80d8"/><circle cx="328.51" cy="337.18" r="0.38" fill="#b0a8e8"/><circle cx="316.25" cy="341.24" r="0.44" fill="#8890dc"/></g>
<g opacity="0.8"><circle cx="334.37" cy="331.81" r="0.44" fill="#7a80d8"/><circle cx="339.44" cy="341.87" r="0.47" fill="#6068d0"/><circle cx="331.08" cy="341.67" r="0.43" fill="#3445c0"/><circle cx="327.33" cy="345.61" r="0.45" fill="#7a80d8"/><circle cx="338.95" cy="347.22" r="0.35" fill="#3445c0"/><circle cx="306.75" cy="335.1" r="0.35" fill="#6068d0"/><circle cx="321.62" cy="347.64" r="0.38" fill="#4a58c8"/><circle cx="316.31" cy="343.98" r="0.43" fill="#6068d0"/><circle cx="299.92" cy="343.6" r="0.34" fill="#7a80d8"/><circle cx="333.14" cy="339.15" r="0.42" fill="#6068d0"/><circle cx="334" cy="350.23" r="0.46" fill="#6068d0"/><circle cx="321.58" cy="334.06" r="0.4" fill="#4a58c8"/><circle cx="320.77" cy="351.77" r="0.4" fill="#3445c0"/><circle cx="322.12" cy="344.69" r="0.48" fill="#7a80d8"/><circle cx="344.1" cy="346.28" r="0.45" fill="#6068d0"/><circle cx="342.53" cy="347.51" r="0.41" fill="#3445c0"/><circle cx="311.97" cy="339.88" r="0.46" fill="#2838b8"/><circle cx="325.68" cy="349.52" r="0.43" fill="#7a80d8"/><circle cx="332.47" cy="339.81" r="0.39" fill="#3445c0"/><circle cx="341.95" cy="352.09" r="0.42" fill="#7a80d8"/><circle cx="333.8" cy="345.53" r="0.31" fill="#7a80d8"/><circle cx="321.52" cy="345.85" r="0.34" fill="#6068d0"/><circle cx="333.99" cy="343.53" r="0.5" fill="#3445c0"/><circle cx="320.52" cy="347.6" r="0.3" fill="#7a80d8"/><circle cx="314.71" cy="342.26" r="0.46" fill="#2838b8"/><circle cx="355.03" cy="343.31" r="0.5" fill="#3445c0"/><circle cx="328.6" cy="340.45" r="0.48" fill="#7a80d8"/><circle cx="323.41" cy="344.9" r="0.33" fill="#2838b8"/><circle cx="337.68" cy="335.93" r="0.42" fill="#3445c0"/><circle cx="318.97" cy="342.1" r="0.47" fill="#4a58c8"/><circle cx="309.45" cy="345.56" r="0.38" fill="#3445c0"/><circle cx="325.88" cy="344.39" r="0.4" fill="#3445c0"/><circle cx="334.47" cy="341.74" r="0.37" fill="#3445c0"/><circle cx="348.69" cy="341.66" r="0.4" fill="#6068d0"/><circle cx="325.52" cy="338.51" r="0.38" fill="#3445c0"/><circle cx="337.73" cy="342.26" r="0.43" fill="#2838b8"/><circle cx="319.46" cy="351.04" r="0.42" fill="#3445c0"/><circle cx="320" cy="353.19" r="0.32" fill="#6068d0"/><circle cx="320.66" cy="347.03" r="0.49" fill="#2838b8"/><circle cx="309.61" cy="348.92" r="0.43" fill="#6068d0"/><circle cx="348.65" cy="344.22" r="0.34" fill="#3445c0"/><circle cx="330.63" cy="344.16" r="0.47" fill="#7a80d8"/><circle cx="320.19" cy="347.95" r="0.5" fill="#3445c0"/><circle cx="324.41" cy="337.21" r="0.48" fill="#3445c0"/><circle cx="343.01" cy="339.8" r="0.48" fill="#4a58c8"/><circle cx="324.53" cy="344.07" r="0.44" fill="#4a58c8"/><circle cx="309.74" cy="335.08" r="0.43" fill="#3445c0"/><circle cx="329.37" cy="340.44" r="0.36" fill="#2838b8"/><circle cx="330.26" cy="341.17" r="0.36" fill="#7a80d8"/><circle cx="308.32" cy="343.58" r="0.36" fill="#2838b8"/><circle cx="344.73" cy="337.47" r="0.48" fill="#7a80d8"/><circle cx="322.97" cy="346.53" r="0.41" fill="#7a80d8"/><circle cx="336.19" cy="344.06" r="0.32" fill="#6068d0"/><circle cx="317.39" cy="339.02" r="0.3" fill="#6068d0"/><circle cx="303.24" cy="349.17" r="0.39" fill="#2838b8"/><circle cx="344.34" cy="339.62" r="0.41" fill="#2838b8"/><circle cx="327.75" cy="334.07" r="0.34" fill="#4a58c8"/><circle cx="326.5" cy="334.62" r="0.33" fill="#3445c0"/><circle cx="347.46" cy="340.88" r="0.39" fill="#4a58c8"/><circle cx="341.97" cy="331.41" r="0.4" fill="#2838b8"/><circle cx="319.36" cy="344.56" r="0.33" fill="#2838b8"/><circle cx="318.04" cy="343.82" r="0.41" fill="#6068d0"/><circle cx="323.87" cy="344.34" r="0.49" fill="#6068d0"/><circle cx="342.56" cy="347.85" r="0.34" fill="#3445c0"/><circle cx="312.79" cy="338.02" r="0.45" fill="#7a80d8"/><circle cx="315" cy="339.22" r="0.44" fill="#7a80d8"/><circle cx="331.49" cy="337.92" r="0.42" fill="#2838b8"/><circle cx="360.53" cy="342.13" r="0.47" fill="#7a80d8"/><circle cx="314.03" cy="344.27" r="0.4" fill="#6068d0"/><circle cx="298.04" cy="348.4" r="0.45" fill="#6068d0"/><circle cx="330.28" cy="347.54" r="0.35" fill="#2838b8"/><circle cx="316.24" cy="342.46" r="0.5" fill="#4a58c8"/><circle cx="321.93" cy="342.33" r="0.44" fill="#3445c0"/><circle cx="311.09" cy="343.42" r="0.42" fill="#2838b8"/><circle cx="326.68" cy="338.59" r="0.41" fill="#3445c0"/><circle cx="319.8" cy="341.43" r="0.31" fill="#4a58c8"/><circle cx="314.14" cy="345.47" r="0.44" fill="#4a58c8"/><circle cx="333.03" cy="348.55" r="0.33" fill="#4a58c8"/><circle cx="313.92" cy="349.19" r="0.37" fill="#2838b8"/><circle cx="319.48" cy="341.55" r="0.47" fill="#2838b8"/><circle cx="311.98" cy="345.58" r="0.44" fill="#7a80d8"/><circle cx="318.56" cy="344.59" r="0.33" fill="#7a80d8"/><circle cx="322.15" cy="341.93" r="0.46" fill="#3445c0"/><circle cx="322.77" cy="354.82" r="0.43" fill="#4a58c8"/><circle cx="330" cy="341.18" r="0.35" fill="#4a58c8"/><circle cx="320.39" cy="346.76" r="0.33" fill="#6068d0"/><circle cx="332.48" cy="348.25" r="0.5" fill="#3445c0"/><circle cx="327.1" cy="343.81" r="0.47" fill="#7a80d8"/><circle cx="304.6" cy="343.7" r="0.44" fill="#7a80d8"/><circle cx="337.52" cy="338.42" r="0.45" fill="#2838b8"/><circle cx="312.67" cy="341.27" r="0.42" fill="#2838b8"/><circle cx="309.9" cy="348.72" r="0.49" fill="#2838b8"/><circle cx="340.78" cy="341.82" r="0.45" fill="#6068d0"/><circle cx="323.66" cy="347.83" r="0.41" fill="#7a80d8"/><circle cx="321.82" cy="346.91" r="0.43" fill="#7a80d8"/><circle cx="313.21" cy="339.9" r="0.42" fill="#6068d0"/><circle cx="341.83" cy="341.62" r="0.44" fill="#2838b8"/><circle cx="330.56" cy="341.35" r="0.37" fill="#2838b8"/><circle cx="323.29" cy="345.9" r="0.38" fill="#2838b8"/><circle cx="326.37" cy="343.85" r="0.34" fill="#6068d0"/><circle cx="334.52" cy="342.67" r="0.36" fill="#7a80d8"/><circle cx="344.32" cy="336.77" r="0.39" fill="#4a58c8"/><circle cx="335.33" cy="349.49" r="0.36" fill="#3445c0"/><circle cx="315.11" cy="348.14" r="0.45" fill="#3445c0"/><circle cx="324.07" cy="351.6" r="0.31" fill="#3445c0"/><circle cx="314.64" cy="348.81" r="0.47" fill="#3445c0"/><circle cx="322.02" cy="343.29" r="0.34" fill="#2838b8"/><circle cx="329.9" cy="341.57" r="0.32" fill="#3445c0"/><circle cx="308.25" cy="340.7" r="0.46" fill="#6068d0"/><circle cx="333.41" cy="351.69" r="0.36" fill="#2838b8"/><circle cx="318.36" cy="338.74" r="0.36" fill="#6068d0"/><circle cx="318.86" cy="336.37" r="0.33" fill="#4a58c8"/><circle cx="313.29" cy="350.03" r="0.4" fill="#6068d0"/><circle cx="299.16" cy="345.98" r="0.4" fill="#4a58c8"/><circle cx="341.77" cy="345.75" r="0.35" fill="#6068d0"/><circle cx="322.09" cy="334.44" r="0.38" fill="#6068d0"/><circle cx="351.01" cy="347" r="0.43" fill="#4a58c8"/><circle cx="310.98" cy="345.25" r="0.49" fill="#2838b8"/><circle cx="341.11" cy="343.84" r="0.48" fill="#4a58c8"/><circle cx="332.49" cy="336.63" r="0.3" fill="#7a80d8"/><circle cx="310.95" cy="346.96" r="0.31" fill="#2838b8"/><circle cx="330.01" cy="345.12" r="0.4" fill="#4a58c8"/><circle cx="325.36" cy="332.34" r="0.33" fill="#6068d0"/><circle cx="315.54" cy="336.31" r="0.3" fill="#2838b8"/><circle cx="327.32" cy="343.03" r="0.48" fill="#6068d0"/><circle cx="322.1" cy="345.12" r="0.42" fill="#2838b8"/><circle cx="325.33" cy="348.15" r="0.38" fill="#6068d0"/><circle cx="325.33" cy="340.5" r="0.31" fill="#4a58c8"/><circle cx="308.68" cy="350.89" r="0.45" fill="#6068d0"/><circle cx="325.2" cy="340.46" r="0.44" fill="#3445c0"/><circle cx="337.84" cy="346.72" r="0.35" fill="#4a58c8"/><circle cx="312.43" cy="342.05" r="0.38" fill="#7a80d8"/><circle cx="318.61" cy="345.97" r="0.44" fill="#7a80d8"/><circle cx="339.54" cy="342.96" r="0.4" fill="#6068d0"/><circle cx="301.97" cy="341.73" r="0.39" fill="#3445c0"/><circle cx="328.24" cy="336.49" r="0.41" fill="#3445c0"/><circle cx="315.72" cy="348.85" r="0.46" fill="#3445c0"/><circle cx="306.97" cy="339.9" r="0.32" fill="#3445c0"/><circle cx="312.82" cy="336.7" r="0.36" fill="#2838b8"/><circle cx="327.5" cy="336.29" r="0.37" fill="#4a58c8"/><circle cx="344.66" cy="349.57" r="0.38" fill="#2838b8"/><circle cx="357.33" cy="339.69" r="0.42" fill="#6068d0"/><circle cx="321.67" cy="348.03" r="0.47" fill="#3445c0"/><circle cx="312.08" cy="339.55" r="0.3" fill="#3445c0"/><circle cx="316.77" cy="345.45" r="0.42" fill="#7a80d8"/><circle cx="319.52" cy="350.89" r="0.38" fill="#6068d0"/><circle cx="327.83" cy="343.59" r="0.39" fill="#6068d0"/><circle cx="322.55" cy="343.49" r="0.44" fill="#2838b8"/><circle cx="300.95" cy="344.18" r="0.36" fill="#6068d0"/><circle cx="306.7" cy="344.2" r="0.45" fill="#3445c0"/><circle cx="322.7" cy="346.87" r="0.32" fill="#6068d0"/><circle cx="324.01" cy="345.46" r="0.35" fill="#4a58c8"/><circle cx="337.13" cy="335.83" r="0.36" fill="#4a58c8"/><circle cx="325.11" cy="332.92" r="0.43" fill="#2838b8"/><circle cx="341.79" cy="345.04" r="0.4" fill="#7a80d8"/><circle cx="330.87" cy="344.42" r="0.37" fill="#2838b8"/><circle cx="309.07" cy="343.16" r="0.48" fill="#3445c0"/><circle cx="340.58" cy="346.09" r="0.3" fill="#2838b8"/><circle cx="304.84" cy="348.27" r="0.47" fill="#3445c0"/><circle cx="299.12" cy="345.43" r="0.37" fill="#6068d0"/><circle cx="349.27" cy="343.91" r="0.48" fill="#3445c0"/><circle cx="337.97" cy="344.2" r="0.4" fill="#2838b8"/><circle cx="339.14" cy="344.09" r="0.47" fill="#3445c0"/><circle cx="317.26" cy="342.11" r="0.44" fill="#2838b8"/><circle cx="295.39" cy="350.24" r="0.32" fill="#6068d0"/><circle cx="347.7" cy="349.36" r="0.37" fill="#4a58c8"/><circle cx="332.38" cy="341" r="0.46" fill="#2838b8"/><circle cx="316.97" cy="344.35" r="0.34" fill="#2838b8"/><circle cx="322.05" cy="334.12" r="0.33" fill="#2838b8"/><circle cx="344.97" cy="345.12" r="0.33" fill="#2838b8"/><circle cx="324.3" cy="348.79" r="0.46" fill="#2838b8"/><circle cx="310.24" cy="334.46" r="0.35" fill="#7a80d8"/><circle cx="310.87" cy="340.6" r="0.32" fill="#7a80d8"/><circle cx="303.83" cy="355.02" r="0.33" fill="#2838b8"/><circle cx="350.21" cy="340.19" r="0.5" fill="#4a58c8"/><circle cx="317.96" cy="344.24" r="0.33" fill="#6068d0"/><circle cx="336.04" cy="330.43" r="0.35" fill="#4a58c8"/><circle cx="336.18" cy="342.3" r="0.38" fill="#4a58c8"/><circle cx="316.95" cy="339.64" r="0.4" fill="#4a58c8"/><circle cx="300.83" cy="354.41" r="0.46" fill="#4a58c8"/><circle cx="357.8" cy="338.45" r="0.39" fill="#3445c0"/><circle cx="316.96" cy="337.18" r="0.46" fill="#7a80d8"/><circle cx="314.91" cy="342.29" r="0.41" fill="#4a58c8"/><circle cx="328.33" cy="355.52" r="0.45" fill="#6068d0"/><circle cx="322.12" cy="346.22" r="0.39" fill="#7a80d8"/><circle cx="316.66" cy="340.35" r="0.46" fill="#3445c0"/><circle cx="311.85" cy="345.92" r="0.36" fill="#3445c0"/><circle cx="319.5" cy="349.42" r="0.33" fill="#4a58c8"/><circle cx="317.55" cy="346.87" r="0.38" fill="#7a80d8"/><circle cx="324.74" cy="335.8" r="0.34" fill="#6068d0"/><circle cx="319.46" cy="348.49" r="0.39" fill="#2838b8"/><circle cx="326.96" cy="344.07" r="0.33" fill="#7a80d8"/><circle cx="325.11" cy="341.45" r="0.4" fill="#6068d0"/><circle cx="355.06" cy="340.76" r="0.38" fill="#6068d0"/><circle cx="311.97" cy="342.03" r="0.39" fill="#3445c0"/><circle cx="317.38" cy="326.38" r="0.4" fill="#4a58c8"/><circle cx="325.14" cy="336.59" r="0.35" fill="#7a80d8"/><circle cx="336.43" cy="335.93" r="0.32" fill="#7a80d8"/><circle cx="327.24" cy="352.48" r="0.43" fill="#4a58c8"/><circle cx="334.52" cy="339.82" r="0.46" fill="#7a80d8"/><circle cx="354.14" cy="345.12" r="0.42" fill="#7a80d8"/><circle cx="315.68" cy="352.52" r="0.45" fill="#3445c0"/><circle cx="328.5" cy="344.89" r="0.47" fill="#3445c0"/><circle cx="322.25" cy="344.92" r="0.45" fill="#4a58c8"/><circle cx="312.5" cy="348.42" r="0.39" fill="#3445c0"/><circle cx="327.56" cy="347.62" r="0.33" fill="#3445c0"/><circle cx="344.6" cy="341.78" r="0.43" fill="#7a80d8"/><circle cx="331.37" cy="351.71" r="0.47" fill="#7a80d8"/><circle cx="350.09" cy="349.76" r="0.44" fill="#7a80d8"/><circle cx="333.74" cy="356.99" r="0.39" fill="#4a58c8"/><circle cx="320.53" cy="345.97" r="0.34" fill="#3445c0"/><circle cx="314.46" cy="344.61" r="0.45" fill="#2838b8"/><circle cx="346.5" cy="343.89" r="0.5" fill="#6068d0"/><circle cx="313.52" cy="346.16" r="0.34" fill="#6068d0"/><circle cx="355.83" cy="344.09" r="0.45" fill="#4a58c8"/><circle cx="341.45" cy="341.7" r="0.41" fill="#6068d0"/><circle cx="335.81" cy="347.38" r="0.46" fill="#4a58c8"/><circle cx="335.34" cy="340.97" r="0.35" fill="#2838b8"/><circle cx="305.95" cy="348.34" r="0.37" fill="#7a80d8"/><circle cx="323.51" cy="339.23" r="0.39" fill="#7a80d8"/><circle cx="346.13" cy="345.64" r="0.34" fill="#3445c0"/><circle cx="333.88" cy="334.15" r="0.48" fill="#6068d0"/><circle cx="344.86" cy="345.66" r="0.44" fill="#4a58c8"/><circle cx="312.72" cy="348.13" r="0.47" fill="#4a58c8"/><circle cx="319.55" cy="344.46" r="0.39" fill="#6068d0"/><circle cx="343.52" cy="352.15" r="0.37" fill="#3445c0"/><circle cx="326.72" cy="353.61" r="0.46" fill="#6068d0"/><circle cx="359.48" cy="345.42" r="0.47" fill="#7a80d8"/><circle cx="311.82" cy="345.78" r="0.33" fill="#2838b8"/><circle cx="319.25" cy="340.07" r="0.48" fill="#4a58c8"/><circle cx="342.92" cy="332.29" r="0.47" fill="#3445c0"/><circle cx="336.91" cy="351.36" r="0.35" fill="#4a58c8"/><circle cx="344.37" cy="343.87" r="0.32" fill="#7a80d8"/><circle cx="302.72" cy="347.93" r="0.33" fill="#4a58c8"/><circle cx="332.83" cy="332.13" r="0.46" fill="#6068d0"/><circle cx="302.68" cy="343.58" r="0.32" fill="#2838b8"/><circle cx="318.48" cy="338.21" r="0.35" fill="#6068d0"/><circle cx="320.53" cy="330.9" r="0.42" fill="#4a58c8"/><circle cx="304.8" cy="331.5" r="0.31" fill="#7a80d8"/><circle cx="323.19" cy="340.78" r="0.5" fill="#2838b8"/><circle cx="304.76" cy="350.33" r="0.4" fill="#7a80d8"/><circle cx="336.5" cy="340.54" r="0.42" fill="#4a58c8"/><circle cx="327" cy="340.3" r="0.49" fill="#7a80d8"/><circle cx="302.38" cy="337.4" r="0.36" fill="#7a80d8"/><circle cx="329.95" cy="335.67" r="0.44" fill="#2838b8"/><circle cx="334.73" cy="331.8" r="0.49" fill="#7a80d8"/><circle cx="312.59" cy="349.85" r="0.39" fill="#7a80d8"/><circle cx="301.02" cy="340.6" r="0.4" fill="#3445c0"/><circle cx="307.19" cy="346.16" r="0.41" fill="#3445c0"/><circle cx="337.96" cy="348.03" r="0.48" fill="#3445c0"/><circle cx="312.67" cy="345.99" r="0.42" fill="#3445c0"/><circle cx="316.93" cy="336.31" r="0.44" fill="#3445c0"/><circle cx="311.21" cy="351.01" r="0.42" fill="#6068d0"/><circle cx="339.16" cy="341.13" r="0.44" fill="#7a80d8"/><circle cx="314.82" cy="341.15" r="0.35" fill="#6068d0"/><circle cx="322.93" cy="346.42" r="0.37" fill="#2838b8"/><circle cx="340.91" cy="347.98" r="0.45" fill="#4a58c8"/><circle cx="349.25" cy="345.99" r="0.31" fill="#2838b8"/><circle cx="338.67" cy="332.96" r="0.44" fill="#2838b8"/><circle cx="314.7" cy="338.33" r="0.36" fill="#2838b8"/><circle cx="332.3" cy="342.35" r="0.31" fill="#2838b8"/><circle cx="320.13" cy="331.02" r="0.35" fill="#4a58c8"/><circle cx="319.79" cy="341.48" r="0.45" fill="#3445c0"/><circle cx="335.04" cy="341.11" r="0.39" fill="#6068d0"/><circle cx="329.49" cy="338.13" r="0.37" fill="#6068d0"/><circle cx="324.17" cy="348.26" r="0.47" fill="#7a80d8"/><circle cx="323.72" cy="354.68" r="0.41" fill="#2838b8"/><circle cx="325.74" cy="343.28" r="0.42" fill="#2838b8"/><circle cx="314.24" cy="344.41" r="0.36" fill="#2838b8"/><circle cx="340.9" cy="340.7" r="0.44" fill="#4a58c8"/><circle cx="319.42" cy="351.91" r="0.36" fill="#4a58c8"/><circle cx="333.46" cy="345.18" r="0.44" fill="#4a58c8"/><circle cx="340.58" cy="341.41" r="0.48" fill="#3445c0"/><circle cx="337.43" cy="337.54" r="0.42" fill="#2838b8"/><circle cx="333.24" cy="340.73" r="0.31" fill="#6068d0"/><circle cx="305.55" cy="344.46" r="0.39" fill="#7a80d8"/><circle cx="309.44" cy="343.32" r="0.46" fill="#3445c0"/><circle cx="362.43" cy="336.92" r="0.32" fill="#4a58c8"/><circle cx="330.47" cy="352.11" r="0.33" fill="#2838b8"/><circle cx="328.42" cy="348.96" r="0.34" fill="#7a80d8"/><circle cx="334.9" cy="339.28" r="0.46" fill="#6068d0"/><circle cx="317.95" cy="334" r="0.42" fill="#3445c0"/><circle cx="333.09" cy="338.85" r="0.38" fill="#7a80d8"/><circle cx="348.11" cy="353.55" r="0.37" fill="#6068d0"/><circle cx="311.75" cy="335.79" r="0.44" fill="#6068d0"/><circle cx="308.17" cy="348.78" r="0.37" fill="#4a58c8"/><circle cx="320.25" cy="342.78" r="0.33" fill="#2838b8"/><circle cx="323.47" cy="347.53" r="0.41" fill="#4a58c8"/><circle cx="328.6" cy="336.6" r="0.41" fill="#7a80d8"/><circle cx="343.14" cy="343.46" r="0.43" fill="#7a80d8"/><circle cx="320.72" cy="341.47" r="0.33" fill="#3445c0"/><circle cx="329.53" cy="343.6" r="0.38" fill="#7a80d8"/><circle cx="319.36" cy="341.8" r="0.39" fill="#7a80d8"/><circle cx="314.66" cy="338.91" r="0.44" fill="#4a58c8"/><circle cx="339.73" cy="347.78" r="0.33" fill="#4a58c8"/><circle cx="301.38" cy="350.71" r="0.31" fill="#4a58c8"/><circle cx="333.53" cy="342.76" r="0.43" fill="#4a58c8"/><circle cx="303.94" cy="350.03" r="0.39" fill="#4a58c8"/><circle cx="314.89" cy="334.3" r="0.36" fill="#6068d0"/><circle cx="335.01" cy="344.94" r="0.41" fill="#2838b8"/><circle cx="319.97" cy="340.85" r="0.32" fill="#3445c0"/><circle cx="322.44" cy="354.47" r="0.38" fill="#7a80d8"/><circle cx="317.56" cy="341.84" r="0.46" fill="#3445c0"/><circle cx="302.94" cy="337.67" r="0.46" fill="#7a80d8"/><circle cx="338.35" cy="343.07" r="0.42" fill="#6068d0"/><circle cx="311.95" cy="350.85" r="0.39" fill="#6068d0"/><circle cx="314.94" cy="349.57" r="0.43" fill="#6068d0"/><circle cx="320.58" cy="342.32" r="0.43" fill="#6068d0"/><circle cx="308.64" cy="343.71" r="0.35" fill="#7a80d8"/><circle cx="336.52" cy="339.53" r="0.41" fill="#3445c0"/><circle cx="322.85" cy="346.25" r="0.49" fill="#6068d0"/><circle cx="329.66" cy="345.53" r="0.41" fill="#6068d0"/><circle cx="332.06" cy="333.88" r="0.31" fill="#3445c0"/><circle cx="328" cy="344.34" r="0.38" fill="#7a80d8"/><circle cx="308.66" cy="339.03" r="0.33" fill="#2838b8"/><circle cx="332.63" cy="336.33" r="0.44" fill="#4a58c8"/><circle cx="315.04" cy="344.43" r="0.41" fill="#3445c0"/><circle cx="318.67" cy="336.09" r="0.32" fill="#4a58c8"/><circle cx="322.02" cy="351.5" r="0.38" fill="#2838b8"/><circle cx="337.32" cy="339.44" r="0.32" fill="#2838b8"/><circle cx="311.84" cy="347.35" r="0.32" fill="#3445c0"/><circle cx="322.6" cy="348.37" r="0.37" fill="#6068d0"/><circle cx="334.68" cy="343.88" r="0.35" fill="#6068d0"/><circle cx="345.14" cy="344.41" r="0.47" fill="#7a80d8"/><circle cx="323.39" cy="341.38" r="0.35" fill="#4a58c8"/><circle cx="319.95" cy="335.69" r="0.31" fill="#4a58c8"/><circle cx="340.77" cy="336.9" r="0.35" fill="#4a58c8"/><circle cx="311.97" cy="329.53" r="0.43" fill="#2838b8"/><circle cx="329.46" cy="354.86" r="0.49" fill="#2838b8"/><circle cx="312.77" cy="347.4" r="0.38" fill="#4a58c8"/><circle cx="341.23" cy="341.09" r="0.48" fill="#7a80d8"/><circle cx="304" cy="343.54" r="0.32" fill="#6068d0"/><circle cx="321.06" cy="353.41" r="0.37" fill="#7a80d8"/><circle cx="322.72" cy="339.93" r="0.46" fill="#4a58c8"/><circle cx="345.69" cy="346.36" r="0.5" fill="#4a58c8"/><circle cx="333.6" cy="337.11" r="0.4" fill="#6068d0"/><circle cx="311.78" cy="342.6" r="0.33" fill="#4a58c8"/><circle cx="335.31" cy="339.71" r="0.35" fill="#3445c0"/><circle cx="344.46" cy="336.19" r="0.46" fill="#3445c0"/><circle cx="331.87" cy="348.99" r="0.46" fill="#2838b8"/><circle cx="328.35" cy="349.25" r="0.48" fill="#7a80d8"/><circle cx="310.76" cy="342.7" r="0.39" fill="#7a80d8"/><circle cx="309.43" cy="340.09" r="0.34" fill="#4a58c8"/><circle cx="341.2" cy="344.35" r="0.39" fill="#4a58c8"/><circle cx="329.44" cy="332.77" r="0.46" fill="#4a58c8"/><circle cx="330.18" cy="342.67" r="0.49" fill="#6068d0"/><circle cx="305.04" cy="339.27" r="0.48" fill="#7a80d8"/><circle cx="326" cy="338.08" r="0.38" fill="#3445c0"/><circle cx="322.08" cy="352.91" r="0.36" fill="#4a58c8"/><circle cx="325.46" cy="339.48" r="0.42" fill="#7a80d8"/><circle cx="328.07" cy="335.43" r="0.44" fill="#6068d0"/><circle cx="306.47" cy="344.65" r="0.47" fill="#7a80d8"/><circle cx="342.19" cy="349.9" r="0.46" fill="#7a80d8"/><circle cx="348.3" cy="341.18" r="0.38" fill="#7a80d8"/><circle cx="331.47" cy="333.73" r="0.49" fill="#3445c0"/><circle cx="325.78" cy="337.59" r="0.48" fill="#4a58c8"/><circle cx="337.56" cy="340.46" r="0.38" fill="#2838b8"/><circle cx="342.58" cy="345.1" r="0.36" fill="#2838b8"/><circle cx="324.95" cy="333.73" r="0.42" fill="#6068d0"/><circle cx="326.09" cy="351.24" r="0.41" fill="#7a80d8"/><circle cx="329.11" cy="336.92" r="0.48" fill="#3445c0"/><circle cx="316.28" cy="339.46" r="0.33" fill="#6068d0"/><circle cx="337.7" cy="353.58" r="0.43" fill="#6068d0"/><circle cx="347.26" cy="342.94" r="0.45" fill="#3445c0"/><circle cx="299.96" cy="348.43" r="0.42" fill="#6068d0"/><circle cx="313.98" cy="344" r="0.36" fill="#3445c0"/><circle cx="337.73" cy="346.32" r="0.35" fill="#6068d0"/><circle cx="309.56" cy="347.46" r="0.44" fill="#6068d0"/><circle cx="311.39" cy="344.42" r="0.43" fill="#3445c0"/><circle cx="315.74" cy="343.91" r="0.32" fill="#7a80d8"/><circle cx="316.85" cy="343.5" r="0.4" fill="#7a80d8"/><circle cx="325.62" cy="345.34" r="0.38" fill="#7a80d8"/><circle cx="321.5" cy="344.5" r="0.49" fill="#3445c0"/><circle cx="314.39" cy="349.48" r="0.5" fill="#7a80d8"/><circle cx="338.28" cy="340.31" r="0.43" fill="#7a80d8"/><circle cx="304.51" cy="340.79" r="0.4" fill="#6068d0"/><circle cx="308.2" cy="345.73" r="0.3" fill="#2838b8"/><circle cx="310.6" cy="347.32" r="0.4" fill="#2838b8"/><circle cx="320.59" cy="336.58" r="0.4" fill="#6068d0"/><circle cx="306.48" cy="336.63" r="0.35" fill="#3445c0"/><circle cx="318.69" cy="329.1" r="0.38" fill="#7a80d8"/><circle cx="314.93" cy="345.99" r="0.31" fill="#3445c0"/><circle cx="323.68" cy="344.33" r="0.41" fill="#6068d0"/><circle cx="318.29" cy="343.73" r="0.36" fill="#7a80d8"/><circle cx="319.74" cy="347.84" r="0.37" fill="#4a58c8"/><circle cx="323.07" cy="345.09" r="0.34" fill="#7a80d8"/><circle cx="324.61" cy="341.24" r="0.32" fill="#2838b8"/><circle cx="322.6" cy="346.57" r="0.35" fill="#7a80d8"/><circle cx="321.96" cy="337.78" r="0.4" fill="#6068d0"/><circle cx="327.17" cy="337.74" r="0.35" fill="#4a58c8"/><circle cx="337.43" cy="353.38" r="0.43" fill="#6068d0"/><circle cx="358.64" cy="346.51" r="0.33" fill="#7a80d8"/><circle cx="359.25" cy="339.28" r="0.37" fill="#6068d0"/><circle cx="336.39" cy="336.1" r="0.3" fill="#2838b8"/><circle cx="320.62" cy="340.65" r="0.47" fill="#2838b8"/><circle cx="339.64" cy="342.38" r="0.3" fill="#7a80d8"/><circle cx="327.94" cy="340.75" r="0.5" fill="#6068d0"/><circle cx="302.57" cy="328.8" r="0.46" fill="#6068d0"/><circle cx="327.86" cy="347.07" r="0.38" fill="#7a80d8"/><circle cx="323.94" cy="339.06" r="0.33" fill="#4a58c8"/><circle cx="320.52" cy="350.23" r="0.38" fill="#6068d0"/><circle cx="324.21" cy="341.87" r="0.47" fill="#2838b8"/><circle cx="323.89" cy="337.35" r="0.4" fill="#2838b8"/><circle cx="319.6" cy="339.15" r="0.32" fill="#3445c0"/><circle cx="336.82" cy="345.15" r="0.35" fill="#7a80d8"/><circle cx="319.04" cy="352.81" r="0.37" fill="#4a58c8"/><circle cx="319.68" cy="341.73" r="0.49" fill="#7a80d8"/><circle cx="335.83" cy="332.56" r="0.41" fill="#6068d0"/><circle cx="332.12" cy="348.53" r="0.48" fill="#4a58c8"/><circle cx="326.95" cy="345.8" r="0.49" fill="#7a80d8"/><circle cx="307.8" cy="344.92" r="0.4" fill="#4a58c8"/><circle cx="337.55" cy="339.21" r="0.4" fill="#2838b8"/><circle cx="320.1" cy="344.85" r="0.35" fill="#6068d0"/><circle cx="322.58" cy="336.68" r="0.35" fill="#4a58c8"/><circle cx="309.13" cy="334.18" r="0.48" fill="#2838b8"/><circle cx="339.12" cy="345.74" r="0.31" fill="#2838b8"/><circle cx="335.26" cy="341.43" r="0.42" fill="#6068d0"/><circle cx="317.78" cy="344.51" r="0.5" fill="#7a80d8"/><circle cx="316.36" cy="350.83" r="0.44" fill="#7a80d8"/><circle cx="336.67" cy="347.06" r="0.46" fill="#7a80d8"/><circle cx="331.97" cy="343.81" r="0.32" fill="#7a80d8"/><circle cx="312.98" cy="349.69" r="0.42" fill="#2838b8"/><circle cx="323.77" cy="335.53" r="0.35" fill="#7a80d8"/><circle cx="338.11" cy="346.42" r="0.38" fill="#7a80d8"/><circle cx="335.6" cy="341.09" r="0.33" fill="#4a58c8"/><circle cx="302.13" cy="338.66" r="0.31" fill="#4a58c8"/><circle cx="322.82" cy="336.93" r="0.35" fill="#3445c0"/><circle cx="328.03" cy="340.98" r="0.47" fill="#3445c0"/><circle cx="334.75" cy="343.5" r="0.36" fill="#4a58c8"/><circle cx="332.22" cy="336.12" r="0.35" fill="#3445c0"/><circle cx="336.06" cy="341.38" r="0.47" fill="#6068d0"/><circle cx="323.73" cy="338.97" r="0.33" fill="#6068d0"/><circle cx="318.64" cy="345.7" r="0.41" fill="#7a80d8"/><circle cx="332.38" cy="342.25" r="0.36" fill="#4a58c8"/><circle cx="335.49" cy="351.1" r="0.32" fill="#2838b8"/><circle cx="355.16" cy="345.87" r="0.33" fill="#7a80d8"/><circle cx="340.02" cy="341.88" r="0.49" fill="#2838b8"/><circle cx="349.15" cy="347.65" r="0.5" fill="#3445c0"/><circle cx="345.04" cy="338.28" r="0.36" fill="#3445c0"/><circle cx="339.91" cy="339.22" r="0.48" fill="#4a58c8"/><circle cx="342.37" cy="349.69" r="0.47" fill="#7a80d8"/><circle cx="344.02" cy="349.21" r="0.46" fill="#6068d0"/><circle cx="325.48" cy="348.3" r="0.4" fill="#3445c0"/><circle cx="351.36" cy="343.92" r="0.4" fill="#6068d0"/><circle cx="317.65" cy="345.38" r="0.47" fill="#2838b8"/><circle cx="337.42" cy="329.33" r="0.44" fill="#3445c0"/><circle cx="325.41" cy="352.24" r="0.42" fill="#4a58c8"/><circle cx="315.51" cy="347.48" r="0.4" fill="#7a80d8"/><circle cx="320.93" cy="346.37" r="0.33" fill="#6068d0"/><circle cx="340.72" cy="346.98" r="0.39" fill="#4a58c8"/><circle cx="321.2" cy="347.65" r="0.4" fill="#7a80d8"/><circle cx="341.28" cy="346.28" r="0.42" fill="#6068d0"/><circle cx="340.58" cy="348.64" r="0.32" fill="#2838b8"/><circle cx="337.29" cy="340.72" r="0.34" fill="#6068d0"/><circle cx="324.64" cy="345.74" r="0.33" fill="#3445c0"/><circle cx="313.57" cy="334.14" r="0.35" fill="#6068d0"/><circle cx="332.5" cy="344.04" r="0.44" fill="#4a58c8"/><circle cx="346.65" cy="347.03" r="0.48" fill="#3445c0"/><circle cx="315.2" cy="351.23" r="0.43" fill="#7a80d8"/><circle cx="324.61" cy="338.15" r="0.31" fill="#2838b8"/><circle cx="337.49" cy="341.56" r="0.38" fill="#7a80d8"/><circle cx="342.01" cy="351.45" r="0.49" fill="#3445c0"/><circle cx="324.05" cy="333.05" r="0.34" fill="#3445c0"/><circle cx="307.94" cy="330.93" r="0.47" fill="#7a80d8"/><circle cx="328.03" cy="338.12" r="0.3" fill="#3445c0"/><circle cx="307.63" cy="341.73" r="0.36" fill="#7a80d8"/><circle cx="308.22" cy="347.66" r="0.42" fill="#3445c0"/><circle cx="355.51" cy="347.32" r="0.48" fill="#2838b8"/><circle cx="309.55" cy="337.85" r="0.45" fill="#2838b8"/><circle cx="323.16" cy="341.82" r="0.32" fill="#2838b8"/><circle cx="363.13" cy="346.59" r="0.47" fill="#3445c0"/><circle cx="326.27" cy="340.09" r="0.43" fill="#3445c0"/><circle cx="310.63" cy="345.12" r="0.38" fill="#2838b8"/><circle cx="331.44" cy="348.34" r="0.38" fill="#3445c0"/><circle cx="309.98" cy="339.18" r="0.38" fill="#2838b8"/><circle cx="336.32" cy="343.93" r="0.38" fill="#4a58c8"/><circle cx="348.9" cy="334.4" r="0.45" fill="#7a80d8"/><circle cx="309.62" cy="340.31" r="0.42" fill="#2838b8"/><circle cx="335.32" cy="342.42" r="0.45" fill="#3445c0"/><circle cx="298.76" cy="346.77" r="0.4" fill="#4a58c8"/><circle cx="312.27" cy="342.92" r="0.33" fill="#3445c0"/><circle cx="311.94" cy="347.59" r="0.36" fill="#3445c0"/><circle cx="309.76" cy="333.14" r="0.44" fill="#2838b8"/><circle cx="337.36" cy="336.41" r="0.46" fill="#7a80d8"/><circle cx="326.98" cy="338.1" r="0.49" fill="#4a58c8"/><circle cx="338.32" cy="344.22" r="0.44" fill="#3445c0"/><circle cx="339.42" cy="339.09" r="0.34" fill="#6068d0"/><circle cx="304.48" cy="355.45" r="0.45" fill="#3445c0"/><circle cx="334.26" cy="340.36" r="0.31" fill="#6068d0"/><circle cx="320.88" cy="339.19" r="0.41" fill="#4a58c8"/><circle cx="327.6" cy="339.02" r="0.43" fill="#7a80d8"/><circle cx="347.24" cy="338.34" r="0.4" fill="#2838b8"/><circle cx="304.3" cy="345.93" r="0.48" fill="#2838b8"/><circle cx="318.83" cy="338.63" r="0.48" fill="#2838b8"/><circle cx="300.14" cy="348.54" r="0.31" fill="#4a58c8"/><circle cx="337.69" cy="351.06" r="0.33" fill="#4a58c8"/><circle cx="325.83" cy="348.13" r="0.43" fill="#3445c0"/><circle cx="319.49" cy="341.15" r="0.48" fill="#7a80d8"/><circle cx="316.53" cy="342.31" r="0.35" fill="#2838b8"/><circle cx="325.74" cy="341.44" r="0.36" fill="#7a80d8"/><circle cx="322.07" cy="342.77" r="0.36" fill="#4a58c8"/><circle cx="357.62" cy="345.2" r="0.34" fill="#6068d0"/><circle cx="346.58" cy="340.77" r="0.31" fill="#2838b8"/><circle cx="343.96" cy="340.79" r="0.48" fill="#4a58c8"/><circle cx="308.51" cy="338.52" r="0.44" fill="#2838b8"/><circle cx="311.29" cy="346.48" r="0.43" fill="#3445c0"/><circle cx="346.2" cy="350.79" r="0.46" fill="#7a80d8"/><circle cx="301" cy="345.87" r="0.49" fill="#7a80d8"/><circle cx="331.11" cy="347.89" r="0.37" fill="#3445c0"/><circle cx="338.56" cy="341.11" r="0.35" fill="#3445c0"/><circle cx="323.93" cy="338.57" r="0.42" fill="#6068d0"/><circle cx="349.76" cy="349.75" r="0.48" fill="#3445c0"/><circle cx="308.1" cy="339.59" r="0.44" fill="#7a80d8"/><circle cx="329.88" cy="339.25" r="0.45" fill="#6068d0"/><circle cx="323.33" cy="335.96" r="0.43" fill="#4a58c8"/><circle cx="317.96" cy="348.13" r="0.44" fill="#4a58c8"/><circle cx="329.92" cy="350.99" r="0.46" fill="#6068d0"/><circle cx="327.69" cy="340.04" r="0.46" fill="#2838b8"/><circle cx="313.23" cy="333.08" r="0.47" fill="#4a58c8"/><circle cx="310.75" cy="339.18" r="0.36" fill="#3445c0"/><circle cx="310.73" cy="338.75" r="0.38" fill="#7a80d8"/><circle cx="320.93" cy="349.83" r="0.35" fill="#4a58c8"/><circle cx="348.39" cy="336.58" r="0.48" fill="#3445c0"/><circle cx="342.83" cy="343.38" r="0.34" fill="#4a58c8"/><circle cx="326.53" cy="343.65" r="0.42" fill="#2838b8"/><circle cx="310.23" cy="350.2" r="0.31" fill="#2838b8"/><circle cx="335.92" cy="343.89" r="0.32" fill="#4a58c8"/><circle cx="327.46" cy="345.33" r="0.33" fill="#2838b8"/><circle cx="343.77" cy="348.74" r="0.34" fill="#2838b8"/><circle cx="316.09" cy="339.7" r="0.4" fill="#2838b8"/><circle cx="314.26" cy="342.95" r="0.44" fill="#2838b8"/><circle cx="343.78" cy="357.08" r="0.41" fill="#7a80d8"/><circle cx="333.25" cy="336.36" r="0.31" fill="#4a58c8"/><circle cx="322.25" cy="349.39" r="0.36" fill="#4a58c8"/><circle cx="309.67" cy="343.61" r="0.42" fill="#4a58c8"/><circle cx="308.85" cy="340.95" r="0.37" fill="#7a80d8"/><circle cx="332.34" cy="345.51" r="0.44" fill="#3445c0"/><circle cx="321.33" cy="337.8" r="0.46" fill="#4a58c8"/><circle cx="308.54" cy="344.89" r="0.43" fill="#3445c0"/><circle cx="338.98" cy="347.7" r="0.45" fill="#3445c0"/><circle cx="361.19" cy="329" r="0.46" fill="#6068d0"/><circle cx="309.68" cy="339.93" r="0.36" fill="#3445c0"/><circle cx="358.74" cy="347.81" r="0.45" fill="#3445c0"/><circle cx="313.74" cy="349.26" r="0.32" fill="#4a58c8"/><circle cx="334.8" cy="342.09" r="0.44" fill="#2838b8"/><circle cx="318.84" cy="340.83" r="0.3" fill="#7a80d8"/><circle cx="310.82" cy="353.36" r="0.39" fill="#3445c0"/><circle cx="343.7" cy="352.26" r="0.35" fill="#4a58c8"/><circle cx="307.19" cy="348.03" r="0.47" fill="#4a58c8"/><circle cx="336.8" cy="341.13" r="0.42" fill="#3445c0"/><circle cx="320.44" cy="344.37" r="0.49" fill="#2838b8"/><circle cx="310.46" cy="340.1" r="0.37" fill="#2838b8"/><circle cx="323.19" cy="346.6" r="0.44" fill="#3445c0"/><circle cx="324.09" cy="347.83" r="0.36" fill="#4a58c8"/><circle cx="304.59" cy="339.21" r="0.39" fill="#3445c0"/><circle cx="339.76" cy="353.97" r="0.48" fill="#6068d0"/><circle cx="340.02" cy="338.36" r="0.43" fill="#2838b8"/><circle cx="317.84" cy="335.75" r="0.32" fill="#7a80d8"/><circle cx="360.76" cy="355.66" r="0.39" fill="#6068d0"/><circle cx="342" cy="353.12" r="0.38" fill="#7a80d8"/><circle cx="328.57" cy="340.33" r="0.3" fill="#7a80d8"/><circle cx="342.76" cy="343.33" r="0.38" fill="#2838b8"/><circle cx="316.49" cy="338.58" r="0.3" fill="#3445c0"/><circle cx="303.97" cy="334.29" r="0.38" fill="#7a80d8"/><circle cx="324.55" cy="354.65" r="0.44" fill="#7a80d8"/><circle cx="302.62" cy="341.78" r="0.45" fill="#3445c0"/><circle cx="339.65" cy="342.01" r="0.39" fill="#4a58c8"/><circle cx="307.51" cy="356.82" r="0.39" fill="#2838b8"/><circle cx="294.83" cy="349.89" r="0.33" fill="#3445c0"/><circle cx="326.02" cy="347.23" r="0.38" fill="#6068d0"/><circle cx="313.64" cy="347.1" r="0.46" fill="#2838b8"/><circle cx="322.86" cy="345.52" r="0.4" fill="#6068d0"/><circle cx="344.07" cy="338.51" r="0.4" fill="#6068d0"/><circle cx="331.21" cy="343.26" r="0.37" fill="#7a80d8"/><circle cx="328.88" cy="338.65" r="0.45" fill="#6068d0"/><circle cx="309.65" cy="341.5" r="0.42" fill="#3445c0"/><circle cx="337.36" cy="349.82" r="0.48" fill="#2838b8"/><circle cx="351.14" cy="347.76" r="0.47" fill="#4a58c8"/><circle cx="334.47" cy="331.94" r="0.39" fill="#4a58c8"/><circle cx="341.32" cy="345.7" r="0.33" fill="#3445c0"/><circle cx="306.94" cy="341.72" r="0.39" fill="#2838b8"/><circle cx="334.14" cy="343.01" r="0.36" fill="#7a80d8"/><circle cx="323.98" cy="341.94" r="0.44" fill="#4a58c8"/><circle cx="322.34" cy="344.15" r="0.48" fill="#3445c0"/><circle cx="299.79" cy="341.15" r="0.33" fill="#3445c0"/><circle cx="303.95" cy="333.23" r="0.35" fill="#3445c0"/><circle cx="333.88" cy="340.54" r="0.44" fill="#3445c0"/><circle cx="344.14" cy="341.18" r="0.35" fill="#3445c0"/><circle cx="329.31" cy="342.15" r="0.43" fill="#6068d0"/><circle cx="326.75" cy="347.32" r="0.34" fill="#6068d0"/><circle cx="318.36" cy="346.96" r="0.3" fill="#6068d0"/><circle cx="323.81" cy="341.45" r="0.34" fill="#6068d0"/><circle cx="327.23" cy="333.97" r="0.41" fill="#6068d0"/><circle cx="310.72" cy="339.32" r="0.33" fill="#4a58c8"/><circle cx="332.37" cy="345.94" r="0.38" fill="#4a58c8"/><circle cx="335.02" cy="342.87" r="0.4" fill="#2838b8"/><circle cx="319.86" cy="336.96" r="0.46" fill="#7a80d8"/><circle cx="316.19" cy="344.23" r="0.33" fill="#2838b8"/><circle cx="310.71" cy="349.59" r="0.32" fill="#4a58c8"/><circle cx="339.46" cy="353.49" r="0.35" fill="#6068d0"/><circle cx="341.61" cy="344.56" r="0.35" fill="#3445c0"/><circle cx="334.35" cy="340.36" r="0.46" fill="#7a80d8"/><circle cx="336.91" cy="341.21" r="0.49" fill="#2838b8"/><circle cx="348.37" cy="333.46" r="0.34" fill="#4a58c8"/><circle cx="328.99" cy="343.34" r="0.41" fill="#7a80d8"/><circle cx="354.01" cy="333.74" r="0.43" fill="#3445c0"/><circle cx="303.78" cy="348.48" r="0.35" fill="#7a80d8"/><circle cx="361.53" cy="342.63" r="0.47" fill="#4a58c8"/><circle cx="317.06" cy="344.3" r="0.48" fill="#6068d0"/><circle cx="318.93" cy="346.04" r="0.41" fill="#7a80d8"/><circle cx="333.35" cy="348.47" r="0.45" fill="#3445c0"/><circle cx="328.12" cy="346.84" r="0.46" fill="#4a58c8"/><circle cx="331.75" cy="337.44" r="0.44" fill="#6068d0"/><circle cx="309.12" cy="345.47" r="0.5" fill="#6068d0"/><circle cx="310.85" cy="349.11" r="0.48" fill="#7a80d8"/><circle cx="320.61" cy="337.92" r="0.35" fill="#6068d0"/><circle cx="333.75" cy="334.82" r="0.35" fill="#2838b8"/><circle cx="329.27" cy="332.91" r="0.46" fill="#4a58c8"/><circle cx="322.6" cy="344.86" r="0.38" fill="#7a80d8"/><circle cx="340.58" cy="345.63" r="0.36" fill="#4a58c8"/><circle cx="323.09" cy="334.76" r="0.44" fill="#6068d0"/><circle cx="315.69" cy="341.79" r="0.5" fill="#4a58c8"/><circle cx="342.46" cy="343.3" r="0.33" fill="#7a80d8"/><circle cx="325.6" cy="345.51" r="0.3" fill="#3445c0"/><circle cx="358.86" cy="339.03" r="0.42" fill="#6068d0"/><circle cx="334.9" cy="347.23" r="0.49" fill="#3445c0"/><circle cx="351.68" cy="345.19" r="0.43" fill="#3445c0"/><circle cx="312.7" cy="333.55" r="0.38" fill="#7a80d8"/><circle cx="332.55" cy="342.13" r="0.3" fill="#4a58c8"/><circle cx="304.68" cy="331.68" r="0.31" fill="#3445c0"/><circle cx="351.71" cy="345.03" r="0.49" fill="#3445c0"/><circle cx="303.54" cy="337.71" r="0.36" fill="#4a58c8"/><circle cx="312.29" cy="331.91" r="0.45" fill="#6068d0"/><circle cx="308.89" cy="340.22" r="0.44" fill="#7a80d8"/><circle cx="349.49" cy="338.77" r="0.35" fill="#4a58c8"/><circle cx="353.94" cy="352.33" r="0.37" fill="#7a80d8"/><circle cx="337.81" cy="341.47" r="0.45" fill="#4a58c8"/><circle cx="329.01" cy="345.26" r="0.37" fill="#7a80d8"/><circle cx="328.45" cy="341.19" r="0.36" fill="#2838b8"/><circle cx="327.2" cy="338.03" r="0.48" fill="#6068d0"/><circle cx="308.54" cy="339.33" r="0.37" fill="#3445c0"/><circle cx="341.79" cy="344.78" r="0.49" fill="#7a80d8"/><circle cx="339.24" cy="346.43" r="0.33" fill="#3445c0"/><circle cx="339.9" cy="331.13" r="0.45" fill="#7a80d8"/><circle cx="315.57" cy="327.03" r="0.36" fill="#2838b8"/><circle cx="335.96" cy="342.48" r="0.32" fill="#3445c0"/><circle cx="352.31" cy="341.77" r="0.41" fill="#2838b8"/><circle cx="312.46" cy="339.2" r="0.4" fill="#6068d0"/><circle cx="321.29" cy="345.84" r="0.41" fill="#6068d0"/><circle cx="326.76" cy="342.6" r="0.48" fill="#4a58c8"/><circle cx="318.27" cy="343.74" r="0.39" fill="#4a58c8"/><circle cx="352.51" cy="338.68" r="0.41" fill="#7a80d8"/><circle cx="326.98" cy="338.08" r="0.45" fill="#2838b8"/><circle cx="345.22" cy="347.94" r="0.43" fill="#2838b8"/><circle cx="331.38" cy="340.32" r="0.32" fill="#3445c0"/><circle cx="333.23" cy="338.97" r="0.5" fill="#2838b8"/><circle cx="341.64" cy="343.93" r="0.36" fill="#3445c0"/><circle cx="348.39" cy="348.99" r="0.37" fill="#6068d0"/><circle cx="335.97" cy="353.61" r="0.34" fill="#4a58c8"/><circle cx="296.39" cy="342.93" r="0.4" fill="#3445c0"/><circle cx="347.94" cy="348.92" r="0.32" fill="#2838b8"/><circle cx="315.95" cy="347.35" r="0.49" fill="#3445c0"/><circle cx="308.18" cy="346.1" r="0.47" fill="#6068d0"/><circle cx="330.32" cy="339.17" r="0.35" fill="#6068d0"/><circle cx="321.45" cy="333.29" r="0.39" fill="#2838b8"/><circle cx="317.77" cy="344.89" r="0.41" fill="#3445c0"/><circle cx="342.05" cy="337.2" r="0.41" fill="#6068d0"/><circle cx="313.5" cy="343.21" r="0.31" fill="#6068d0"/><circle cx="302.09" cy="349.01" r="0.34" fill="#4a58c8"/><circle cx="333.76" cy="342.13" r="0.41" fill="#6068d0"/><circle cx="305.3" cy="341.22" r="0.34" fill="#2838b8"/><circle cx="339.41" cy="350.84" r="0.31" fill="#4a58c8"/><circle cx="328.96" cy="340.85" r="0.33" fill="#2838b8"/><circle cx="332.88" cy="345.59" r="0.44" fill="#4a58c8"/><circle cx="343.53" cy="343.58" r="0.44" fill="#6068d0"/><circle cx="337.58" cy="336.09" r="0.42" fill="#3445c0"/><circle cx="314.77" cy="343.89" r="0.46" fill="#2838b8"/><circle cx="331.24" cy="351.05" r="0.33" fill="#7a80d8"/><circle cx="323.38" cy="343.02" r="0.32" fill="#2838b8"/><circle cx="311.89" cy="339.92" r="0.32" fill="#7a80d8"/><circle cx="342.24" cy="340.29" r="0.35" fill="#4a58c8"/><circle cx="315" cy="343.95" r="0.44" fill="#7a80d8"/><circle cx="303.61" cy="349.87" r="0.4" fill="#4a58c8"/><circle cx="325.91" cy="335.42" r="0.43" fill="#3445c0"/><circle cx="354.67" cy="341.19" r="0.36" fill="#3445c0"/><circle cx="302.87" cy="337.96" r="0.43" fill="#3445c0"/><circle cx="303.18" cy="335.38" r="0.46" fill="#4a58c8"/><circle cx="314.26" cy="345.74" r="0.33" fill="#6068d0"/><circle cx="317.78" cy="339.46" r="0.4" fill="#6068d0"/><circle cx="316.7" cy="340.63" r="0.37" fill="#2838b8"/><circle cx="324.04" cy="343.88" r="0.39" fill="#2838b8"/><circle cx="347.19" cy="350.83" r="0.41" fill="#4a58c8"/><circle cx="317.36" cy="340.09" r="0.38" fill="#3445c0"/><circle cx="323.23" cy="345.15" r="0.4" fill="#3445c0"/><circle cx="306.41" cy="348.9" r="0.32" fill="#3445c0"/><circle cx="345.28" cy="338.8" r="0.35" fill="#4a58c8"/><circle cx="319.44" cy="347.34" r="0.38" fill="#6068d0"/><circle cx="320" cy="339.08" r="0.31" fill="#6068d0"/><circle cx="358.76" cy="340.88" r="0.48" fill="#4a58c8"/><circle cx="345.69" cy="344.62" r="0.46" fill="#7a80d8"/><circle cx="343.77" cy="337.27" r="0.35" fill="#6068d0"/><circle cx="331.44" cy="353.58" r="0.43" fill="#7a80d8"/><circle cx="346.5" cy="357.23" r="0.45" fill="#6068d0"/><circle cx="318.75" cy="333.91" r="0.4" fill="#4a58c8"/><circle cx="340.75" cy="345.77" r="0.42" fill="#3445c0"/><circle cx="324.97" cy="346.78" r="0.38" fill="#7a80d8"/><circle cx="323.54" cy="352.22" r="0.39" fill="#3445c0"/><circle cx="312.19" cy="344.73" r="0.3" fill="#3445c0"/><circle cx="348.67" cy="350.26" r="0.36" fill="#3445c0"/><circle cx="312.25" cy="343.55" r="0.5" fill="#2838b8"/><circle cx="323.41" cy="340.47" r="0.39" fill="#3445c0"/><circle cx="315.6" cy="339.59" r="0.43" fill="#7a80d8"/><circle cx="330.4" cy="343.67" r="0.39" fill="#7a80d8"/><circle cx="318.42" cy="348.12" r="0.37" fill="#7a80d8"/><circle cx="322.96" cy="337.58" r="0.38" fill="#7a80d8"/><circle cx="308.64" cy="342.1" r="0.3" fill="#4a58c8"/><circle cx="326.75" cy="333.09" r="0.49" fill="#3445c0"/><circle cx="321.03" cy="337.11" r="0.32" fill="#4a58c8"/><circle cx="340.67" cy="345.64" r="0.32" fill="#6068d0"/><circle cx="307.38" cy="337.67" r="0.33" fill="#6068d0"/><circle cx="331.97" cy="350.52" r="0.48" fill="#3445c0"/><circle cx="321.46" cy="343.78" r="0.36" fill="#4a58c8"/><circle cx="324.04" cy="343.49" r="0.43" fill="#6068d0"/><circle cx="299.61" cy="335.84" r="0.49" fill="#7a80d8"/><circle cx="329.1" cy="350.9" r="0.45" fill="#4a58c8"/><circle cx="341.77" cy="342.71" r="0.49" fill="#7a80d8"/><circle cx="331.72" cy="354.5" r="0.36" fill="#4a58c8"/><circle cx="319.29" cy="338.31" r="0.5" fill="#4a58c8"/><circle cx="320.88" cy="341.29" r="0.32" fill="#4a58c8"/><circle cx="318.16" cy="342.54" r="0.36" fill="#4a58c8"/><circle cx="318.41" cy="337.72" r="0.35" fill="#4a58c8"/><circle cx="343.14" cy="340.43" r="0.31" fill="#2838b8"/><circle cx="343.72" cy="340.96" r="0.32" fill="#7a80d8"/><circle cx="328.48" cy="342.34" r="0.46" fill="#7a80d8"/><circle cx="302.39" cy="350.66" r="0.4" fill="#4a58c8"/><circle cx="324.29" cy="346.18" r="0.38" fill="#2838b8"/><circle cx="337.26" cy="342.43" r="0.41" fill="#6068d0"/><circle cx="337.17" cy="345.23" r="0.33" fill="#2838b8"/><circle cx="318.04" cy="342.58" r="0.34" fill="#2838b8"/><circle cx="356.5" cy="337.86" r="0.36" fill="#3445c0"/><circle cx="323.62" cy="341.1" r="0.31" fill="#2838b8"/><circle cx="330.57" cy="344.99" r="0.5" fill="#4a58c8"/><circle cx="309.89" cy="344.08" r="0.46" fill="#2838b8"/><circle cx="344.78" cy="343.46" r="0.4" fill="#6068d0"/><circle cx="352.61" cy="345.8" r="0.38" fill="#7a80d8"/><circle cx="322.03" cy="351.97" r="0.41" fill="#3445c0"/><circle cx="315.24" cy="338.34" r="0.43" fill="#4a58c8"/><circle cx="322.39" cy="338.87" r="0.32" fill="#7a80d8"/><circle cx="349.74" cy="346.08" r="0.44" fill="#2838b8"/><circle cx="330.99" cy="339.7" r="0.41" fill="#6068d0"/><circle cx="301.27" cy="340.74" r="0.5" fill="#7a80d8"/><circle cx="323.66" cy="342.87" r="0.43" fill="#6068d0"/><circle cx="316.03" cy="347.99" r="0.48" fill="#7a80d8"/><circle cx="309.13" cy="346.16" r="0.4" fill="#2838b8"/><circle cx="322.57" cy="343.44" r="0.35" fill="#4a58c8"/><circle cx="307.07" cy="338.9" r="0.32" fill="#4a58c8"/><circle cx="322.59" cy="354.35" r="0.32" fill="#7a80d8"/><circle cx="311.25" cy="339.67" r="0.37" fill="#2838b8"/><circle cx="326.4" cy="339.82" r="0.36" fill="#7a80d8"/><circle cx="334.06" cy="338.01" r="0.39" fill="#3445c0"/><circle cx="331.88" cy="337.64" r="0.42" fill="#2838b8"/><circle cx="301.25" cy="341.81" r="0.32" fill="#6068d0"/><circle cx="322.82" cy="339.75" r="0.49" fill="#7a80d8"/><circle cx="355.52" cy="339.99" r="0.43" fill="#3445c0"/><circle cx="310.75" cy="344.98" r="0.36" fill="#6068d0"/><circle cx="336.11" cy="341.96" r="0.32" fill="#3445c0"/><circle cx="316.19" cy="346.93" r="0.38" fill="#7a80d8"/><circle cx="340.22" cy="343.34" r="0.32" fill="#7a80d8"/><circle cx="339.09" cy="357.6" r="0.43" fill="#3445c0"/><circle cx="310.25" cy="350.9" r="0.4" fill="#3445c0"/><circle cx="325.9" cy="343.75" r="0.44" fill="#6068d0"/><circle cx="329.95" cy="344.37" r="0.37" fill="#7a80d8"/><circle cx="329.6" cy="354.7" r="0.41" fill="#6068d0"/><circle cx="322.18" cy="348.05" r="0.37" fill="#3445c0"/><circle cx="324.89" cy="337.14" r="0.45" fill="#3445c0"/><circle cx="321.42" cy="345.04" r="0.48" fill="#2838b8"/><circle cx="351.02" cy="349.23" r="0.34" fill="#7a80d8"/><circle cx="323.11" cy="352.1" r="0.3" fill="#6068d0"/><circle cx="316.17" cy="341.13" r="0.35" fill="#3445c0"/><circle cx="333.98" cy="342.74" r="0.44" fill="#7a80d8"/><circle cx="343.93" cy="340.07" r="0.36" fill="#4a58c8"/><circle cx="314.84" cy="335.74" r="0.36" fill="#2838b8"/><circle cx="314.58" cy="352.34" r="0.35" fill="#2838b8"/><circle cx="331.16" cy="333.36" r="0.44" fill="#4a58c8"/><circle cx="332.55" cy="351.74" r="0.46" fill="#3445c0"/><circle cx="332.44" cy="350.42" r="0.33" fill="#3445c0"/><circle cx="328.27" cy="345.81" r="0.41" fill="#4a58c8"/><circle cx="349.38" cy="342.97" r="0.45" fill="#7a80d8"/><circle cx="331.74" cy="344.06" r="0.39" fill="#4a58c8"/><circle cx="295.54" cy="342.15" r="0.5" fill="#6068d0"/><circle cx="306.97" cy="348.15" r="0.43" fill="#6068d0"/><circle cx="315.06" cy="340.47" r="0.44" fill="#4a58c8"/><circle cx="335.96" cy="343.34" r="0.45" fill="#4a58c8"/><circle cx="309.64" cy="337.72" r="0.49" fill="#3445c0"/><circle cx="321.94" cy="346.15" r="0.3" fill="#3445c0"/><circle cx="330.11" cy="339.65" r="0.33" fill="#2838b8"/><circle cx="320.05" cy="339.54" r="0.43" fill="#4a58c8"/><circle cx="313.17" cy="351.8" r="0.41" fill="#2838b8"/><circle cx="309.24" cy="354.94" r="0.33" fill="#2838b8"/><circle cx="342.2" cy="346.32" r="0.33" fill="#4a58c8"/><circle cx="300.8" cy="353.98" r="0.4" fill="#4a58c8"/><circle cx="317.84" cy="339.06" r="0.31" fill="#6068d0"/><circle cx="362.3" cy="338.2" r="0.47" fill="#4a58c8"/><circle cx="350.42" cy="342.38" r="0.38" fill="#4a58c8"/><circle cx="308.87" cy="350" r="0.45" fill="#2838b8"/><circle cx="348.43" cy="338.14" r="0.4" fill="#4a58c8"/><circle cx="318.57" cy="343.08" r="0.48" fill="#6068d0"/><circle cx="300.88" cy="340.75" r="0.4" fill="#7a80d8"/><circle cx="331.74" cy="336.16" r="0.33" fill="#2838b8"/><circle cx="328.3" cy="336.1" r="0.34" fill="#4a58c8"/><circle cx="325.34" cy="334.14" r="0.3" fill="#3445c0"/><circle cx="332.09" cy="346.2" r="0.36" fill="#7a80d8"/><circle cx="334.65" cy="343.76" r="0.31" fill="#4a58c8"/><circle cx="354.32" cy="338.01" r="0.4" fill="#4a58c8"/><circle cx="320.65" cy="343.01" r="0.4" fill="#6068d0"/><circle cx="317.71" cy="348.01" r="0.43" fill="#2838b8"/><circle cx="332.86" cy="351.08" r="0.34" fill="#3445c0"/><circle cx="310.72" cy="344.37" r="0.42" fill="#3445c0"/><circle cx="315" cy="348.66" r="0.49" fill="#4a58c8"/><circle cx="311.37" cy="341.56" r="0.34" fill="#7a80d8"/><circle cx="338.44" cy="329.76" r="0.48" fill="#2838b8"/><circle cx="335.54" cy="353.51" r="0.3" fill="#4a58c8"/><circle cx="329.77" cy="341.54" r="0.34" fill="#6068d0"/><circle cx="302.74" cy="341.43" r="0.33" fill="#6068d0"/><circle cx="322.59" cy="337.3" r="0.38" fill="#3445c0"/><circle cx="327.9" cy="344.39" r="0.48" fill="#2838b8"/><circle cx="314.78" cy="343.64" r="0.45" fill="#2838b8"/><circle cx="317.92" cy="342.02" r="0.33" fill="#6068d0"/><circle cx="331.16" cy="340.4" r="0.33" fill="#6068d0"/><circle cx="330.43" cy="342.21" r="0.46" fill="#7a80d8"/><circle cx="323.96" cy="332" r="0.5" fill="#6068d0"/><circle cx="301.29" cy="338.75" r="0.31" fill="#4a58c8"/><circle cx="306.21" cy="348.11" r="0.37" fill="#3445c0"/><circle cx="312.47" cy="343.31" r="0.48" fill="#4a58c8"/><circle cx="325.81" cy="334.2" r="0.32" fill="#3445c0"/><circle cx="333.71" cy="354.47" r="0.31" fill="#7a80d8"/><circle cx="334.47" cy="345.3" r="0.44" fill="#4a58c8"/><circle cx="301.99" cy="352.53" r="0.4" fill="#3445c0"/><circle cx="337.42" cy="351.55" r="0.45" fill="#7a80d8"/><circle cx="338.54" cy="335.18" r="0.44" fill="#4a58c8"/><circle cx="316.49" cy="347.5" r="0.33" fill="#7a80d8"/><circle cx="338.88" cy="341.72" r="0.46" fill="#2838b8"/><circle cx="336.24" cy="338.99" r="0.4" fill="#7a80d8"/><circle cx="349.8" cy="343.86" r="0.39" fill="#4a58c8"/><circle cx="321.33" cy="348.11" r="0.36" fill="#3445c0"/><circle cx="321.34" cy="335.82" r="0.48" fill="#2838b8"/><circle cx="325.81" cy="347.66" r="0.47" fill="#7a80d8"/><circle cx="294.83" cy="329.34" r="0.41" fill="#2838b8"/><circle cx="309.88" cy="341.22" r="0.4" fill="#4a58c8"/><circle cx="324.1" cy="348.5" r="0.35" fill="#7a80d8"/><circle cx="310" cy="342.86" r="0.43" fill="#2838b8"/><circle cx="331.34" cy="351.44" r="0.37" fill="#2838b8"/><circle cx="330.75" cy="349.75" r="0.34" fill="#7a80d8"/><circle cx="333.63" cy="346.87" r="0.49" fill="#6068d0"/><circle cx="316.74" cy="344.45" r="0.42" fill="#7a80d8"/><circle cx="319.26" cy="339.66" r="0.42" fill="#2838b8"/><circle cx="342.14" cy="346.35" r="0.5" fill="#3445c0"/><circle cx="325.02" cy="351.71" r="0.39" fill="#4a58c8"/><circle cx="344.96" cy="353.66" r="0.4" fill="#7a80d8"/><circle cx="347.33" cy="345.67" r="0.31" fill="#6068d0"/><circle cx="307.72" cy="339.31" r="0.31" fill="#3445c0"/><circle cx="321.91" cy="346.99" r="0.45" fill="#2838b8"/><circle cx="317.09" cy="342.94" r="0.32" fill="#4a58c8"/><circle cx="303.93" cy="333.78" r="0.45" fill="#6068d0"/><circle cx="309.99" cy="350.32" r="0.49" fill="#7a80d8"/><circle cx="310.29" cy="339.18" r="0.47" fill="#3445c0"/><circle cx="352.32" cy="339.92" r="0.42" fill="#2838b8"/><circle cx="326.36" cy="347.61" r="0.39" fill="#4a58c8"/><circle cx="322.53" cy="342.22" r="0.32" fill="#2838b8"/><circle cx="328.27" cy="350.54" r="0.37" fill="#2838b8"/><circle cx="305.22" cy="345.77" r="0.46" fill="#3445c0"/><circle cx="299.96" cy="337.24" r="0.46" fill="#2838b8"/><circle cx="298.32" cy="341.72" r="0.36" fill="#7a80d8"/><circle cx="308.16" cy="344.49" r="0.36" fill="#7a80d8"/><circle cx="336.23" cy="344.4" r="0.41" fill="#7a80d8"/><circle cx="328.26" cy="337.53" r="0.37" fill="#6068d0"/><circle cx="311.66" cy="342.79" r="0.31" fill="#4a58c8"/><circle cx="326.26" cy="339.13" r="0.34" fill="#7a80d8"/><circle cx="335.61" cy="340.85" r="0.31" fill="#2838b8"/><circle cx="303.63" cy="341.7" r="0.45" fill="#2838b8"/><circle cx="342.83" cy="347.96" r="0.42" fill="#2838b8"/><circle cx="306.81" cy="338.98" r="0.3" fill="#2838b8"/><circle cx="328.74" cy="344.39" r="0.31" fill="#6068d0"/><circle cx="334.91" cy="342.03" r="0.32" fill="#7a80d8"/><circle cx="320.37" cy="340.74" r="0.33" fill="#2838b8"/><circle cx="340.74" cy="358.61" r="0.5" fill="#4a58c8"/><circle cx="327.88" cy="343.86" r="0.44" fill="#7a80d8"/><circle cx="330.87" cy="334.14" r="0.42" fill="#6068d0"/><circle cx="305.17" cy="349.74" r="0.36" fill="#2838b8"/><circle cx="333.88" cy="338.96" r="0.3" fill="#3445c0"/><circle cx="310.72" cy="339.87" r="0.31" fill="#3445c0"/><circle cx="342.49" cy="342.72" r="0.5" fill="#3445c0"/><circle cx="319.89" cy="334.97" r="0.33" fill="#2838b8"/><circle cx="328.27" cy="335.69" r="0.32" fill="#4a58c8"/><circle cx="349.82" cy="346.54" r="0.35" fill="#7a80d8"/><circle cx="308.8" cy="346.93" r="0.42" fill="#7a80d8"/><circle cx="323.43" cy="351.79" r="0.42" fill="#3445c0"/><circle cx="319.73" cy="344.16" r="0.42" fill="#6068d0"/><circle cx="307.41" cy="344.54" r="0.48" fill="#3445c0"/><circle cx="349.04" cy="344.35" r="0.41" fill="#6068d0"/><circle cx="311.56" cy="342.84" r="0.34" fill="#2838b8"/><circle cx="334.97" cy="341.33" r="0.34" fill="#6068d0"/><circle cx="319.41" cy="345.15" r="0.36" fill="#3445c0"/><circle cx="324.07" cy="344.99" r="0.43" fill="#4a58c8"/><circle cx="323.11" cy="345.37" r="0.42" fill="#6068d0"/><circle cx="316.22" cy="338.44" r="0.39" fill="#2838b8"/><circle cx="332.85" cy="346.01" r="0.36" fill="#2838b8"/><circle cx="330.33" cy="350.48" r="0.37" fill="#6068d0"/><circle cx="330.47" cy="341.9" r="0.31" fill="#3445c0"/><circle cx="313.81" cy="340.72" r="0.48" fill="#7a80d8"/><circle cx="326.03" cy="349.28" r="0.47" fill="#4a58c8"/><circle cx="329.33" cy="351.08" r="0.44" fill="#4a58c8"/><circle cx="349.83" cy="334.28" r="0.48" fill="#7a80d8"/><circle cx="295.97" cy="343.95" r="0.33" fill="#3445c0"/><circle cx="327.52" cy="349.13" r="0.4" fill="#6068d0"/><circle cx="316.3" cy="346.07" r="0.47" fill="#3445c0"/><circle cx="311.86" cy="340.35" r="0.45" fill="#4a58c8"/><circle cx="337.45" cy="335.98" r="0.39" fill="#2838b8"/><circle cx="330.36" cy="342.3" r="0.39" fill="#6068d0"/><circle cx="319.99" cy="340.18" r="0.5" fill="#3445c0"/><circle cx="310.18" cy="342.49" r="0.4" fill="#3445c0"/><circle cx="334.65" cy="343.76" r="0.46" fill="#4a58c8"/><circle cx="315.78" cy="343.7" r="0.42" fill="#4a58c8"/><circle cx="327.47" cy="324.83" r="0.34" fill="#6068d0"/><circle cx="306.93" cy="340.27" r="0.33" fill="#7a80d8"/><circle cx="319.15" cy="346.98" r="0.44" fill="#2838b8"/><circle cx="305.37" cy="331.41" r="0.35" fill="#4a58c8"/><circle cx="321.59" cy="334.36" r="0.42" fill="#2838b8"/><circle cx="326.69" cy="341.79" r="0.39" fill="#4a58c8"/><circle cx="306.51" cy="341" r="0.39" fill="#2838b8"/><circle cx="344.83" cy="337.88" r="0.34" fill="#6068d0"/><circle cx="298.39" cy="346" r="0.4" fill="#3445c0"/><circle cx="338.12" cy="344.32" r="0.49" fill="#7a80d8"/><circle cx="328.9" cy="346.14" r="0.47" fill="#4a58c8"/><circle cx="319.89" cy="341.39" r="0.33" fill="#6068d0"/><circle cx="314.41" cy="341.93" r="0.32" fill="#3445c0"/><circle cx="296.91" cy="343.4" r="0.46" fill="#2838b8"/><circle cx="336.85" cy="345.76" r="0.43" fill="#2838b8"/><circle cx="327.58" cy="354.79" r="0.47" fill="#3445c0"/><circle cx="333.84" cy="340.89" r="0.31" fill="#4a58c8"/><circle cx="335.15" cy="344.03" r="0.48" fill="#6068d0"/><circle cx="324.53" cy="344.64" r="0.48" fill="#3445c0"/><circle cx="347.1" cy="347.61" r="0.47" fill="#6068d0"/><circle cx="308.53" cy="349.04" r="0.35" fill="#2838b8"/><circle cx="353.13" cy="354.57" r="0.46" fill="#7a80d8"/><circle cx="303.52" cy="345.52" r="0.45" fill="#7a80d8"/><circle cx="326.69" cy="333.14" r="0.4" fill="#4a58c8"/><circle cx="296.54" cy="351.45" r="0.43" fill="#2838b8"/><circle cx="333.01" cy="346.35" r="0.34" fill="#7a80d8"/><circle cx="314.32" cy="341.47" r="0.37" fill="#4a58c8"/><circle cx="322.38" cy="346.07" r="0.47" fill="#6068d0"/><circle cx="316.48" cy="342.06" r="0.39" fill="#2838b8"/><circle cx="344.04" cy="340.31" r="0.36" fill="#3445c0"/><circle cx="348.68" cy="344.35" r="0.5" fill="#6068d0"/><circle cx="307.91" cy="346.54" r="0.44" fill="#6068d0"/><circle cx="321.32" cy="346.19" r="0.39" fill="#7a80d8"/><circle cx="316.49" cy="341.32" r="0.48" fill="#2838b8"/><circle cx="323.28" cy="337.85" r="0.45" fill="#2838b8"/><circle cx="325.58" cy="340.96" r="0.34" fill="#7a80d8"/><circle cx="329.7" cy="339.97" r="0.43" fill="#3445c0"/><circle cx="335.69" cy="336.78" r="0.33" fill="#3445c0"/><circle cx="325.47" cy="349.48" r="0.45" fill="#6068d0"/><circle cx="350.79" cy="345.32" r="0.43" fill="#4a58c8"/><circle cx="296.31" cy="332.1" r="0.4" fill="#4a58c8"/><circle cx="319.17" cy="345.55" r="0.48" fill="#6068d0"/><circle cx="342.96" cy="334.38" r="0.49" fill="#6068d0"/><circle cx="296.78" cy="350.75" r="0.32" fill="#2838b8"/></g>
<ellipse cx="340" cy="343" rx="15" ry="7" fill="url(#blueC)" opacity="0.7"/>
<ellipse cx="311" cy="342.3" rx="10" ry="7.5" fill="url(#hotJL)"/>
<ellipse cx="330" cy="341.5" rx="9.5" ry="7" fill="url(#hotJR)"/>
<rect x="297.5" y="332.3" width="58.2" height="19.5" fill="none" stroke="#444" stroke-width="0.6"/>
<line x1="322.2" y1="332.3" x2="322.2" y2="351.8" stroke="#222" stroke-width="1"/>
<line x1="294.5" y1="314.6" x2="294.5" y2="383" stroke="#666" stroke-width="0.7"/>
<text x="299.5" y="325.4" font-size="2.6" textLength="17.7" lengthAdjust="spacingAndGlyphs" fill="#555">RFP- CD119+</text>
<text x="305.5" y="329.3" font-size="2.6" textLength="6" lengthAdjust="spacingAndGlyphs" fill="#555">44.5</text>
<text x="327.2" y="325.4" font-size="2.6" textLength="20" lengthAdjust="spacingAndGlyphs" fill="#555">RFP+ CD119+</text>
<text x="334" y="329.3" font-size="2.6" textLength="6" lengthAdjust="spacingAndGlyphs" fill="#555">45.7</text>
<text x="286.8" y="349.1" font-size="9.6" text-anchor="middle" textLength="26" lengthAdjust="spacingAndGlyphs" transform="rotate(-90 286.8 349.1)">IFN-γR1</text>
<text x="321.3" y="395" font-size="9.4" textLength="13.2" lengthAdjust="spacingAndGlyphs">RFP</text>
<line x1="403.2" y1="311.5" x2="403.2" y2="383.8" stroke="#222" stroke-width="1"/>
<line x1="400.7" y1="383.4" x2="403.2" y2="383.4" stroke="#222" stroke-width="1"/>
<text x="397.6" y="385.99" font-size="7.2" text-anchor="end" textLength="3.6" lengthAdjust="spacingAndGlyphs" stroke="#222" stroke-width="0.15">0</text>
<line x1="400.7" y1="365.85" x2="403.2" y2="365.85" stroke="#222" stroke-width="1"/>
<text x="397.6" y="368.44" font-size="7.2" text-anchor="end" textLength="3.6" lengthAdjust="spacingAndGlyphs" stroke="#222" stroke-width="0.15">2</text>
<line x1="400.7" y1="348.3" x2="403.2" y2="348.3" stroke="#222" stroke-width="1"/>
<text x="397.6" y="350.89" font-size="7.2" text-anchor="end" textLength="3.6" lengthAdjust="spacingAndGlyphs" stroke="#222" stroke-width="0.15">4</text>
<line x1="400.7" y1="330.75" x2="403.2" y2="330.75" stroke="#222" stroke-width="1"/>
<text x="397.6" y="333.34" font-size="7.2" text-anchor="end" textLength="3.6" lengthAdjust="spacingAndGlyphs" stroke="#222" stroke-width="0.15">6</text>
<line x1="400.7" y1="313.2" x2="403.2" y2="313.2" stroke="#222" stroke-width="1"/>
<text x="397.6" y="315.79" font-size="7.2" text-anchor="end" textLength="3.6" lengthAdjust="spacingAndGlyphs" stroke="#222" stroke-width="0.15">8</text>
<rect x="406.7" y="382.96" width="6.6" height="0.44" fill="#c9c9c9"/>
<circle cx="408.7" cy="382.52" r="1.05" fill="#111"/>
<circle cx="410" cy="382.52" r="1.05" fill="#111"/>
<circle cx="411.3" cy="382.52" r="1.05" fill="#111"/>
<rect x="415.9" y="382.52" width="6.6" height="0.88" fill="#e0157b"/>
<circle cx="417.25" cy="382.08" r="1.05" fill="#111"/>
<circle cx="418.55" cy="382.52" r="1.05" fill="#111"/>
<circle cx="419.85" cy="381.64" r="1.05" fill="#111"/>
<circle cx="421.15" cy="382.96" r="1.05" fill="#111"/>
<rect x="434.1" y="354.71" width="6.6" height="28.69" fill="#c9c9c9"/>
<line x1="437.4" y1="336.63" x2="437.4" y2="354.71" stroke="#3a3a3a" stroke-width="1"/>
<line x1="436.1" y1="336.63" x2="438.7" y2="336.63" stroke="#3a3a3a" stroke-width="1"/>
<circle cx="435.45" cy="336.89" r="1.05" fill="#111"/>
<circle cx="436.75" cy="354.44" r="1.05" fill="#111"/>
<circle cx="438.05" cy="369.36" r="1.05" fill="#111"/>
<circle cx="439.35" cy="372.87" r="1.05" fill="#111"/>
<rect x="443.3" y="358.3" width="6.6" height="25.1" fill="#e0157b"/>
<line x1="446.6" y1="331.36" x2="446.6" y2="358.3" stroke="#3a3a3a" stroke-width="1"/>
<line x1="445.3" y1="331.36" x2="447.9" y2="331.36" stroke="#3a3a3a" stroke-width="1"/>
<circle cx="444.65" cy="331.63" r="1.05" fill="#111"/>
<circle cx="445.95" cy="357.07" r="1.05" fill="#111"/>
<circle cx="447.25" cy="367.6" r="1.05" fill="#111"/>
<circle cx="448.55" cy="373.75" r="1.05" fill="#111"/>
<rect x="461.4" y="376.73" width="6.6" height="6.67" fill="#c9c9c9"/>
<line x1="464.7" y1="375.94" x2="464.7" y2="376.73" stroke="#3a3a3a" stroke-width="1"/>
<line x1="463.4" y1="375.94" x2="466" y2="375.94" stroke="#3a3a3a" stroke-width="1"/>
<circle cx="462.75" cy="376.38" r="1.05" fill="#111"/>
<circle cx="464.05" cy="377.26" r="1.05" fill="#111"/>
<circle cx="465.35" cy="379.01" r="1.05" fill="#111"/>
<circle cx="466.65" cy="379.89" r="1.05" fill="#111"/>
<rect x="470.6" y="375.85" width="6.6" height="7.55" fill="#e0157b"/>
<line x1="473.9" y1="374.62" x2="473.9" y2="375.85" stroke="#3a3a3a" stroke-width="1"/>
<line x1="472.6" y1="374.62" x2="475.2" y2="374.62" stroke="#3a3a3a" stroke-width="1"/>
<circle cx="472.6" cy="374.62" r="1.05" fill="#111"/>
<circle cx="473.9" cy="376.38" r="1.05" fill="#111"/>
<circle cx="475.2" cy="378.13" r="1.05" fill="#111"/>
<rect x="489.1" y="353.3" width="6.6" height="30.1" fill="#c9c9c9"/>
<line x1="492.4" y1="339.52" x2="492.4" y2="353.3" stroke="#3a3a3a" stroke-width="1"/>
<line x1="491.1" y1="339.52" x2="493.7" y2="339.52" stroke="#3a3a3a" stroke-width="1"/>
<circle cx="490.45" cy="334.26" r="1.05" fill="#111"/>
<circle cx="491.75" cy="351.81" r="1.05" fill="#111"/>
<circle cx="493.05" cy="355.32" r="1.05" fill="#111"/>
<circle cx="494.35" cy="357.95" r="1.05" fill="#111"/>
<rect x="498.3" y="348.3" width="6.6" height="35.1" fill="#e0157b"/>
<line x1="501.6" y1="339.52" x2="501.6" y2="348.3" stroke="#3a3a3a" stroke-width="1"/>
<line x1="500.3" y1="339.52" x2="502.9" y2="339.52" stroke="#3a3a3a" stroke-width="1"/>
<circle cx="499.65" cy="336.01" r="1.05" fill="#111"/>
<circle cx="500.95" cy="343.91" r="1.05" fill="#111"/>
<circle cx="502.25" cy="355.32" r="1.05" fill="#111"/>
<circle cx="503.55" cy="357.07" r="1.05" fill="#111"/>
<line x1="403.2" y1="383.4" x2="514" y2="383.4" stroke="#222" stroke-width="1"/>
<line x1="414.6" y1="383.4" x2="414.6" y2="385.9" stroke="#222" stroke-width="1"/>
<line x1="442" y1="383.4" x2="442" y2="385.9" stroke="#222" stroke-width="1"/>
<line x1="469.3" y1="383.4" x2="469.3" y2="385.9" stroke="#222" stroke-width="1"/>
<line x1="497" y1="383.4" x2="497" y2="385.9" stroke="#222" stroke-width="1"/>
<rect x="407.2" y="312.8" width="6.2" height="6.2" fill="#c9c9c9"/>
<text x="416.3" y="318.42" font-size="7" textLength="47.1" lengthAdjust="spacingAndGlyphs" stroke="#222" stroke-width="0.15">Wild type (RFP-)</text>
<rect x="407.2" y="322.2" width="6.2" height="6.2" fill="#e0157b"/>
<text x="416.3" y="327.82" font-size="7" textLength="57.5" lengthAdjust="spacingAndGlyphs" stroke="#222" stroke-width="0.15">β-actin KO (RFP+)</text>
<text x="388.5" y="347.65" font-size="8.8" text-anchor="middle" textLength="66.5" lengthAdjust="spacingAndGlyphs" stroke="#222" stroke-width="0.15" transform="rotate(-90 388.5 347.65)">MHC-II rMFI (×10<tspan dy="-3" font-size="5.8">2</tspan><tspan dy="3">)</tspan></text>
<text x="401.4" y="396" font-size="8.2" textLength="26.2" lengthAdjust="spacingAndGlyphs" stroke="#222" stroke-width="0.15">Vehicle</text>
<text x="433" y="396" font-size="8.2" textLength="17" lengthAdjust="spacingAndGlyphs" stroke="#222" stroke-width="0.15">IFNγ</text>
<text x="457.4" y="396" font-size="8.2" textLength="22.4" lengthAdjust="spacingAndGlyphs" stroke="#222" stroke-width="0.15">T Cells</text>
<text x="484.2" y="396" font-size="8.2" textLength="24.5" lengthAdjust="spacingAndGlyphs" stroke="#222" stroke-width="0.15">FLZ+T</text>
<text x="169" y="419.5" font-size="10.2" textLength="22.3" lengthAdjust="spacingAndGlyphs">THP1</text>
<line x1="109.2" y1="424.6" x2="252.3" y2="424.6" stroke="#222" stroke-width="1.2"/>
<text x="113.8" y="437.5" font-size="10.5" textLength="7.7" lengthAdjust="spacingAndGlyphs" font-weight="bold" fill="#111">K</text>
<line x1="136.4" y1="445" x2="136.4" y2="516.2" stroke="#222" stroke-width="1"/>
<line x1="133.4" y1="515.8" x2="136.4" y2="515.8" stroke="#222" stroke-width="1"/>
<text x="130.7" y="518.54" font-size="7.6" text-anchor="end" textLength="4.5" lengthAdjust="spacingAndGlyphs" stroke="#222" stroke-width="0.15">0</text>
<line x1="133.4" y1="501.94" x2="136.4" y2="501.94" stroke="#222" stroke-width="1"/>
<text x="130.7" y="504.68" font-size="7.6" text-anchor="end" textLength="4.5" lengthAdjust="spacingAndGlyphs" stroke="#222" stroke-width="0.15">1</text>
<line x1="133.4" y1="488.08" x2="136.4" y2="488.08" stroke="#222" stroke-width="1"/>
<text x="130.7" y="490.82" font-size="7.6" text-anchor="end" textLength="4.5" lengthAdjust="spacingAndGlyphs" stroke="#222" stroke-width="0.15">2</text>
<line x1="133.4" y1="474.22" x2="136.4" y2="474.22" stroke="#222" stroke-width="1"/>
<text x="130.7" y="476.96" font-size="7.6" text-anchor="end" textLength="4.5" lengthAdjust="spacingAndGlyphs" stroke="#222" stroke-width="0.15">3</text>
<line x1="133.4" y1="460.36" x2="136.4" y2="460.36" stroke="#222" stroke-width="1"/>
<text x="130.7" y="463.1" font-size="7.6" text-anchor="end" textLength="4.5" lengthAdjust="spacingAndGlyphs" stroke="#222" stroke-width="0.15">4</text>
<line x1="133.4" y1="446.5" x2="136.4" y2="446.5" stroke="#222" stroke-width="1"/>
<text x="130.7" y="449.24" font-size="7.6" text-anchor="end" textLength="4.5" lengthAdjust="spacingAndGlyphs" stroke="#222" stroke-width="0.15">5</text>
<rect x="139.5" y="515.52" width="4.8" height="0.28" fill="#c8102e"/>
<circle cx="140.6" cy="515.38" r="1.05" fill="#111"/>
<circle cx="141.9" cy="515.38" r="1.05" fill="#111"/>
<circle cx="143.2" cy="515.38" r="1.05" fill="#111"/>
<rect x="147.6" y="515.38" width="4.8" height="0.42" fill="#f39a2b"/>
<circle cx="148.7" cy="515.38" r="1.05" fill="#111"/>
<circle cx="150" cy="515.38" r="1.05" fill="#111"/>
<circle cx="151.3" cy="515.38" r="1.05" fill="#111"/>
<rect x="155.7" y="515.52" width="4.8" height="0.28" fill="#8e8fd0"/>
<circle cx="156.8" cy="515.38" r="1.05" fill="#111"/>
<circle cx="158.1" cy="515.38" r="1.05" fill="#111"/>
<circle cx="159.4" cy="515.38" r="1.05" fill="#111"/>
<rect x="169.3" y="500.55" width="4.8" height="15.25" fill="#c8102e"/>
<line x1="171.7" y1="490.16" x2="171.7" y2="500.55" stroke="#3a3a3a" stroke-width="1"/>
<line x1="170.4" y1="490.16" x2="173" y2="490.16" stroke="#3a3a3a" stroke-width="1"/>
<circle cx="169.75" cy="489.47" r="1.05" fill="#111"/>
<circle cx="171.05" cy="491.54" r="1.05" fill="#111"/>
<circle cx="172.35" cy="508.18" r="1.05" fill="#111"/>
<circle cx="173.65" cy="509.56" r="1.05" fill="#111"/>
<rect x="177.4" y="515.38" width="4.8" height="0.42" fill="#f39a2b"/>
<circle cx="178.5" cy="515.38" r="1.05" fill="#111"/>
<circle cx="179.8" cy="515.38" r="1.05" fill="#111"/>
<circle cx="181.1" cy="515.38" r="1.05" fill="#111"/>
<rect x="185.5" y="515.52" width="4.8" height="0.28" fill="#8e8fd0"/>
<circle cx="186.6" cy="515.38" r="1.05" fill="#111"/>
<circle cx="187.9" cy="515.38" r="1.05" fill="#111"/>
<circle cx="189.2" cy="515.38" r="1.05" fill="#111"/>
<rect x="199" y="515.38" width="4.8" height="0.42" fill="#c8102e"/>
<circle cx="200.1" cy="515.38" r="1.05" fill="#111"/>
<circle cx="201.4" cy="515.38" r="1.05" fill="#111"/>
<circle cx="202.7" cy="515.38" r="1.05" fill="#111"/>
<rect x="207.1" y="515.11" width="4.8" height="0.69" fill="#f39a2b"/>
<circle cx="208.2" cy="515.38" r="1.05" fill="#111"/>
<circle cx="209.5" cy="515.38" r="1.05" fill="#111"/>
<circle cx="210.8" cy="515.38" r="1.05" fill="#111"/>
<rect x="215.2" y="515.52" width="4.8" height="0.28" fill="#8e8fd0"/>
<circle cx="216.3" cy="515.38" r="1.05" fill="#111"/>
<circle cx="217.6" cy="515.38" r="1.05" fill="#111"/>
<circle cx="218.9" cy="515.38" r="1.05" fill="#111"/>
<rect x="228.8" y="481.84" width="4.8" height="33.96" fill="#c8102e"/>
<line x1="231.2" y1="462.44" x2="231.2" y2="481.84" stroke="#3a3a3a" stroke-width="1"/>
<line x1="229.9" y1="462.44" x2="232.5" y2="462.44" stroke="#3a3a3a" stroke-width="1"/>
<circle cx="229.25" cy="463.13" r="1.05" fill="#111"/>
<circle cx="230.55" cy="466.6" r="1.05" fill="#111"/>
<circle cx="231.85" cy="485.31" r="1.05" fill="#111"/>
<circle cx="233.15" cy="505.4" r="1.05" fill="#111"/>
<rect x="236.9" y="512.75" width="4.8" height="3.05" fill="#f39a2b"/>
<line x1="239.3" y1="511.64" x2="239.3" y2="512.75" stroke="#3a3a3a" stroke-width="1"/>
<line x1="238" y1="511.64" x2="240.6" y2="511.64" stroke="#3a3a3a" stroke-width="1"/>
<circle cx="238" cy="511.92" r="1.05" fill="#111"/>
<circle cx="239.3" cy="512.75" r="1.05" fill="#111"/>
<circle cx="240.6" cy="513.72" r="1.05" fill="#111"/>
<rect x="245" y="513.72" width="4.8" height="2.08" fill="#8e8fd0"/>
<line x1="247.4" y1="512.33" x2="247.4" y2="513.72" stroke="#3a3a3a" stroke-width="1"/>
<line x1="246.1" y1="512.33" x2="248.7" y2="512.33" stroke="#3a3a3a" stroke-width="1"/>
<circle cx="246.1" cy="512.75" r="1.05" fill="#111"/>
<circle cx="247.4" cy="513.72" r="1.05" fill="#111"/>
<circle cx="248.7" cy="514.41" r="1.05" fill="#111"/>
<line x1="136.2" y1="515.8" x2="252.7" y2="515.8" stroke="#222" stroke-width="1"/>
<line x1="150" y1="515.8" x2="150" y2="518.3" stroke="#222" stroke-width="1"/>
<line x1="179.8" y1="515.8" x2="179.8" y2="518.3" stroke="#222" stroke-width="1"/>
<line x1="209.5" y1="515.8" x2="209.5" y2="518.3" stroke="#222" stroke-width="1"/>
<line x1="239.3" y1="515.8" x2="239.3" y2="518.3" stroke="#222" stroke-width="1"/>
<line x1="172.3" y1="476.9" x2="186.9" y2="476.9" stroke="#1e1e1e" stroke-width="1"/>
<circle cx="179.6" cy="473.9" r="0.85" fill="#111"/>
<line x1="172.3" y1="481.2" x2="180" y2="481.2" stroke="#1e1e1e" stroke-width="1"/>
<circle cx="176.15" cy="478.2" r="0.85" fill="#111"/>
<line x1="230.8" y1="449.5" x2="246.2" y2="449.5" stroke="#1e1e1e" stroke-width="1"/>
<circle cx="237" cy="446.5" r="0.85" fill="#111"/>
<circle cx="240" cy="446.5" r="0.85" fill="#111"/>
<line x1="230.8" y1="455.4" x2="238.5" y2="455.4" stroke="#1e1e1e" stroke-width="1"/>
<circle cx="233.15" cy="452.4" r="0.85" fill="#111"/>
<circle cx="236.15" cy="452.4" r="0.85" fill="#111"/>
<rect x="139.2" y="446.5" width="5.7" height="5.7" fill="#c8102e"/>
<text x="148.2" y="451.69" font-size="6.5" textLength="20.3" lengthAdjust="spacingAndGlyphs" stroke="#222" stroke-width="0.15">Vehicle</text>
<rect x="139.2" y="456" width="5.7" height="5.7" fill="#f39a2b"/>
<text x="148.2" y="461.19" font-size="6.5" textLength="30.3" lengthAdjust="spacingAndGlyphs" stroke="#222" stroke-width="0.15">Ruxolitinib</text>
<rect x="139.2" y="465.4" width="5.7" height="5.7" fill="#8e8fd0"/>
<text x="148.2" y="470.59" font-size="6.5" textLength="29.2" lengthAdjust="spacingAndGlyphs" stroke="#222" stroke-width="0.15">Baricitinib</text>
<text x="120.1" y="481.3" font-size="9.2" text-anchor="middle" textLength="65.2" lengthAdjust="spacingAndGlyphs" transform="rotate(-90 120.1 481.3)">MHC-II rMFI (×10<tspan dy="-3" font-size="5.8">3</tspan><tspan dy="3">)</tspan></text>
<text x="137.4" y="529.4" font-size="8.6" textLength="24.9" lengthAdjust="spacingAndGlyphs" stroke="#222" stroke-width="0.15">Vehicle</text>
<text x="170" y="529.4" font-size="8.6" textLength="16.5" lengthAdjust="spacingAndGlyphs" stroke="#222" stroke-width="0.15">IFNγ</text>
<text x="198.1" y="529.4" font-size="8.6" textLength="23.8" lengthAdjust="spacingAndGlyphs" stroke="#222" stroke-width="0.15">T Cells</text>
<text x="227.8" y="529.4" font-size="8.6" textLength="22.1" lengthAdjust="spacingAndGlyphs" stroke="#222" stroke-width="0.15">FLZ+T</text>
<text x="309.8" y="419.5" font-size="10.2" textLength="55.4" lengthAdjust="spacingAndGlyphs">AML-250167</text>
<line x1="267.7" y1="424.6" x2="408.3" y2="424.6" stroke="#222" stroke-width="1.2"/>
<text x="268.6" y="437.5" font-size="10.5" textLength="5.4" lengthAdjust="spacingAndGlyphs" font-weight="bold" fill="#111">L</text>
<line x1="294" y1="444" x2="294" y2="516.2" stroke="#222" stroke-width="1"/>
<line x1="291" y1="515.8" x2="294" y2="515.8" stroke="#222" stroke-width="1"/>
<text x="288.6" y="518.39" font-size="7.2" text-anchor="end" textLength="4.5" lengthAdjust="spacingAndGlyphs" stroke="#222" stroke-width="0.15">0</text>
<line x1="291" y1="492.33" x2="294" y2="492.33" stroke="#222" stroke-width="1"/>
<text x="288.6" y="494.93" font-size="7.2" text-anchor="end" textLength="9" lengthAdjust="spacingAndGlyphs" stroke="#222" stroke-width="0.15">10</text>
<line x1="291" y1="468.87" x2="294" y2="468.87" stroke="#222" stroke-width="1"/>
<text x="288.6" y="471.46" font-size="7.2" text-anchor="end" textLength="9" lengthAdjust="spacingAndGlyphs" stroke="#222" stroke-width="0.15">20</text>
<line x1="291" y1="445.4" x2="294" y2="445.4" stroke="#222" stroke-width="1"/>
<text x="288.6" y="447.99" font-size="7.2" text-anchor="end" textLength="9" lengthAdjust="spacingAndGlyphs" stroke="#222" stroke-width="0.15">30</text>
<rect x="297.3" y="515.45" width="4.8" height="0.35" fill="#c8102e"/>
<circle cx="298.4" cy="515.33" r="1.05" fill="#111"/>
<circle cx="299.7" cy="515.33" r="1.05" fill="#111"/>
<circle cx="301" cy="515.33" r="1.05" fill="#111"/>
<rect x="305.4" y="515.1" width="4.8" height="0.7" fill="#f39a2b"/>
<circle cx="306.5" cy="515.33" r="1.05" fill="#111"/>
<circle cx="307.8" cy="515.33" r="1.05" fill="#111"/>
<circle cx="309.1" cy="515.33" r="1.05" fill="#111"/>
<rect x="313.5" y="515.45" width="4.8" height="0.35" fill="#8e8fd0"/>
<circle cx="314.6" cy="515.33" r="1.05" fill="#111"/>
<circle cx="315.9" cy="515.33" r="1.05" fill="#111"/>
<circle cx="317.2" cy="515.33" r="1.05" fill="#111"/>
<rect x="327.3" y="488.11" width="4.8" height="27.69" fill="#c8102e"/>
<line x1="329.7" y1="486.23" x2="329.7" y2="488.11" stroke="#3a3a3a" stroke-width="1"/>
<line x1="328.4" y1="486.23" x2="331" y2="486.23" stroke="#3a3a3a" stroke-width="1"/>
<circle cx="329.05" cy="485.53" r="1.05" fill="#111"/>
<circle cx="330.35" cy="488.58" r="1.05" fill="#111"/>
<rect x="335.4" y="515.33" width="4.8" height="0.47" fill="#f39a2b"/>
<circle cx="336.5" cy="515.33" r="1.05" fill="#111"/>
<circle cx="337.8" cy="515.33" r="1.05" fill="#111"/>
<circle cx="339.1" cy="515.33" r="1.05" fill="#111"/>
<rect x="343.5" y="515.45" width="4.8" height="0.35" fill="#8e8fd0"/>
<circle cx="344.6" cy="515.33" r="1.05" fill="#111"/>
<circle cx="345.9" cy="515.33" r="1.05" fill="#111"/>
<circle cx="347.2" cy="515.33" r="1.05" fill="#111"/>
<rect x="357.3" y="515.45" width="4.8" height="0.35" fill="#c8102e"/>
<circle cx="358.4" cy="515.33" r="1.05" fill="#111"/>
<circle cx="359.7" cy="515.33" r="1.05" fill="#111"/>
<circle cx="361" cy="515.33" r="1.05" fill="#111"/>
<rect x="365.4" y="515.33" width="4.8" height="0.47" fill="#f39a2b"/>
<circle cx="366.5" cy="515.33" r="1.05" fill="#111"/>
<circle cx="367.8" cy="515.33" r="1.05" fill="#111"/>
<circle cx="369.1" cy="515.33" r="1.05" fill="#111"/>
<rect x="373.5" y="515.45" width="4.8" height="0.35" fill="#8e8fd0"/>
<circle cx="374.6" cy="515.33" r="1.05" fill="#111"/>
<circle cx="375.9" cy="515.33" r="1.05" fill="#111"/>
<circle cx="377.2" cy="515.33" r="1.05" fill="#111"/>
<rect x="387.3" y="458.31" width="4.8" height="57.49" fill="#c8102e"/>
<line x1="389.7" y1="455.26" x2="389.7" y2="458.31" stroke="#3a3a3a" stroke-width="1"/>
<line x1="388.4" y1="455.26" x2="391" y2="455.26" stroke="#3a3a3a" stroke-width="1"/>
<circle cx="389.05" cy="455.73" r="1.05" fill="#111"/>
<circle cx="390.35" cy="459.01" r="1.05" fill="#111"/>
<rect x="395.4" y="512.98" width="4.8" height="2.82" fill="#f39a2b"/>
<line x1="397.8" y1="512.28" x2="397.8" y2="512.98" stroke="#3a3a3a" stroke-width="1"/>
<line x1="396.5" y1="512.28" x2="399.1" y2="512.28" stroke="#3a3a3a" stroke-width="1"/>
<circle cx="396.5" cy="512.28" r="1.05" fill="#111"/>
<circle cx="397.8" cy="512.98" r="1.05" fill="#111"/>
<circle cx="399.1" cy="513.45" r="1.05" fill="#111"/>
<rect x="403.5" y="513.22" width="4.8" height="2.58" fill="#8e8fd0"/>
<line x1="405.9" y1="512.28" x2="405.9" y2="513.22" stroke="#3a3a3a" stroke-width="1"/>
<line x1="404.6" y1="512.28" x2="407.2" y2="512.28" stroke="#3a3a3a" stroke-width="1"/>
<circle cx="404.6" cy="512.51" r="1.05" fill="#111"/>
<circle cx="405.9" cy="513.22" r="1.05" fill="#111"/>
<circle cx="407.2" cy="513.45" r="1.05" fill="#111"/>
<line x1="293.9" y1="515.8" x2="411" y2="515.8" stroke="#222" stroke-width="1"/>
<line x1="307.8" y1="515.8" x2="307.8" y2="518.3" stroke="#222" stroke-width="1"/>
<line x1="337.8" y1="515.8" x2="337.8" y2="518.3" stroke="#222" stroke-width="1"/>
<line x1="367.8" y1="515.8" x2="367.8" y2="518.3" stroke="#222" stroke-width="1"/>
<line x1="397.8" y1="515.8" x2="397.8" y2="518.3" stroke="#222" stroke-width="1"/>
<line x1="329.6" y1="476.9" x2="345.5" y2="476.9" stroke="#1e1e1e" stroke-width="1"/>
<circle cx="336.05" cy="473.9" r="0.85" fill="#111"/>
<circle cx="339.05" cy="473.9" r="0.85" fill="#111"/>
<line x1="329.6" y1="482.8" x2="337.3" y2="482.8" stroke="#1e1e1e" stroke-width="1"/>
<circle cx="331.95" cy="479.8" r="0.85" fill="#111"/>
<circle cx="334.95" cy="479.8" r="0.85" fill="#111"/>
<line x1="389.6" y1="447.5" x2="404.5" y2="447.5" stroke="#1e1e1e" stroke-width="1"/>
<circle cx="395.55" cy="444.5" r="0.85" fill="#111"/>
<circle cx="398.55" cy="444.5" r="0.85" fill="#111"/>
<line x1="389.6" y1="452.6" x2="396.1" y2="452.6" stroke="#1e1e1e" stroke-width="1"/>
<circle cx="391.35" cy="449.6" r="0.85" fill="#111"/>
<circle cx="394.35" cy="449.6" r="0.85" fill="#111"/>
<rect x="296.5" y="445.8" width="5.5" height="5.5" fill="#c8102e"/>
<text x="305.8" y="450.89" font-size="6.5" textLength="20.4" lengthAdjust="spacingAndGlyphs" stroke="#222" stroke-width="0.15">Vehicle</text>
<rect x="296.5" y="454.9" width="5.5" height="5.5" fill="#f39a2b"/>
<text x="305.8" y="459.99" font-size="6.5" textLength="30.7" lengthAdjust="spacingAndGlyphs" stroke="#222" stroke-width="0.15">Ruxolitinib</text>
<rect x="296.5" y="463.8" width="5.5" height="5.5" fill="#8e8fd0"/>
<text x="305.8" y="468.89" font-size="6.5" textLength="29.2" lengthAdjust="spacingAndGlyphs" stroke="#222" stroke-width="0.15">Baricitinib</text>
<text x="274.3" y="480.3" font-size="8.8" text-anchor="middle" textLength="40.8" lengthAdjust="spacingAndGlyphs" stroke="#222" stroke-width="0.15" transform="rotate(-90 274.3 480.3)">MHC-II rMFI</text>
<text x="295" y="529.4" font-size="8.6" textLength="25.4" lengthAdjust="spacingAndGlyphs" stroke="#222" stroke-width="0.15">Vehicle</text>
<text x="329" y="529.4" font-size="8.6" textLength="16.5" lengthAdjust="spacingAndGlyphs" stroke="#222" stroke-width="0.15">IFNγ</text>
<text x="354.4" y="529.4" font-size="8.6" textLength="25.4" lengthAdjust="spacingAndGlyphs" stroke="#222" stroke-width="0.15">T Cells</text>
<text x="385.7" y="529.4" font-size="8.6" textLength="23.9" lengthAdjust="spacingAndGlyphs" stroke="#222" stroke-width="0.15">FLZ+T</text>
<text x="121.5" y="551.8" font-size="10.2" textLength="23.1" lengthAdjust="spacingAndGlyphs">THP1</text>
<line x1="5" y1="557" x2="261.3" y2="557" stroke="#222" stroke-width="1.2"/>
<text x="5" y="570.2" font-size="10.5" textLength="9.5" lengthAdjust="spacingAndGlyphs" font-weight="bold" fill="#111">M</text>
<line x1="32.6" y1="578" x2="32.6" y2="651.6" stroke="#222" stroke-width="1"/>
<line x1="30.1" y1="651.2" x2="32.6" y2="651.2" stroke="#222" stroke-width="1"/>
<text x="28.6" y="653.58" font-size="6.6" text-anchor="end" textLength="3.4" lengthAdjust="spacingAndGlyphs" stroke="#222" stroke-width="0.15">0</text>
<line x1="30.1" y1="633.3" x2="32.6" y2="633.3" stroke="#222" stroke-width="1"/>
<text x="28.6" y="635.68" font-size="6.6" text-anchor="end" textLength="3.4" lengthAdjust="spacingAndGlyphs" stroke="#222" stroke-width="0.15">3</text>
<line x1="30.1" y1="615.4" x2="32.6" y2="615.4" stroke="#222" stroke-width="1"/>
<text x="28.6" y="617.78" font-size="6.6" text-anchor="end" textLength="3.4" lengthAdjust="spacingAndGlyphs" stroke="#222" stroke-width="0.15">6</text>
<line x1="30.1" y1="597.5" x2="32.6" y2="597.5" stroke="#222" stroke-width="1"/>
<text x="28.6" y="599.88" font-size="6.6" text-anchor="end" textLength="3.4" lengthAdjust="spacingAndGlyphs" stroke="#222" stroke-width="0.15">9</text>
<line x1="30.1" y1="579.6" x2="32.6" y2="579.6" stroke="#222" stroke-width="1"/>
<text x="28.6" y="581.98" font-size="6.6" text-anchor="end" textLength="6.8" lengthAdjust="spacingAndGlyphs" stroke="#222" stroke-width="0.15">12</text>
<rect x="36.2" y="646.25" width="6.2" height="4.95" fill="#a9bf8a"/>
<circle cx="37.35" cy="645.23" r="1.05" fill="#111"/>
<circle cx="38.65" cy="645.83" r="1.05" fill="#111"/>
<circle cx="39.95" cy="646.43" r="1.05" fill="#111"/>
<circle cx="41.25" cy="647.02" r="1.05" fill="#111"/>
<rect x="45.8" y="644.34" width="6.2" height="6.86" fill="#cf6a1c"/>
<circle cx="46.95" cy="644.04" r="1.05" fill="#111"/>
<circle cx="48.25" cy="644.64" r="1.05" fill="#111"/>
<circle cx="49.55" cy="644.94" r="1.05" fill="#111"/>
<circle cx="50.85" cy="645.23" r="1.05" fill="#111"/>
<rect x="62.5" y="610.21" width="6.2" height="40.99" fill="#a9bf8a"/>
<line x1="65.6" y1="607.64" x2="65.6" y2="610.21" stroke="#3a3a3a" stroke-width="1"/>
<line x1="64.3" y1="607.64" x2="66.9" y2="607.64" stroke="#3a3a3a" stroke-width="1"/>
<circle cx="63.65" cy="608.84" r="1.05" fill="#111"/>
<circle cx="64.95" cy="610.03" r="1.05" fill="#111"/>
<circle cx="66.25" cy="613.61" r="1.05" fill="#111"/>
<circle cx="67.55" cy="616" r="1.05" fill="#111"/>
<rect x="72.1" y="640.22" width="6.2" height="10.98" fill="#cf6a1c"/>
<circle cx="73.25" cy="639.57" r="1.05" fill="#111"/>
<circle cx="74.55" cy="640.16" r="1.05" fill="#111"/>
<circle cx="75.85" cy="640.76" r="1.05" fill="#111"/>
<circle cx="77.15" cy="641.06" r="1.05" fill="#111"/>
<rect x="88.35" y="646.25" width="6.2" height="4.95" fill="#a9bf8a"/>
<line x1="91.45" y1="642.85" x2="91.45" y2="646.25" stroke="#3a3a3a" stroke-width="1"/>
<line x1="90.15" y1="642.85" x2="92.75" y2="642.85" stroke="#3a3a3a" stroke-width="1"/>
<circle cx="89.5" cy="642.85" r="1.05" fill="#111"/>
<circle cx="90.8" cy="645.23" r="1.05" fill="#111"/>
<circle cx="92.1" cy="647.62" r="1.05" fill="#111"/>
<circle cx="93.4" cy="646.43" r="1.05" fill="#111"/>
<rect x="97.95" y="643.44" width="6.2" height="7.76" fill="#cf6a1c"/>
<line x1="101.05" y1="642.25" x2="101.05" y2="643.44" stroke="#3a3a3a" stroke-width="1"/>
<line x1="99.75" y1="642.25" x2="102.35" y2="642.25" stroke="#3a3a3a" stroke-width="1"/>
<circle cx="99.1" cy="642.25" r="1.05" fill="#111"/>
<circle cx="100.4" cy="643.44" r="1.05" fill="#111"/>
<circle cx="101.7" cy="644.64" r="1.05" fill="#111"/>
<circle cx="103" cy="645.23" r="1.05" fill="#111"/>
<rect x="114.6" y="607.46" width="6.2" height="43.74" fill="#a9bf8a"/>
<line x1="117.7" y1="599.89" x2="117.7" y2="607.46" stroke="#3a3a3a" stroke-width="1"/>
<line x1="116.4" y1="599.89" x2="119" y2="599.89" stroke="#3a3a3a" stroke-width="1"/>
<circle cx="115.75" cy="597.5" r="1.05" fill="#111"/>
<circle cx="117.05" cy="605.85" r="1.05" fill="#111"/>
<circle cx="118.35" cy="608.24" r="1.05" fill="#111"/>
<circle cx="119.65" cy="609.43" r="1.05" fill="#111"/>
<rect x="124.2" y="630.73" width="6.2" height="20.47" fill="#cf6a1c"/>
<line x1="127.3" y1="624.95" x2="127.3" y2="630.73" stroke="#3a3a3a" stroke-width="1"/>
<line x1="126" y1="624.95" x2="128.6" y2="624.95" stroke="#3a3a3a" stroke-width="1"/>
<circle cx="125.35" cy="623.75" r="1.05" fill="#111"/>
<circle cx="126.65" cy="630.32" r="1.05" fill="#111"/>
<circle cx="127.95" cy="635.09" r="1.05" fill="#111"/>
<circle cx="129.25" cy="632.11" r="1.05" fill="#111"/>
<line x1="32.6" y1="651.2" x2="132" y2="651.2" stroke="#222" stroke-width="1"/>
<line x1="44.1" y1="651.2" x2="44.1" y2="653.7" stroke="#222" stroke-width="1"/>
<line x1="70.4" y1="651.2" x2="70.4" y2="653.7" stroke="#222" stroke-width="1"/>
<line x1="96.25" y1="651.2" x2="96.25" y2="653.7" stroke="#222" stroke-width="1"/>
<line x1="122.5" y1="651.2" x2="122.5" y2="653.7" stroke="#222" stroke-width="1"/>
<line x1="39.8" y1="596.9" x2="74.4" y2="596.9" stroke="#1e1e1e" stroke-width="1"/>
<circle cx="52.6" cy="595.1" r="0.85" fill="#111"/>
<circle cx="55.6" cy="595.1" r="0.85" fill="#111"/>
<circle cx="58.6" cy="595.1" r="0.85" fill="#111"/>
<circle cx="61.6" cy="595.1" r="0.85" fill="#111"/>
<line x1="48.5" y1="602.5" x2="74.4" y2="602.5" stroke="#1e1e1e" stroke-width="1"/>
<circle cx="58.45" cy="599.9" r="0.85" fill="#111"/>
<circle cx="61.45" cy="599.9" r="0.85" fill="#111"/>
<circle cx="64.45" cy="599.9" r="0.85" fill="#111"/>
<line x1="64.6" y1="607.3" x2="74.4" y2="607.3" stroke="#1e1e1e" stroke-width="1"/>
<circle cx="65" cy="604.8" r="0.85" fill="#111"/>
<circle cx="68" cy="604.8" r="0.85" fill="#111"/>
<circle cx="71" cy="604.8" r="0.85" fill="#111"/>
<circle cx="74" cy="604.8" r="0.85" fill="#111"/>
<line x1="91.5" y1="582.1" x2="126.5" y2="582.1" stroke="#1e1e1e" stroke-width="1"/>
<circle cx="107.5" cy="579.1" r="0.85" fill="#111"/>
<circle cx="110.5" cy="579.1" r="0.85" fill="#111"/>
<line x1="101.8" y1="586.7" x2="126.5" y2="586.7" stroke="#1e1e1e" stroke-width="1"/>
<circle cx="112.65" cy="583.7" r="0.85" fill="#111"/>
<circle cx="115.65" cy="583.7" r="0.85" fill="#111"/>
<line x1="117.9" y1="591.5" x2="126.5" y2="591.5" stroke="#1e1e1e" stroke-width="1"/>
<circle cx="120.7" cy="588.5" r="0.85" fill="#111"/>
<circle cx="123.7" cy="588.5" r="0.85" fill="#111"/>
<rect x="36" y="577.8" width="5.6" height="5.6" fill="#a9bf8a"/>
<text x="45.8" y="583.26" font-size="7.4" textLength="24.3" lengthAdjust="spacingAndGlyphs" stroke="#222" stroke-width="0.15">Top well</text>
<rect x="36" y="586.2" width="5.6" height="5.6" fill="#cf6a1c"/>
<text x="45.8" y="591.66" font-size="7.4" textLength="35.5" lengthAdjust="spacingAndGlyphs" stroke="#222" stroke-width="0.15">Bottom well</text>
<text x="14.3" y="616.8" font-size="8.4" text-anchor="middle" textLength="62.2" lengthAdjust="spacingAndGlyphs" stroke="#222" stroke-width="0.15" transform="rotate(-90 14.3 616.8)">MHC-II rMFI (×10<tspan dy="-3" font-size="5.8">3</tspan><tspan dy="3">)</tspan></text>
<text x="32.8" y="663.4" font-size="7.6" textLength="21.6" lengthAdjust="spacingAndGlyphs" stroke="#222" stroke-width="0.15">Vehicle</text>
<text x="62.5" y="663.4" font-size="7.6" textLength="13.4" lengthAdjust="spacingAndGlyphs" stroke="#222" stroke-width="0.15">IFNγ</text>
<text x="86.7" y="663.4" font-size="7.6" textLength="18.8" lengthAdjust="spacingAndGlyphs" stroke="#222" stroke-width="0.15">T Cells</text>
<text x="112.5" y="663.4" font-size="7.6" textLength="19.5" lengthAdjust="spacingAndGlyphs" stroke="#222" stroke-width="0.15">FLZ+T</text>
<text x="143" y="570.2" font-size="10.5" textLength="9" lengthAdjust="spacingAndGlyphs" font-weight="bold" fill="#111">N</text>
<line x1="170.6" y1="578" x2="170.6" y2="651.8" stroke="#222" stroke-width="1"/>
<line x1="168.1" y1="651.4" x2="170.6" y2="651.4" stroke="#222" stroke-width="1"/>
<text x="164.8" y="653.78" font-size="6.6" text-anchor="end" textLength="3.4" lengthAdjust="spacingAndGlyphs" stroke="#222" stroke-width="0.15">0</text>
<line x1="168.1" y1="633.48" x2="170.6" y2="633.48" stroke="#222" stroke-width="1"/>
<text x="164.8" y="635.85" font-size="6.6" text-anchor="end" textLength="3.4" lengthAdjust="spacingAndGlyphs" stroke="#222" stroke-width="0.15">3</text>
<line x1="168.1" y1="615.55" x2="170.6" y2="615.55" stroke="#222" stroke-width="1"/>
<text x="164.8" y="617.93" font-size="6.6" text-anchor="end" textLength="3.4" lengthAdjust="spacingAndGlyphs" stroke="#222" stroke-width="0.15">6</text>
<line x1="168.1" y1="597.62" x2="170.6" y2="597.62" stroke="#222" stroke-width="1"/>
<text x="164.8" y="600" font-size="6.6" text-anchor="end" textLength="3.4" lengthAdjust="spacingAndGlyphs" stroke="#222" stroke-width="0.15">9</text>
<line x1="168.1" y1="579.7" x2="170.6" y2="579.7" stroke="#222" stroke-width="1"/>
<text x="164.8" y="582.08" font-size="6.6" text-anchor="end" textLength="6.8" lengthAdjust="spacingAndGlyphs" stroke="#222" stroke-width="0.15">12</text>
<line x1="183.14" y1="634.67" x2="183.14" y2="644.23" stroke="#333" stroke-width="0.9"/>
<line x1="181.84" y1="634.67" x2="184.44" y2="634.67" stroke="#333" stroke-width="0.9"/>
<line x1="181.84" y1="644.23" x2="184.44" y2="644.23" stroke="#333" stroke-width="0.9"/>
<line x1="195.77" y1="600.61" x2="195.77" y2="629.89" stroke="#333" stroke-width="0.9"/>
<line x1="194.47" y1="600.61" x2="197.07" y2="600.61" stroke="#333" stroke-width="0.9"/>
<line x1="194.47" y1="629.89" x2="197.07" y2="629.89" stroke="#333" stroke-width="0.9"/>
<line x1="208.41" y1="589.86" x2="208.41" y2="629.89" stroke="#333" stroke-width="0.9"/>
<line x1="207.11" y1="589.86" x2="209.71" y2="589.86" stroke="#333" stroke-width="0.9"/>
<line x1="207.11" y1="629.89" x2="209.71" y2="629.89" stroke="#333" stroke-width="0.9"/>
<line x1="221.04" y1="600.01" x2="221.04" y2="629.89" stroke="#333" stroke-width="0.9"/>
<line x1="219.74" y1="600.01" x2="222.34" y2="600.01" stroke="#333" stroke-width="0.9"/>
<line x1="219.74" y1="629.89" x2="222.34" y2="629.89" stroke="#333" stroke-width="0.9"/>
<line x1="195.77" y1="633.48" x2="195.77" y2="648.41" stroke="#333" stroke-width="0.9"/>
<line x1="194.47" y1="633.48" x2="197.07" y2="633.48" stroke="#333" stroke-width="0.9"/>
<line x1="194.47" y1="648.41" x2="197.07" y2="648.41" stroke="#333" stroke-width="0.9"/>
<line x1="208.41" y1="634.07" x2="208.41" y2="647.81" stroke="#333" stroke-width="0.9"/>
<line x1="207.11" y1="634.07" x2="209.71" y2="634.07" stroke="#333" stroke-width="0.9"/>
<line x1="207.11" y1="647.81" x2="209.71" y2="647.81" stroke="#333" stroke-width="0.9"/>
<line x1="221.04" y1="629.29" x2="221.04" y2="647.81" stroke="#333" stroke-width="0.9"/>
<line x1="219.74" y1="629.29" x2="222.34" y2="629.29" stroke="#333" stroke-width="0.9"/>
<line x1="219.74" y1="647.81" x2="222.34" y2="647.81" stroke="#333" stroke-width="0.9"/>
<line x1="183.14" y1="641.84" x2="183.14" y2="649.01" stroke="#333" stroke-width="0.9"/>
<line x1="181.84" y1="641.84" x2="184.44" y2="641.84" stroke="#333" stroke-width="0.9"/>
<line x1="181.84" y1="649.01" x2="184.44" y2="649.01" stroke="#333" stroke-width="0.9"/>
<line x1="221.04" y1="646.62" x2="221.04" y2="650.8" stroke="#333" stroke-width="0.9"/>
<line x1="219.74" y1="646.62" x2="222.34" y2="646.62" stroke="#333" stroke-width="0.9"/>
<line x1="219.74" y1="650.8" x2="222.34" y2="650.8" stroke="#333" stroke-width="0.9"/>
<polyline points="183.14,645.42 195.77,646.32 208.41,646.32 221.04,648.41" fill="none" stroke="#4cbf5a" stroke-width="1.3"/>
<polygon points="183.14,643.82 184.74,646.7 181.54,646.7" fill="#4cbf5a"/>
<polygon points="195.77,644.72 197.37,647.6 194.17,647.6" fill="#4cbf5a"/>
<polygon points="208.41,644.72 210.01,647.6 206.81,647.6" fill="#4cbf5a"/>
<polygon points="221.04,646.81 222.64,649.69 219.44,649.69" fill="#4cbf5a"/>
<polyline points="183.14,645.42 195.77,647.04 208.41,646.62 221.04,648.83" fill="none" stroke="#d8283a" stroke-width="1.3"/>
<circle cx="183.14" cy="645.42" r="1.6" fill="#d8283a"/>
<circle cx="195.77" cy="647.04" r="1.6" fill="#d8283a"/>
<circle cx="208.41" cy="646.62" r="1.6" fill="#d8283a"/>
<circle cx="221.04" cy="648.83" r="1.6" fill="#d8283a"/>
<polyline points="183.14,645.42 195.77,640.94 208.41,640.64 221.04,638.85" fill="none" stroke="#1f67ac" stroke-width="1.3"/>
<circle cx="183.14" cy="645.42" r="1.6" fill="#1f67ac"/>
<circle cx="195.77" cy="640.94" r="1.6" fill="#1f67ac"/>
<circle cx="208.41" cy="640.64" r="1.6" fill="#1f67ac"/>
<circle cx="221.04" cy="638.85" r="1.6" fill="#1f67ac"/>
<polyline points="183.14,639.57 195.77,615.25 208.41,609.58 221.04,619.97" fill="none" stroke="#4e2a7a" stroke-width="1.3"/>
<polygon points="183.14,637.65 184.74,639.57 183.14,641.49 181.54,639.57" fill="#4e2a7a"/>
<polygon points="195.77,613.33 197.37,615.25 195.77,617.17 194.17,615.25" fill="#4e2a7a"/>
<polygon points="208.41,607.66 210.01,609.58 208.41,611.5 206.81,609.58" fill="#4e2a7a"/>
<polygon points="221.04,618.05 222.64,619.97 221.04,621.89 219.44,619.97" fill="#4e2a7a"/>
<line x1="170.5" y1="651.4" x2="235.5" y2="651.4" stroke="#222" stroke-width="1"/>
<line x1="170.5" y1="651.4" x2="170.5" y2="653.9" stroke="#222" stroke-width="1"/>
<line x1="183.14" y1="651.4" x2="183.14" y2="653.9" stroke="#222" stroke-width="1"/>
<line x1="195.77" y1="651.4" x2="195.77" y2="653.9" stroke="#222" stroke-width="1"/>
<line x1="208.41" y1="651.4" x2="208.41" y2="653.9" stroke="#222" stroke-width="1"/>
<line x1="221.04" y1="651.4" x2="221.04" y2="653.9" stroke="#222" stroke-width="1"/>
<line x1="233.68" y1="651.4" x2="233.68" y2="653.9" stroke="#222" stroke-width="1"/>
<text x="170.5" y="662.8" font-size="6.8" text-anchor="middle" textLength="3.7" lengthAdjust="spacingAndGlyphs" stroke="#222" stroke-width="0.15">0</text>
<text x="183.14" y="662.8" font-size="6.8" text-anchor="middle" textLength="7.4" lengthAdjust="spacingAndGlyphs" stroke="#222" stroke-width="0.15">24</text>
<text x="195.77" y="662.8" font-size="6.8" text-anchor="middle" textLength="7.4" lengthAdjust="spacingAndGlyphs" stroke="#222" stroke-width="0.15">48</text>
<text x="208.41" y="662.8" font-size="6.8" text-anchor="middle" textLength="7.4" lengthAdjust="spacingAndGlyphs" stroke="#222" stroke-width="0.15">72</text>
<text x="221.04" y="662.8" font-size="6.8" text-anchor="middle" textLength="7.4" lengthAdjust="spacingAndGlyphs" stroke="#222" stroke-width="0.15">96</text>
<text x="233.68" y="662.8" font-size="6.8" text-anchor="middle" textLength="11.1" lengthAdjust="spacingAndGlyphs" stroke="#222" stroke-width="0.15">120</text>
<circle cx="194.27" cy="596.4" r="0.85" fill="#111"/>
<circle cx="197.27" cy="596.4" r="0.85" fill="#111"/>
<circle cx="208.41" cy="586.7" r="0.85" fill="#111"/>
<circle cx="221.04" cy="596.4" r="0.85" fill="#111"/>
<text x="190" y="674.6" font-size="9" textLength="24.6" lengthAdjust="spacingAndGlyphs" stroke="#222" stroke-width="0.15">Time (h)</text>
<line x1="224.8" y1="576.5" x2="239.2" y2="576.5" stroke="#d8283a" stroke-width="1.2"/>
<circle cx="232" cy="576.5" r="1.5" fill="#d8283a"/>
<text x="243.1" y="579.02" font-size="7" textLength="20.7" lengthAdjust="spacingAndGlyphs" stroke="#222" stroke-width="0.15">Vehicle</text>
<line x1="224.8" y1="585.6" x2="239.2" y2="585.6" stroke="#1f67ac" stroke-width="1.2"/>
<circle cx="232" cy="585.6" r="1.5" fill="#1f67ac"/>
<text x="243.1" y="588.12" font-size="7" textLength="13.5" lengthAdjust="spacingAndGlyphs" stroke="#222" stroke-width="0.15">IFNγ</text>
<line x1="224.8" y1="594.8" x2="239.2" y2="594.8" stroke="#4cbf5a" stroke-width="1.2"/>
<polygon points="232,593.3 233.5,596 230.5,596" fill="#4cbf5a"/>
<text x="243.1" y="597.32" font-size="7" textLength="19.6" lengthAdjust="spacingAndGlyphs" stroke="#222" stroke-width="0.15">T Cells</text>
<line x1="224.8" y1="603.8" x2="239.2" y2="603.8" stroke="#4e2a7a" stroke-width="1.2"/>
<polygon points="232,602 233.5,603.8 232,605.6 230.5,603.8" fill="#4e2a7a"/>
<text x="243.1" y="606.32" font-size="7" textLength="18.2" lengthAdjust="spacingAndGlyphs" stroke="#222" stroke-width="0.15">FLZ+T</text>
<text x="152.3" y="615.2" font-size="8.2" text-anchor="middle" textLength="58.9" lengthAdjust="spacingAndGlyphs" stroke="#222" stroke-width="0.15" transform="rotate(-90 152.3 615.2)">MHC-II rMFI (×10<tspan dy="-3" font-size="5.8">2</tspan><tspan dy="3">)</tspan></text>
<text x="366.6" y="551.8" font-size="10.2" textLength="55.4" lengthAdjust="spacingAndGlyphs">AML-250167</text>
<line x1="273.5" y1="557" x2="516.2" y2="557" stroke="#222" stroke-width="1.2"/>
<text x="273.8" y="570.4" font-size="10.5" textLength="8.7" lengthAdjust="spacingAndGlyphs" font-weight="bold" fill="#111">O</text>
<line x1="299.5" y1="578.3" x2="299.5" y2="651.6" stroke="#222" stroke-width="1"/>
<line x1="297" y1="651.2" x2="299.5" y2="651.2" stroke="#222" stroke-width="1"/>
<text x="294.3" y="653.72" font-size="7" text-anchor="end" textLength="3.7" lengthAdjust="spacingAndGlyphs" stroke="#222" stroke-width="0.15">0</text>
<line x1="297" y1="633.35" x2="299.5" y2="633.35" stroke="#222" stroke-width="1"/>
<text x="294.3" y="635.87" font-size="7" text-anchor="end" textLength="7.4" lengthAdjust="spacingAndGlyphs" stroke="#222" stroke-width="0.15">10</text>
<line x1="297" y1="615.5" x2="299.5" y2="615.5" stroke="#222" stroke-width="1"/>
<text x="294.3" y="618.02" font-size="7" text-anchor="end" textLength="7.4" lengthAdjust="spacingAndGlyphs" stroke="#222" stroke-width="0.15">20</text>
<line x1="297" y1="597.65" x2="299.5" y2="597.65" stroke="#222" stroke-width="1"/>
<text x="294.3" y="600.17" font-size="7" text-anchor="end" textLength="7.4" lengthAdjust="spacingAndGlyphs" stroke="#222" stroke-width="0.15">30</text>
<line x1="297" y1="579.8" x2="299.5" y2="579.8" stroke="#222" stroke-width="1"/>
<text x="294.3" y="582.32" font-size="7" text-anchor="end" textLength="7.4" lengthAdjust="spacingAndGlyphs" stroke="#222" stroke-width="0.15">40</text>
<rect x="302.3" y="650.84" width="6.5" height="0.36" fill="#a9bf8a"/>
<circle cx="304.9" cy="650.66" r="1.05" fill="#111"/>
<circle cx="306.2" cy="650.66" r="1.05" fill="#111"/>
<rect x="311.8" y="650.66" width="6.5" height="0.54" fill="#cf6a1c"/>
<circle cx="314.4" cy="650.49" r="1.05" fill="#111"/>
<circle cx="315.7" cy="650.49" r="1.05" fill="#111"/>
<rect x="328.5" y="647.9" width="6.5" height="3.3" fill="#a9bf8a"/>
<line x1="331.75" y1="645.85" x2="331.75" y2="647.9" stroke="#3a3a3a" stroke-width="1"/>
<line x1="330.45" y1="645.85" x2="333.05" y2="645.85" stroke="#3a3a3a" stroke-width="1"/>
<circle cx="331.1" cy="646.2" r="1.05" fill="#111"/>
<circle cx="332.4" cy="649.42" r="1.05" fill="#111"/>
<rect x="338" y="647.9" width="6.5" height="3.3" fill="#cf6a1c"/>
<circle cx="339.95" cy="647.63" r="1.05" fill="#111"/>
<circle cx="341.25" cy="647.99" r="1.05" fill="#111"/>
<circle cx="342.55" cy="648.17" r="1.05" fill="#111"/>
<rect x="354.6" y="650.84" width="6.5" height="0.36" fill="#a9bf8a"/>
<circle cx="357.2" cy="650.66" r="1.05" fill="#111"/>
<circle cx="358.5" cy="650.66" r="1.05" fill="#111"/>
<rect x="364.1" y="650.49" width="6.5" height="0.71" fill="#cf6a1c"/>
<circle cx="366.7" cy="650.31" r="1.05" fill="#111"/>
<circle cx="368" cy="650.31" r="1.05" fill="#111"/>
<rect x="380.9" y="606.75" width="6.5" height="44.45" fill="#a9bf8a"/>
<line x1="384.15" y1="596.76" x2="384.15" y2="606.75" stroke="#3a3a3a" stroke-width="1"/>
<line x1="382.85" y1="596.76" x2="385.45" y2="596.76" stroke="#3a3a3a" stroke-width="1"/>
<circle cx="382.85" cy="597.65" r="1.05" fill="#111"/>
<circle cx="384.15" cy="599.43" r="1.05" fill="#111"/>
<circle cx="385.45" cy="611.93" r="1.05" fill="#111"/>
<rect x="390.4" y="643.17" width="6.5" height="8.03" fill="#cf6a1c"/>
<circle cx="393" cy="642.99" r="1.05" fill="#111"/>
<circle cx="394.3" cy="643.35" r="1.05" fill="#111"/>
<line x1="299.5" y1="651.2" x2="398.3" y2="651.2" stroke="#222" stroke-width="1"/>
<line x1="310.3" y1="651.2" x2="310.3" y2="653.7" stroke="#222" stroke-width="1"/>
<line x1="336.5" y1="651.2" x2="336.5" y2="653.7" stroke="#222" stroke-width="1"/>
<line x1="362.6" y1="651.2" x2="362.6" y2="653.7" stroke="#222" stroke-width="1"/>
<line x1="388.9" y1="651.2" x2="388.9" y2="653.7" stroke="#222" stroke-width="1"/>
<line x1="358.7" y1="583.3" x2="393.7" y2="583.3" stroke="#1e1e1e" stroke-width="1"/>
<circle cx="371.7" cy="580.3" r="0.85" fill="#111"/>
<circle cx="374.7" cy="580.3" r="0.85" fill="#111"/>
<circle cx="377.7" cy="580.3" r="0.85" fill="#111"/>
<circle cx="380.7" cy="580.3" r="0.85" fill="#111"/>
<line x1="368.7" y1="587.9" x2="393.7" y2="587.9" stroke="#1e1e1e" stroke-width="1"/>
<circle cx="381.2" cy="584.9" r="0.85" fill="#111"/>
<line x1="384.8" y1="593.3" x2="393.7" y2="593.3" stroke="#1e1e1e" stroke-width="1"/>
<circle cx="389.25" cy="590.3" r="0.85" fill="#111"/>
<rect x="303.6" y="577.5" width="5.4" height="5.4" fill="#a9bf8a"/>
<text x="312.9" y="582.86" font-size="7.4" textLength="24.3" lengthAdjust="spacingAndGlyphs" fill="#2a2a50" stroke="#2a2a50" stroke-width="0.15">Top well</text>
<rect x="303.6" y="586.7" width="5.4" height="5.4" fill="#cf6a1c"/>
<text x="312.9" y="592.06" font-size="7.4" textLength="35" lengthAdjust="spacingAndGlyphs" fill="#2a2a50" stroke="#2a2a50" stroke-width="0.15">Bottom well</text>
<text x="281" y="615.5" font-size="7.4" text-anchor="middle" textLength="36.4" lengthAdjust="spacingAndGlyphs" stroke="#222" stroke-width="0.15" transform="rotate(-90 281 615.5)">MHC-II rMFI</text>
<text x="300" y="663.2" font-size="7.6" textLength="21.5" lengthAdjust="spacingAndGlyphs" stroke="#222" stroke-width="0.15">Vehicle</text>
<text x="329.6" y="663.2" font-size="7.6" textLength="13.4" lengthAdjust="spacingAndGlyphs" stroke="#222" stroke-width="0.15">IFNγ</text>
<text x="352.5" y="663.2" font-size="7.6" textLength="20.2" lengthAdjust="spacingAndGlyphs" stroke="#222" stroke-width="0.15">T Cells</text>
<text x="379.4" y="663.2" font-size="7.6" textLength="18.9" lengthAdjust="spacingAndGlyphs" stroke="#222" stroke-width="0.15">FLZ+T</text>
<text x="410.5" y="569.6" font-size="10.5" textLength="6.6" lengthAdjust="spacingAndGlyphs" font-weight="bold" fill="#111">P</text>
<line x1="437.2" y1="580.3" x2="437.2" y2="651.6" stroke="#222" stroke-width="1"/>
<line x1="434.7" y1="651.2" x2="437.2" y2="651.2" stroke="#222" stroke-width="1"/>
<text x="433" y="653.72" font-size="7" text-anchor="end" textLength="4.2" lengthAdjust="spacingAndGlyphs" stroke="#222" stroke-width="0.15">0</text>
<line x1="434.7" y1="633.88" x2="437.2" y2="633.88" stroke="#222" stroke-width="1"/>
<text x="433" y="636.39" font-size="7" text-anchor="end" textLength="4.2" lengthAdjust="spacingAndGlyphs" stroke="#222" stroke-width="0.15">1</text>
<line x1="434.7" y1="616.55" x2="437.2" y2="616.55" stroke="#222" stroke-width="1"/>
<text x="433" y="619.07" font-size="7" text-anchor="end" textLength="4.2" lengthAdjust="spacingAndGlyphs" stroke="#222" stroke-width="0.15">2</text>
<line x1="434.7" y1="599.23" x2="437.2" y2="599.23" stroke="#222" stroke-width="1"/>
<text x="433" y="601.75" font-size="7" text-anchor="end" textLength="4.2" lengthAdjust="spacingAndGlyphs" stroke="#222" stroke-width="0.15">3</text>
<line x1="434.7" y1="581.9" x2="437.2" y2="581.9" stroke="#222" stroke-width="1"/>
<text x="433" y="584.42" font-size="7" text-anchor="end" textLength="4.2" lengthAdjust="spacingAndGlyphs" stroke="#222" stroke-width="0.15">4</text>
<line x1="462.27" y1="597.49" x2="462.27" y2="616.9" stroke="#333" stroke-width="0.9"/>
<line x1="460.97" y1="597.49" x2="463.57" y2="597.49" stroke="#333" stroke-width="0.9"/>
<line x1="460.97" y1="616.9" x2="463.57" y2="616.9" stroke="#333" stroke-width="0.9"/>
<line x1="474.91" y1="623.48" x2="474.91" y2="628.68" stroke="#333" stroke-width="0.9"/>
<line x1="473.61" y1="623.48" x2="476.21" y2="623.48" stroke="#333" stroke-width="0.9"/>
<line x1="473.61" y1="628.68" x2="476.21" y2="628.68" stroke="#333" stroke-width="0.9"/>
<polyline points="449.64,651.2 462.27,651.2 474.91,651.2 487.54,651.2" fill="none" stroke="#4cbf5a" stroke-width="1.3"/>
<polygon points="449.64,649.6 451.24,652.48 448.04,652.48" fill="#4cbf5a"/>
<polygon points="462.27,649.6 463.87,652.48 460.67,652.48" fill="#4cbf5a"/>
<polygon points="474.91,649.6 476.51,652.48 473.31,652.48" fill="#4cbf5a"/>
<polygon points="487.54,649.6 489.14,652.48 485.94,652.48" fill="#4cbf5a"/>
<polyline points="449.64,651.2 462.27,633.88 474.91,638.21 487.54,631.28" fill="none" stroke="#1f67ac" stroke-width="1.3"/>
<circle cx="449.64" cy="651.2" r="1.6" fill="#1f67ac"/>
<circle cx="462.27" cy="633.88" r="1.6" fill="#1f67ac"/>
<circle cx="474.91" cy="638.21" r="1.6" fill="#1f67ac"/>
<circle cx="487.54" cy="631.28" r="1.6" fill="#1f67ac"/>
<polyline points="449.64,651.2 462.27,608.23 474.91,625.56 487.54,620.01" fill="none" stroke="#4e2a7a" stroke-width="1.3"/>
<polygon points="449.64,649.28 451.24,651.2 449.64,653.12 448.04,651.2" fill="#4e2a7a"/>
<polygon points="462.27,606.31 463.87,608.23 462.27,610.15 460.67,608.23" fill="#4e2a7a"/>
<polygon points="474.91,623.64 476.51,625.56 474.91,627.48 473.31,625.56" fill="#4e2a7a"/>
<polygon points="487.54,618.1 489.14,620.01 487.54,621.93 485.94,620.01" fill="#4e2a7a"/>
<line x1="437.2" y1="651.2" x2="503.8" y2="651.2" stroke="#222" stroke-width="1"/>
<line x1="437" y1="651.2" x2="437" y2="653.7" stroke="#222" stroke-width="1"/>
<line x1="449.64" y1="651.2" x2="449.64" y2="653.7" stroke="#222" stroke-width="1"/>
<line x1="462.27" y1="651.2" x2="462.27" y2="653.7" stroke="#222" stroke-width="1"/>
<line x1="474.91" y1="651.2" x2="474.91" y2="653.7" stroke="#222" stroke-width="1"/>
<line x1="487.54" y1="651.2" x2="487.54" y2="653.7" stroke="#222" stroke-width="1"/>
<line x1="500.18" y1="651.2" x2="500.18" y2="653.7" stroke="#222" stroke-width="1"/>
<line x1="449.64" y1="651.2" x2="491.54" y2="651.2" stroke="#d8283a" stroke-width="1.1"/>
<circle cx="449.64" cy="651.2" r="1.3" fill="#d8283a"/>
<circle cx="462.27" cy="651.2" r="1.3" fill="#d8283a"/>
<circle cx="474.91" cy="651.2" r="1.3" fill="#d8283a"/>
<circle cx="487.54" cy="651.2" r="1.3" fill="#d8283a"/>
<text x="437" y="663" font-size="6.8" text-anchor="middle" textLength="3.7" lengthAdjust="spacingAndGlyphs" stroke="#222" stroke-width="0.15">0</text>
<text x="449.64" y="663" font-size="6.8" text-anchor="middle" textLength="7.4" lengthAdjust="spacingAndGlyphs" stroke="#222" stroke-width="0.15">24</text>
<text x="462.27" y="663" font-size="6.8" text-anchor="middle" textLength="7.4" lengthAdjust="spacingAndGlyphs" stroke="#222" stroke-width="0.15">48</text>
<text x="474.91" y="663" font-size="6.8" text-anchor="middle" textLength="7.4" lengthAdjust="spacingAndGlyphs" stroke="#222" stroke-width="0.15">72</text>
<text x="487.54" y="663" font-size="6.8" text-anchor="middle" textLength="7.4" lengthAdjust="spacingAndGlyphs" stroke="#222" stroke-width="0.15">96</text>
<text x="500.18" y="663" font-size="6.8" text-anchor="middle" textLength="11.1" lengthAdjust="spacingAndGlyphs" stroke="#222" stroke-width="0.15">120</text>
<circle cx="462.27" cy="593.2" r="0.85" fill="#111"/>
<circle cx="474.91" cy="619.6" r="0.85" fill="#111"/>
<circle cx="484.54" cy="612.7" r="0.85" fill="#111"/>
<circle cx="487.54" cy="612.7" r="0.85" fill="#111"/>
<circle cx="490.54" cy="612.7" r="0.85" fill="#111"/>
<text x="457.4" y="674.6" font-size="9" textLength="24.6" lengthAdjust="spacingAndGlyphs" stroke="#222" stroke-width="0.15">Time (h)</text>
<line x1="477" y1="573.8" x2="491.2" y2="573.8" stroke="#d8283a" stroke-width="1.2"/>
<circle cx="484.1" cy="573.8" r="1.5" fill="#d8283a"/>
<text x="494.5" y="576.32" font-size="7" textLength="21.7" lengthAdjust="spacingAndGlyphs" stroke="#222" stroke-width="0.15">Vehicle</text>
<line x1="477" y1="583" x2="491.2" y2="583" stroke="#1f67ac" stroke-width="1.2"/>
<circle cx="484.1" cy="583" r="1.5" fill="#1f67ac"/>
<text x="494.5" y="585.52" font-size="7" textLength="13.5" lengthAdjust="spacingAndGlyphs" stroke="#222" stroke-width="0.15">IFNγ</text>
<line x1="477" y1="592.5" x2="491.2" y2="592.5" stroke="#4cbf5a" stroke-width="1.2"/>
<polygon points="484.1,591 485.6,593.7 482.6,593.7" fill="#4cbf5a"/>
<text x="494.5" y="595.02" font-size="7" textLength="20" lengthAdjust="spacingAndGlyphs" stroke="#222" stroke-width="0.15">T Cells</text>
<line x1="477" y1="601.3" x2="491.2" y2="601.3" stroke="#4e2a7a" stroke-width="1.2"/>
<polygon points="484.1,599.5 485.6,601.3 484.1,603.1 482.6,601.3" fill="#4e2a7a"/>
<text x="494.5" y="603.82" font-size="7" textLength="19" lengthAdjust="spacingAndGlyphs" stroke="#222" stroke-width="0.15">FLZ+T</text>
<text x="418.8" y="615.2" font-size="8.2" text-anchor="middle" textLength="58.9" lengthAdjust="spacingAndGlyphs" stroke="#222" stroke-width="0.15" transform="rotate(-90 418.8 615.2)">MHC-II rMFI (×10<tspan dy="-3" font-size="5.8">2</tspan><tspan dy="3">)</tspan></text>
</g>
</svg>
</body></html>
